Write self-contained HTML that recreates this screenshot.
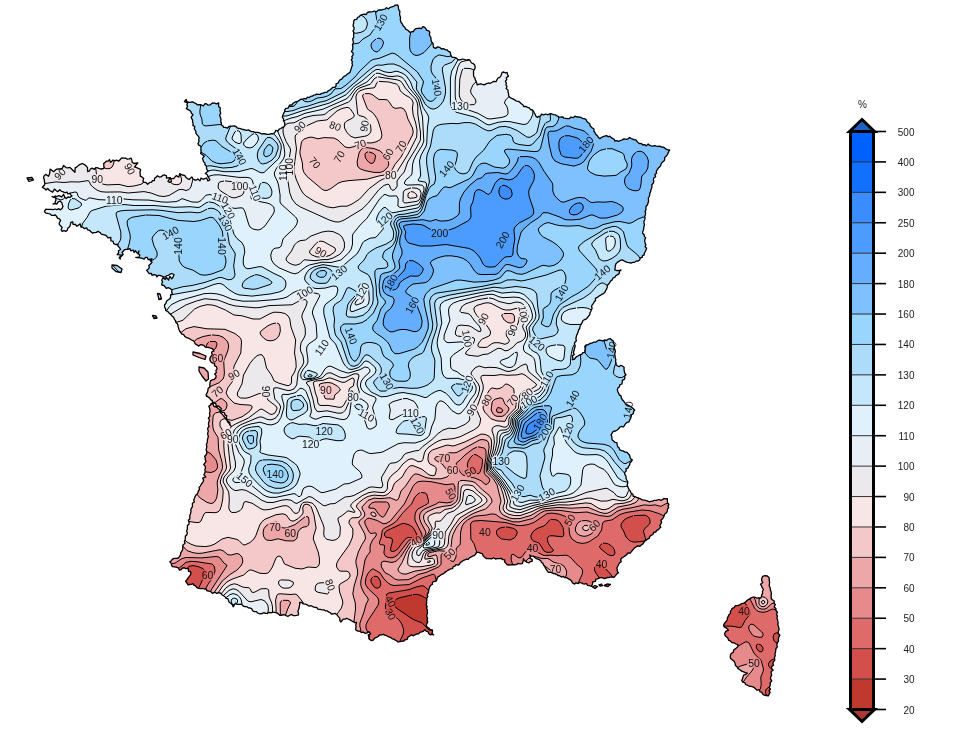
<!DOCTYPE html>
<html><head><meta charset="utf-8"><style>
html,body{margin:0;padding:0;background:#fff;}
svg{display:block;}
.cl{font-family:"Liberation Sans",Arial,sans-serif;font-size:10px;fill:#222;}
.lb,.lbm{font-family:"Liberation Sans",Arial,sans-serif;font-size:10.4px;text-anchor:middle;}
.lb{fill:#111;}
.lbm{fill:#000;stroke:#000;stroke-width:3px;}
</style></head><body>
<svg width="962" height="738" viewBox="0 0 962 738">
<defs><mask id="lm" maskUnits="userSpaceOnUse" x="0" y="0" width="962" height="738"><rect width="962" height="738" fill="#fff"/><g class="lbm"><text x="59.9" y="177.7" transform="rotate(-45 59.9 174.0)">90</text><text x="97.3" y="182.7">90</text><text x="129.8" y="172.5" transform="rotate(60 129.8 168.8)">90</text><text x="114.3" y="203.7">110</text><text x="239.6" y="190.0">100</text><text x="255.0" y="196.7" transform="rotate(70 255.0 193.0)">110</text><text x="220.0" y="201.7" transform="rotate(20 220.0 198.0)">110</text><text x="228.2" y="214.3" transform="rotate(60 228.2 210.6)">120</text><text x="225.4" y="226.6" transform="rotate(60 225.4 222.9)">130</text><text x="170.5" y="236.7" transform="rotate(-30 170.5 233.0)">140</text><text x="178.6" y="249.7" transform="rotate(-90 178.6 246.0)">140</text><text x="221.3" y="249.7" transform="rotate(90 221.3 246.0)">140</text><text x="239.6" y="160.3" transform="rotate(60 239.6 156.6)">140</text><text x="283.5" y="176.5" transform="rotate(-90 283.5 172.8)">110</text><text x="289.2" y="170.4" transform="rotate(-90 289.2 166.7)">100</text><text x="299.8" y="130.6" transform="rotate(-45 299.8 126.9)">90</text><text x="335.2" y="129.7" transform="rotate(20 335.2 126.0)">80</text><text x="314.8" y="166.4" transform="rotate(50 314.8 162.7)">70</text><text x="339.2" y="160.3" transform="rotate(-60 339.2 156.6)">70</text><text x="320.9" y="255.7" transform="rotate(30 320.9 252.0)">90</text><text x="339.2" y="276.2" transform="rotate(-40 339.2 272.5)">130</text><text x="304.7" y="296.5" transform="rotate(-30 304.7 292.8)">100</text><text x="380.7" y="26.1" transform="rotate(-60 380.7 22.4)">130</text><text x="436.8" y="91.1" transform="rotate(80 436.8 87.4)">140</text><text x="460.0" y="110.2">130</text><text x="364.4" y="129.7" transform="rotate(-80 364.4 126.0)">90</text><text x="360.3" y="148.1" transform="rotate(-20 360.3 144.4)">70</text><text x="388.0" y="158.2" transform="rotate(-60 388.0 154.5)">60</text><text x="401.0" y="150.1" transform="rotate(-60 401.0 146.4)">70</text><text x="390.8" y="178.6">80</text><text x="446.5" y="172.5" transform="rotate(-50 446.5 168.8)">140</text><text x="384.7" y="223.3" transform="rotate(-40 384.7 219.6)">120</text><text x="439.6" y="237.2">200</text><text x="502.7" y="243.7" transform="rotate(-60 502.7 240.0)">200</text><text x="586.0" y="148.1" transform="rotate(-50 586.0 144.4)">180</text><text x="390.8" y="286.3" transform="rotate(-60 390.8 282.6)">180</text><text x="362.4" y="294.5" transform="rotate(-60 362.4 290.8)">120</text><text x="602.3" y="276.2" transform="rotate(-40 602.3 272.5)">140</text><text x="561.6" y="296.5" transform="rotate(-60 561.6 292.8)">140</text><text x="412.2" y="308.9" transform="rotate(-60 412.2 305.2)">160</text><text x="351.3" y="339.4" transform="rotate(70 351.3 335.7)">140</text><text x="321.8" y="351.2" transform="rotate(-55 321.8 347.5)">110</text><text x="217.5" y="362.1">60</text><text x="233.8" y="378.3" transform="rotate(-30 233.8 374.6)">90</text><text x="265.6" y="395.3" transform="rotate(90 265.6 391.6)">90</text><text x="217.5" y="395.3" transform="rotate(-40 217.5 391.6)">70</text><text x="386.8" y="385.1" transform="rotate(60 386.8 381.4)">130</text><text x="325.9" y="393.6">90</text><text x="353.0" y="401.3">80</text><text x="366.5" y="419.0" transform="rotate(30 366.5 415.3)">110</text><text x="410.5" y="417.3">110</text><text x="417.3" y="429.1" transform="rotate(60 417.3 425.4)">120</text><text x="226.0" y="437.6" transform="rotate(-30 226.0 433.9)">60</text><text x="232.8" y="442.7">90</text><text x="324.2" y="435.2">120</text><text x="310.6" y="447.7">120</text><text x="275.1" y="478.2">140</text><text x="244.6" y="483.3" transform="rotate(40 244.6 479.6)">150</text><text x="275.1" y="530.7">70</text><text x="290.3" y="537.4">60</text><text x="523.3" y="317.8" transform="rotate(80 523.3 314.1)">100</text><text x="483.4" y="322.7" transform="rotate(-60 483.4 319.0)">90</text><text x="512.6" y="334.1" transform="rotate(-70 512.6 330.4)">90</text><text x="467.1" y="342.2" transform="rotate(80 467.1 338.5)">100</text><text x="537.0" y="347.1" transform="rotate(40 537.0 343.4)">120</text><text x="611.7" y="353.6" transform="rotate(-80 611.7 349.9)">140</text><text x="467.1" y="387.7" transform="rotate(-70 467.1 384.0)">120</text><text x="546.7" y="382.8" transform="rotate(-60 546.7 379.1)">110</text><text x="527.2" y="397.4" transform="rotate(-40 527.2 393.7)">80</text><text x="512.6" y="403.9" transform="rotate(-50 512.6 400.2)">70</text><text x="528.9" y="405.6" transform="rotate(-30 528.9 401.9)">100</text><text x="486.6" y="403.9" transform="rotate(-60 486.6 400.2)">80</text><text x="472.0" y="413.7" transform="rotate(-60 472.0 410.0)">90</text><text x="572.7" y="402.3" transform="rotate(-60 572.7 398.6)">140</text><text x="628.0" y="413.7" transform="rotate(-80 628.0 410.0)">140</text><text x="567.9" y="434.8" transform="rotate(-70 567.9 431.1)">120</text><text x="501.2" y="464.7">130</text><text x="444.4" y="461.8">70</text><text x="452.5" y="473.8">60</text><text x="470.4" y="475.4" transform="rotate(-30 470.4 471.7)">50</text><text x="450.9" y="497.5" transform="rotate(60 450.9 493.8)">50</text><text x="517.5" y="496.6" transform="rotate(-60 517.5 492.9)">130</text><text x="546.7" y="498.2" transform="rotate(-30 546.7 494.5)">130</text><text x="416.1" y="544.7" transform="rotate(-30 416.1 541.0)">40</text><text x="438.1" y="539.2">90</text><text x="449.6" y="557.5" transform="rotate(-45 449.6 553.8)">50</text><text x="390.5" y="605.1" transform="rotate(60 390.5 601.4)">40</text><text x="390.5" y="617.9" transform="rotate(60 390.5 614.2)">30</text><text x="330.1" y="588.6" transform="rotate(70 330.1 584.9)">80</text><text x="207.6" y="579.4">60</text><text x="569.8" y="523.9" transform="rotate(-60 569.8 520.2)">50</text><text x="594.5" y="529.2" transform="rotate(-45 594.5 525.5)">60</text><text x="532.6" y="552.2">40</text><text x="601.6" y="568.1">40</text><text x="555.6" y="573.4">70</text><text x="484.9" y="536.3">40</text><text x="540.0" y="425.7" transform="rotate(-60 540.0 422.0)">180</text><text x="545.0" y="435.7" transform="rotate(-60 545.0 432.0)">200</text><text x="744.0" y="614.7">40</text><text x="754.0" y="666.7">50</text></g></mask><clipPath id="fr"><path d="M45.7,174.4 L48.6,176.2 L49.8,173.0 L50.1,169.1 L53.6,171.7 L55.2,170.3 L56.8,169.1 L58.7,168.9 L60.6,169.0 L62.3,168.3 L63.5,165.5 L66.0,167.6 L67.9,167.8 L69.9,167.4 L71.5,169.0 L74.9,172.3 L75.2,167.9 L76.9,166.9 L78.5,165.4 L80.3,164.3 L82.3,163.5 L85.0,164.9 L86.5,166.3 L87.6,167.8 L87.5,169.8 L87.7,171.7 L89.5,170.8 L90.4,169.0 L92.1,168.2 L94.3,169.3 L95.8,167.6 L97.7,167.8 L99.5,168.6 L101.3,169.0 L104.0,168.3 L103.9,166.0 L103.7,163.6 L105.3,162.2 L106.5,161.1 L108.4,161.0 L109.4,159.5 L110.6,162.4 L113.1,160.0 L114.8,160.8 L116.5,160.1 L118.7,161.2 L120.2,159.5 L121.7,157.9 L123.7,158.2 L125.6,158.1 L127.4,159.2 L129.2,158.9 L131.0,158.1 L131.8,160.0 L132.1,162.1 L133.8,163.5 L137.8,162.8 L134.5,167.0 L136.5,167.6 L138.7,168.5 L140.6,169.6 L140.0,172.5 L140.2,174.3 L140.3,176.1 L142.3,177.3 L143.7,178.6 L142.9,180.8 L143.5,182.4 L145.6,182.3 L147.6,184.2 L149.7,182.4 L151.6,182.2 L152.4,180.6 L154.4,180.5 L154.6,178.2 L156.0,177.4 L157.4,175.8 L159.7,177.2 L161.4,176.7 L162.9,175.2 L164.7,175.0 L166.5,175.9 L166.5,178.1 L170.4,177.6 L168.0,181.4 L169.7,182.4 L171.4,181.6 L170.7,178.4 L173.5,178.7 L174.7,177.4 L176.2,175.6 L178.8,177.1 L179.7,173.7 L182.2,175.0 L184.6,175.4 L186.0,177.4 L187.5,178.6 L189.1,179.5 L191.8,176.9 L193.1,179.0 L194.7,180.0 L196.4,180.1 L197.9,179.0 L199.9,180.9 L201.1,178.0 L203.0,179.3 L204.6,178.7 L206.6,178.0 L207.8,180.8 L209.9,179.8 L209.0,178.1 L207.9,176.6 L207.4,174.8 L205.3,173.5 L208.2,171.1 L206.9,169.6 L206.5,168.0 L206.5,166.2 L205.0,164.8 L204.9,163.0 L203.5,161.6 L203.0,160.0 L202.6,158.3 L204.2,156.1 L202.5,154.8 L200.7,153.5 L201.1,151.6 L200.9,149.9 L201.0,148.1 L200.9,146.3 L198.8,145.1 L197.9,143.6 L199.1,141.5 L198.7,139.8 L199.2,137.7 L198.2,136.2 L197.1,134.8 L195.9,133.3 L195.9,131.4 L195.0,129.9 L194.3,128.4 L194.8,126.5 L192.8,125.4 L193.2,123.6 L192.5,122.1 L192.7,120.4 L191.9,118.9 L191.2,117.4 L193.0,114.7 L191.4,113.2 L190.7,111.3 L188.7,109.9 L186.3,108.6 L187.5,106.5 L186.9,104.8 L187.6,102.8 L184.4,101.7 L186.2,99.4 L186.7,101.3 L188.1,102.2 L190.0,102.4 L192.3,101.8 L194.1,102.7 L195.9,103.5 L197.5,104.9 L199.4,104.6 L201.4,104.9 L203.4,106.0 L205.0,103.7 L206.7,103.9 L208.2,105.2 L210.0,104.9 L212.4,102.9 L214.5,103.1 L216.6,103.9 L218.7,102.9 L218.6,104.7 L218.6,106.6 L220.3,108.1 L220.0,110.0 L220.2,111.6 L220.7,113.3 L219.6,115.0 L220.2,116.7 L220.8,118.3 L221.0,119.9 L220.7,121.6 L221.5,123.2 L221.2,124.9 L222.8,125.8 L223.7,127.4 L225.5,127.4 L227.4,128.2 L228.9,126.5 L230.6,126.1 L232.4,126.1 L234.1,126.0 L235.7,126.3 L237.0,127.8 L238.5,128.4 L240.2,128.5 L241.7,129.1 L243.3,129.5 L244.9,129.9 L246.5,130.4 L248.4,129.9 L250.0,130.9 L251.6,131.6 L253.3,131.6 L254.9,132.4 L256.7,132.4 L258.5,132.5 L260.2,133.1 L261.9,134.0 L263.8,133.6 L265.5,134.0 L267.3,134.4 L269.3,134.3 L271.1,133.7 L273.2,133.8 L274.8,132.4 L275.7,130.4 L278.1,130.8 L279.2,129.2 L280.8,128.5 L282.3,127.4 L283.8,126.8 L284.8,125.4 L284.9,123.6 L284.3,122.0 L283.4,120.6 L283.6,118.7 L282.3,117.4 L282.8,115.5 L283.5,113.6 L284.6,111.9 L284.8,109.9 L285.8,108.4 L288.1,108.2 L288.9,106.5 L289.8,104.9 L292.0,105.1 L293.1,103.2 L294.7,102.2 L296.5,101.6 L298.3,101.1 L299.8,99.9 L301.3,99.1 L303.0,99.2 L304.4,98.5 L306.3,98.9 L307.4,97.2 L309.3,97.7 L310.5,96.3 L312.2,96.2 L313.6,95.2 L315.2,94.9 L316.7,94.1 L318.5,94.4 L320.2,94.4 L321.6,93.4 L323.2,93.2 L324.7,92.4 L326.8,92.4 L328.1,90.9 L329.7,90.0 L331.3,88.9 L332.6,87.4 L334.7,87.4 L336.1,86.1 L336.0,83.8 L338.2,83.0 L338.9,81.3 L340.0,79.8 L341.8,79.2 L342.8,77.7 L344.0,76.3 L345.8,75.7 L347.0,74.3 L348.5,73.4 L350.0,72.4 L350.6,70.5 L351.2,68.6 L351.8,66.7 L352.5,64.9 L352.0,63.2 L352.4,61.6 L351.3,59.9 L352.4,58.2 L351.8,56.6 L353.1,54.9 L353.2,53.2 L351.4,51.6 L352.5,49.9 L352.8,48.1 L352.8,46.3 L352.4,44.5 L353.5,42.8 L353.1,40.9 L352.6,39.1 L353.7,37.4 L353.6,35.8 L353.6,34.2 L353.8,32.5 L353.0,30.9 L354.0,29.3 L354.1,27.7 L353.1,26.1 L353.3,24.4 L353.7,22.8 L353.7,21.2 L354.7,19.7 L356.8,19.4 L357.4,17.5 L359.1,16.8 L360.5,15.3 L362.2,14.6 L364.1,14.1 L366.3,14.5 L367.4,12.5 L369.2,12.0 L371.0,11.9 L372.8,11.7 L374.5,11.0 L376.6,11.9 L378.1,10.1 L379.9,10.0 L381.7,10.0 L383.3,9.3 L385.0,9.1 L386.4,7.7 L388.5,8.9 L389.9,7.5 L391.8,6.8 L393.7,6.3 L395.4,5.1 L397.4,5.0 L398.4,6.4 L398.4,8.2 L398.8,9.9 L399.9,11.2 L399.7,12.9 L399.6,14.5 L400.0,16.1 L400.6,17.7 L400.3,19.3 L400.6,20.9 L401.1,22.5 L402.4,24.1 L403.3,26.0 L404.9,27.4 L405.6,29.1 L407.3,30.0 L408.7,31.0 L409.8,32.4 L411.6,31.8 L413.5,31.5 L414.5,29.5 L416.1,28.7 L417.8,28.4 L419.6,28.1 L421.4,28.6 L422.9,26.7 L424.8,27.4 L425.9,28.8 L426.8,30.4 L428.9,30.8 L429.8,32.4 L429.3,34.4 L430.1,36.2 L431.0,38.0 L431.0,39.9 L431.5,41.8 L433.1,43.4 L433.2,45.4 L433.5,47.4 L435.6,48.4 L437.7,46.9 L439.8,47.4 L441.4,49.0 L443.6,48.6 L445.3,49.8 L447.3,49.9 L448.3,51.4 L450.3,52.2 L450.6,54.2 L451.2,56.0 L452.3,57.4 L454.4,57.4 L456.2,57.9 L457.8,59.5 L459.7,59.9 L461.4,59.5 L463.0,59.0 L464.7,59.5 L466.4,60.4 L468.0,59.6 L469.7,59.9 L470.6,61.5 L471.6,63.0 L473.4,63.7 L474.7,64.9 L475.1,66.6 L475.0,68.3 L474.1,69.9 L473.4,71.5 L473.6,73.2 L473.5,74.9 L473.8,76.7 L475.0,78.1 L475.2,79.9 L476.2,81.4 L476.8,83.1 L477.2,84.8 L479.1,84.1 L480.9,83.9 L482.8,84.5 L484.7,84.8 L486.4,83.6 L488.3,83.0 L490.4,83.3 L492.2,82.3 L493.7,81.3 L496.1,81.6 L497.0,79.7 L498.0,78.0 L499.7,77.3 L500.9,75.9 L501.5,74.1 L502.2,72.4 L503.8,72.0 L505.5,73.0 L507.1,72.4 L507.4,74.2 L508.4,76.1 L506.2,77.7 L506.8,79.5 L505.4,81.2 L506.4,83.1 L505.9,84.8 L507.0,86.4 L506.1,88.6 L508.0,90.0 L508.0,92.0 L508.6,93.9 L508.6,95.9 L510.0,97.5 L511.6,98.4 L513.4,99.1 L515.0,100.1 L516.5,101.2 L518.5,101.3 L520.0,102.5 L521.3,103.8 L522.8,104.7 L523.7,106.5 L526.0,106.3 L527.4,107.4 L529.3,107.8 L530.5,109.5 L532.4,110.0 L533.6,111.4 L534.3,113.0 L535.3,114.5 L535.9,116.3 L537.4,117.4 L538.8,116.4 L540.5,116.1 L541.6,114.2 L543.7,114.9 L545.7,114.0 L548.0,114.9 L549.9,113.7 L551.9,114.0 L553.8,114.6 L555.7,114.9 L557.4,116.2 L559.0,116.9 L560.7,117.1 L562.6,116.8 L564.0,118.2 L565.7,118.4 L567.4,118.7 L569.4,118.5 L571.0,117.1 L573.3,117.7 L574.9,116.2 L576.5,116.8 L578.2,117.0 L579.9,117.2 L581.5,117.7 L583.0,118.7 L584.8,118.7 L586.2,119.8 L586.9,121.6 L588.3,122.7 L589.8,123.7 L590.0,125.5 L591.1,126.8 L592.3,128.0 L594.0,129.0 L593.8,131.0 L594.8,132.4 L595.7,134.2 L597.2,135.6 L598.3,137.2 L599.8,138.6 L601.4,137.5 L603.0,136.7 L604.8,136.1 L606.5,135.6 L608.1,136.8 L609.8,136.1 L611.0,137.4 L612.5,138.4 L614.1,139.3 L614.8,141.1 L616.7,140.7 L618.7,141.3 L620.5,140.5 L622.3,139.9 L624.0,138.9 L626.3,139.4 L628.1,138.8 L629.7,137.4 L631.1,138.5 L632.7,139.1 L634.2,139.9 L636.0,139.9 L637.0,141.3 L638.2,142.7 L639.7,143.6 L641.4,143.5 L642.9,145.0 L644.7,144.6 L646.2,145.9 L648.2,144.0 L649.7,145.4 L651.3,145.9 L653.0,146.2 L654.7,145.6 L656.3,146.1 L658.0,146.4 L659.7,146.1 L661.3,147.0 L663.1,147.1 L664.7,147.9 L666.2,149.2 L667.8,149.9 L669.7,149.9 L668.8,151.5 L668.0,153.2 L667.2,154.9 L666.1,156.3 L664.7,157.5 L664.7,159.7 L663.8,161.2 L662.2,162.3 L661.1,163.8 L660.7,165.6 L659.5,167.0 L658.2,168.3 L657.2,169.8 L656.3,171.4 L656.5,173.3 L654.9,174.6 L655.6,176.8 L653.8,178.0 L653.4,179.8 L653.8,181.7 L653.2,183.3 L651.8,184.7 L652.0,186.5 L651.7,188.2 L650.9,189.8 L650.7,191.5 L649.9,193.1 L649.7,194.8 L649.3,196.5 L648.3,198.0 L648.5,199.8 L648.5,201.5 L647.9,203.2 L647.5,204.8 L646.2,206.2 L645.9,207.9 L646.0,209.7 L645.1,211.3 L645.6,213.0 L645.4,214.7 L644.7,216.3 L645.1,218.1 L644.7,219.7 L644.0,221.3 L643.9,223.0 L644.5,224.7 L643.9,226.4 L643.8,228.0 L643.5,229.7 L642.8,231.5 L642.5,233.2 L644.2,234.7 L644.3,236.4 L645.7,237.9 L644.7,239.7 L644.8,241.4 L645.1,243.1 L645.9,244.8 L645.1,246.6 L646.6,248.2 L646.0,250.0 L645.3,251.5 L644.4,252.9 L644.3,254.8 L642.5,255.7 L642.2,257.4 L640.4,257.9 L639.6,260.0 L638.1,261.0 L636.0,261.1 L634.7,262.4 L632.8,262.4 L631.0,263.1 L629.1,262.6 L627.2,262.4 L625.5,261.6 L623.9,260.8 L622.3,259.9 L620.4,260.3 L618.9,261.4 L617.3,262.4 L615.8,264.0 L615.3,265.9 L615.1,267.9 L614.8,269.9 L616.9,270.5 L618.9,270.6 L621.0,269.9 L619.5,271.3 L619.1,273.6 L617.3,274.9 L615.7,275.8 L614.8,277.4 L612.9,278.0 L612.3,279.9 L610.8,280.9 L609.8,282.4 L608.8,284.0 L607.3,285.3 L607.2,287.4 L606.6,289.1 L605.5,290.7 L604.8,292.4 L603.4,293.6 L601.8,294.3 L600.3,295.4 L598.7,296.3 L597.3,297.4 L595.4,298.3 L595.5,300.5 L594.3,301.8 L593.4,303.4 L592.3,304.8 L591.5,306.4 L592.1,308.3 L591.4,309.9 L590.7,311.5 L589.9,313.1 L589.8,314.8 L588.6,316.1 L587.5,317.5 L586.4,318.9 L584.6,319.6 L583.0,320.5 L582.3,322.3 L581.4,323.7 L580.7,325.3 L579.9,326.7 L579.8,328.5 L578.6,329.8 L578.1,331.7 L577.5,333.6 L576.6,335.4 L576.1,337.3 L575.9,339.0 L576.4,340.7 L574.9,342.2 L574.4,343.9 L575.2,345.7 L574.9,347.3 L574.3,349.0 L574.0,350.8 L573.4,352.5 L574.3,354.5 L572.2,356.0 L573.0,358.0 L572.4,359.7 L574.3,359.3 L575.4,357.8 L576.7,356.6 L578.3,355.7 L579.8,354.8 L581.7,354.4 L582.9,352.7 L584.8,352.3 L584.9,350.4 L585.2,348.5 L584.8,346.5 L586.1,344.8 L588.2,344.8 L589.8,343.5 L591.8,343.2 L593.5,342.2 L595.6,342.2 L597.3,341.0 L599.1,340.2 L601.0,340.4 L603.1,341.0 L604.8,339.8 L606.5,340.6 L608.4,339.1 L610.3,338.7 L611.8,340.2 L613.5,341.0 L613.2,342.8 L614.3,344.5 L614.4,346.3 L614.2,348.1 L614.8,349.8 L615.4,351.4 L614.9,353.1 L614.8,354.8 L615.1,356.4 L615.2,358.1 L615.9,359.7 L615.5,361.4 L616.1,363.0 L616.0,364.7 L617.4,365.7 L618.9,366.7 L620.8,365.3 L622.3,366.0 L624.1,367.3 L624.0,369.4 L624.3,371.3 L624.7,373.2 L626.0,374.7 L624.7,375.9 L624.9,377.9 L624.2,379.4 L622.4,380.4 L622.3,382.2 L621.8,384.0 L619.8,384.9 L619.4,386.8 L617.9,388.0 L617.3,389.7 L617.8,391.5 L618.6,393.2 L619.4,394.9 L621.1,396.1 L621.3,398.1 L622.3,399.7 L623.5,401.0 L624.6,402.3 L625.5,403.9 L627.2,404.7 L628.8,405.6 L630.4,406.5 L631.9,407.6 L633.3,408.8 L634.7,410.0 L633.5,411.5 L633.4,413.5 L631.6,414.7 L631.2,416.6 L630.6,418.4 L629.7,420.0 L629.0,421.8 L627.1,422.4 L625.7,423.5 L624.7,425.0 L623.7,426.8 L621.3,426.5 L619.7,427.2 L618.6,428.8 L617.2,430.0 L615.5,431.0 L613.3,431.4 L612.1,433.1 L611.0,434.9 L611.9,436.5 L611.8,438.2 L612.2,439.9 L613.5,441.1 L614.8,442.3 L616.9,442.7 L617.2,444.9 L617.7,446.8 L619.2,448.1 L619.7,449.9 L621.5,450.6 L623.5,451.1 L625.2,452.2 L627.2,452.4 L628.3,453.8 L629.6,455.2 L630.0,457.1 L630.6,458.8 L632.2,459.9 L631.5,461.6 L629.9,462.9 L629.7,464.9 L628.6,466.3 L627.9,468.1 L626.0,468.9 L626.1,471.1 L624.7,472.4 L624.7,474.4 L626.0,476.1 L626.0,478.2 L626.7,480.0 L627.7,481.5 L627.8,483.2 L627.1,485.0 L627.9,486.5 L628.3,488.1 L629.3,489.8 L630.5,491.3 L631.0,493.1 L632.9,494.3 L633.2,496.3 L635.0,496.4 L636.5,497.5 L638.2,497.8 L639.8,498.5 L641.3,499.5 L642.9,499.9 L644.6,500.2 L646.2,500.6 L647.8,501.1 L649.5,501.8 L651.1,501.3 L652.8,501.2 L654.3,500.3 L655.9,500.3 L657.5,500.0 L659.2,499.5 L660.8,500.3 L662.4,499.7 L663.8,498.4 L665.6,498.8 L667.3,498.7 L667.4,500.7 L667.5,502.7 L668.9,504.4 L668.0,505.9 L668.6,507.8 L667.4,509.2 L667.3,510.9 L666.6,512.8 L664.8,513.9 L664.1,515.8 L663.5,517.4 L662.4,518.9 L660.9,520.2 L661.6,522.3 L660.8,523.9 L659.8,525.4 L660.8,527.2 L659.5,528.3 L658.5,529.7 L656.6,530.3 L655.9,532.0 L653.8,532.3 L652.9,534.5 L651.1,535.3 L649.8,536.5 L649.2,538.3 L647.5,539.1 L646.2,540.2 L644.6,541.1 L643.8,542.6 L642.7,544.0 L641.3,545.0 L639.9,546.3 L638.0,545.9 L636.4,546.7 L634.9,547.6 L633.7,548.9 L632.6,550.2 L631.5,551.5 L630.3,553.2 L627.8,552.9 L626.7,554.8 L625.1,555.9 L623.5,557.0 L621.8,558.0 L620.6,559.5 L621.2,561.8 L619.4,563.0 L618.5,564.6 L617.8,566.2 L616.9,567.8 L617.2,569.5 L617.3,571.3 L618.5,572.7 L616.7,574.1 L615.3,575.9 L613.9,577.3 L612.1,576.9 L610.4,577.1 L608.8,577.6 L607.2,577.5 L605.5,578.3 L603.9,578.5 L602.3,577.6 L600.6,577.7 L599.0,578.2 L597.4,578.8 L595.8,579.2 L595.5,581.4 L592.8,581.9 L592.5,584.1 L591.6,586.3 L589.3,585.7 L587.6,585.4 L586.4,583.5 L584.4,584.1 L582.7,583.6 L581.2,582.8 L579.5,582.4 L578.1,583.6 L576.0,582.8 L574.6,584.1 L572.5,582.9 L571.4,580.8 L569.8,579.6 L568.2,578.6 L566.5,577.6 L564.7,577.7 L563.4,576.3 L561.4,577.1 L560.0,575.9 L558.1,575.5 L556.5,574.4 L554.7,573.6 L553.1,573.5 L551.6,572.7 L550.1,572.2 L548.4,572.4 L547.3,570.9 L546.3,569.5 L545.4,567.9 L544.7,566.2 L543.5,565.1 L543.0,563.4 L541.6,562.5 L540.9,561.0 L539.7,559.9 L538.0,559.1 L536.2,558.6 L534.7,557.4 L533.2,556.1 L531.1,556.2 L529.7,554.9 L530.3,556.5 L530.2,558.4 L532.1,559.4 L532.2,561.2 L530.5,561.6 L529.1,562.8 L527.2,562.4 L525.8,561.4 L524.2,560.5 L523.5,558.7 L523.3,560.4 L522.9,562.1 L522.2,563.7 L520.3,563.9 L518.3,563.4 L516.6,564.4 L514.7,564.9 L512.8,564.5 L511.0,564.9 L509.1,565.0 L507.2,564.9 L506.0,563.4 L504.7,562.0 L504.8,559.9 L502.9,559.6 L501.2,558.4 L499.2,558.7 L497.3,558.7 L495.4,559.0 L493.6,557.8 L491.7,558.9 L489.8,558.7 L488.0,558.6 L486.3,558.5 L484.8,557.4 L483.1,555.8 L482.3,553.7 L480.4,553.2 L478.6,552.4 L476.5,552.4 L475.5,554.4 L474.2,555.7 L472.3,556.2 L470.9,557.2 L469.4,557.8 L468.2,559.3 L466.3,559.1 L464.8,559.9 L463.2,560.5 L461.9,561.6 L460.4,562.3 L459.5,564.1 L458.2,565.2 L455.9,564.7 L454.9,566.2 L453.2,566.6 L452.5,568.7 L450.6,568.8 L449.2,569.7 L447.6,570.4 L446.3,571.4 L444.9,572.4 L443.6,573.6 L441.8,574.3 L440.4,575.3 L438.9,576.4 L437.4,577.4 L436.9,579.4 L436.1,581.1 L434.0,581.5 L432.4,582.4 L432.5,584.3 L430.8,585.3 L429.8,586.7 L429.3,588.3 L428.7,589.9 L428.6,591.6 L428.1,593.2 L427.2,594.7 L427.9,596.6 L426.7,598.1 L426.9,599.8 L426.5,601.5 L426.8,603.1 L426.1,604.8 L427.3,606.5 L426.4,608.1 L427.4,609.8 L427.3,611.5 L427.5,613.1 L426.9,614.8 L426.7,616.6 L427.6,618.4 L427.1,620.2 L427.8,621.9 L426.7,623.8 L426.3,625.6 L427.4,627.3 L429.0,628.2 L430.3,629.8 L432.4,629.8 L432.5,631.5 L432.0,633.4 L433.6,634.8 L432.0,634.3 L430.1,634.8 L428.7,633.5 L428.0,631.7 L426.1,631.1 L424.9,629.8 L423.5,631.1 L421.7,631.8 L419.9,632.3 L418.6,633.9 L416.6,634.0 L414.9,634.8 L413.4,635.8 L411.4,634.8 L409.9,636.0 L408.0,637.0 L407.2,639.3 L405.0,639.8 L403.6,641.2 L401.8,641.2 L400.0,641.5 L398.0,642.1 L396.5,640.7 L395.0,639.9 L393.6,639.1 L391.9,638.6 L390.7,637.4 L388.5,636.8 L386.5,635.7 L384.9,635.2 L383.3,634.4 L381.5,634.9 L379.5,635.0 L378.2,636.5 L376.6,637.4 L374.7,638.1 L373.5,639.9 L371.6,640.7 L369.0,639.0 L368.8,636.9 L368.2,634.9 L370.7,634.0 L369.0,631.6 L367.2,632.9 L364.9,633.3 L363.4,632.2 L361.4,632.5 L360.0,631.2 L357.8,631.1 L355.8,630.0 L355.8,628.3 L356.1,626.7 L355.8,625.0 L356.6,622.4 L354.7,622.6 L353.2,621.6 L351.6,620.8 L350.0,619.9 L348.3,619.0 L346.6,618.3 L345.1,619.1 L343.3,619.1 L342.0,620.5 L340.8,622.0 L339.8,620.3 L339.8,618.1 L338.3,616.6 L336.9,614.7 L335.0,613.3 L333.2,613.8 L331.5,614.0 L330.0,612.5 L328.5,611.9 L327.1,610.8 L325.4,610.8 L323.9,609.9 L322.2,609.8 L320.2,609.4 L318.2,609.3 L316.7,607.5 L314.7,607.3 L312.8,606.6 L311.1,605.7 L308.8,606.1 L307.2,604.8 L305.4,604.1 L303.3,603.9 L301.7,602.5 L299.7,602.3 L299.7,604.2 L299.4,606.1 L299.1,608.0 L298.5,609.8 L297.8,611.5 L298.5,613.1 L298.5,614.8 L296.8,615.3 L295.0,615.6 L293.3,615.7 L291.4,614.4 L289.7,615.3 L288.1,616.3 L286.4,615.8 L284.8,614.9 L283.1,614.7 L281.4,615.4 L279.8,615.3 L278.4,613.9 L276.7,612.9 L274.8,612.3 L272.8,612.1 L271.0,612.9 L269.0,612.3 L267.3,613.5 L265.6,613.4 L264.0,612.6 L262.3,613.5 L259.9,613.8 L257.6,613.0 L256.4,611.6 L254.3,611.6 L252.7,610.7 L251.8,608.8 L250.2,608.0 L248.2,607.8 L246.6,606.6 L244.5,606.7 L242.9,605.6 L241.4,604.1 L239.3,604.4 L237.2,604.4 L235.6,603.2 L234.3,604.9 L233.2,606.8 L232.4,604.7 L230.7,603.2 L229.2,602.3 L228.5,600.5 L227.9,598.7 L225.9,598.3 L225.0,596.7 L223.5,595.8 L222.0,594.8 L221.0,593.4 L219.0,592.7 L216.8,593.4 L214.9,592.2 L212.5,593.4 L210.8,591.7 L208.8,591.0 L207.1,590.9 L206.1,588.8 L204.3,589.0 L202.7,588.5 L200.6,588.6 L198.5,588.3 L196.6,587.3 L195.6,585.9 L193.9,585.2 L193.0,583.7 L191.4,584.4 L189.7,584.5 L188.0,584.9 L186.9,583.0 L185.6,581.2 L186.9,579.6 L188.1,578.0 L189.3,576.3 L190.4,574.9 L191.0,573.3 L190.5,571.5 L188.5,571.3 L188.2,568.4 L186.0,568.6 L184.4,567.8 L182.4,568.0 L181.3,569.7 L179.5,570.2 L178.3,567.8 L176.3,567.2 L174.3,566.8 L172.2,566.6 L171.5,564.9 L171.1,563.1 L169.8,561.7 L171.3,560.8 L172.2,559.3 L174.1,558.4 L176.3,558.4 L178.3,558.0 L179.5,556.6 L180.4,555.0 L180.7,553.1 L181.6,551.5 L182.5,549.9 L182.9,548.2 L182.8,546.4 L183.1,544.7 L185.0,543.5 L184.4,541.5 L185.0,539.9 L185.4,538.1 L185.3,536.3 L186.8,534.7 L187.4,532.9 L186.6,531.0 L187.4,529.2 L187.4,527.4 L187.4,525.6 L189.1,524.1 L189.0,522.2 L188.4,520.2 L189.9,518.7 L189.8,516.8 L189.9,515.0 L190.6,513.4 L191.0,511.7 L190.8,509.9 L191.3,508.3 L192.4,506.8 L192.4,505.0 L192.4,503.2 L194.4,502.0 L193.7,500.0 L194.4,498.4 L195.0,496.8 L195.7,495.3 L197.1,494.1 L198.0,492.6 L198.4,490.9 L199.5,489.5 L199.1,487.4 L200.4,486.1 L201.1,484.6 L202.1,483.2 L203.1,481.8 L203.6,480.1 L202.7,478.2 L205.8,476.9 L203.8,474.8 L204.7,473.2 L205.2,471.5 L204.9,469.7 L205.5,468.1 L205.3,466.4 L203.7,464.6 L204.9,463.0 L206.0,461.4 L205.2,459.7 L205.3,458.0 L204.7,456.3 L206.1,454.7 L206.9,453.1 L206.7,451.4 L206.1,449.7 L206.6,448.0 L206.8,446.4 L206.4,444.6 L207.0,443.0 L207.4,441.4 L207.4,439.7 L207.9,438.1 L208.4,436.4 L207.8,434.7 L207.7,433.1 L208.3,431.4 L207.9,429.7 L207.7,428.1 L209.1,426.5 L208.6,424.8 L208.5,423.1 L209.0,421.5 L209.6,419.8 L208.3,418.1 L209.8,416.5 L209.8,414.8 L209.5,413.1 L210.1,411.5 L209.9,409.8 L209.6,408.1 L208.8,406.3 L210.6,405.0 L211.1,403.5 L213.0,404.0 L213.6,406.2 L215.3,406.8 L217.1,407.4 L218.3,408.8 L219.8,409.8 L219.9,411.9 L221.0,413.3 L222.5,414.5 L223.5,416.0 L224.8,417.3 L226.0,418.6 L226.9,420.2 L227.6,421.8 L229.0,423.1 L229.8,424.7 L231.0,426.0 L229.8,424.3 L229.8,422.3 L228.0,421.3 L226.7,420.0 L226.5,418.0 L226.7,415.7 L224.8,414.8 L224.6,412.8 L222.1,412.2 L220.8,411.0 L221.3,408.4 L219.8,407.3 L218.5,406.0 L216.2,406.2 L215.8,403.6 L214.0,403.2 L212.4,402.3 L212.2,400.4 L210.5,399.6 L209.8,398.1 L208.4,397.1 L206.6,396.5 L206.1,394.8 L207.4,392.3 L207.9,390.4 L208.1,388.4 L209.9,386.9 L209.9,384.8 L210.0,382.8 L210.5,380.9 L212.4,379.8 L214.4,379.3 L215.9,377.8 L216.1,375.6 L214.6,374.1 L216.3,372.7 L215.9,370.5 L217.1,368.8 L216.5,366.8 L214.5,365.6 L214.6,363.2 L212.6,363.1 L211.0,362.0 L210.0,360.3 L209.8,358.3 L211.0,356.4 L212.2,354.6 L211.6,352.0 L214.0,351.0 L212.2,348.5 L210.6,348.1 L209.0,347.5 L207.3,347.3 L205.3,347.2 L204.1,345.6 L202.4,344.9 L200.3,344.6 L198.8,346.1 L197.0,344.9 L195.1,343.7 L194.5,341.9 L193.3,340.7 L191.5,340.0 L190.0,339.0 L188.3,338.2 L186.6,337.6 L184.8,336.5 L183.7,334.6 L181.7,333.9 L179.9,331.5 L179.0,329.5 L178.3,327.5 L178.0,325.4 L177.4,323.7 L175.9,322.5 L175.5,320.7 L174.4,319.3 L173.6,317.3 L172.0,316.0 L170.7,314.4 L169.1,313.1 L167.8,311.5 L165.9,310.7 L165.6,308.8 L164.6,307.1 L164.5,305.0 L165.9,303.4 L166.5,301.2 L168.3,299.8 L170.0,298.8 L170.6,297.0 L170.6,294.8 L172.6,294.0 L171.6,292.1 L172.0,290.0 L169.9,288.3 L168.3,287.7 L166.2,288.4 L165.0,286.7 L163.7,285.3 L161.8,285.0 L161.9,283.4 L162.5,281.8 L161.8,280.2 L162.8,278.0 L165.4,279.3 L166.7,277.7 L168.6,280.1 L169.8,276.3 L171.8,278.8 L173.2,276.9 L174.0,274.5 L171.9,273.5 L170.1,274.2 L168.3,275.3 L166.7,275.6 L165.2,277.2 L163.6,277.0 L161.8,276.1 L160.0,275.4 L158.3,275.3 L156.9,276.9 L155.8,274.8 L154.0,274.6 L152.0,275.3 L151.4,273.3 L149.0,273.5 L148.0,272.0 L146.7,270.2 L148.7,268.8 L149.3,267.2 L148.8,265.5 L150.5,264.0 L152.0,262.3 L150.1,260.6 L152.0,259.0 L150.2,259.1 L148.2,259.7 L147.2,257.4 L145.5,257.4 L144.1,259.2 L142.3,258.2 L140.7,258.2 L139.1,257.4 L137.5,257.4 L135.8,257.4 L138.7,257.8 L139.8,255.0 L138.0,253.2 L139.0,250.9 L138.2,254.1 L135.3,250.8 L134.1,252.5 L133.3,250.0 L130.9,250.9 L129.9,248.6 L127.8,249.4 L126.0,249.3 L124.2,249.8 L123.2,251.3 L122.0,252.5 L123.2,254.5 L121.8,255.9 L120.1,257.2 L120.3,259.0 L119.2,257.5 L121.9,255.1 L117.2,254.6 L118.7,252.5 L118.4,250.8 L120.7,249.5 L119.5,247.6 L118.0,246.3 L117.9,244.4 L115.5,244.5 L113.7,243.6 L113.0,241.1 L110.9,240.8 L110.8,237.3 L108.1,237.9 L106.8,236.3 L105.3,235.1 L103.3,234.6 L101.3,234.1 L100.0,232.5 L98.1,231.4 L96.3,232.4 L94.5,232.6 L92.4,233.0 L90.9,231.8 L89.5,230.3 L87.7,229.9 L86.6,227.8 L84.3,228.6 L82.9,227.2 L81.0,227.2 L80.3,223.9 L76.9,226.3 L75.5,224.5 L73.0,224.3 L72.8,221.8 L70.8,222.4 L70.5,224.1 L70.1,225.8 L69.1,227.2 L67.7,228.3 L67.3,230.2 L66.0,231.3 L64.0,230.6 L62.0,231.3 L61.2,229.6 L62.1,227.4 L60.6,225.8 L59.1,224.0 L59.6,222.2 L60.6,220.4 L59.4,218.9 L57.5,218.1 L56.6,216.4 L55.3,215.0 L53.3,215.3 L51.5,215.4 L50.1,213.9 L48.4,213.7 L46.1,213.2 L44.4,211.6 L45.7,209.2 L47.6,209.3 L49.5,209.3 L51.3,209.3 L53.3,209.6 L55.0,209.0 L57.0,209.7 L58.4,208.7 L60.5,209.8 L61.9,208.6 L63.0,206.5 L62.3,204.8 L62.0,203.0 L60.0,201.0 L58.2,201.8 L56.7,204.1 L54.7,203.3 L53.0,204.0 L55.2,203.6 L55.3,201.6 L56.0,200.0 L55.6,197.8 L53.7,197.2 L52.0,196.5 L53.7,197.4 L55.2,195.9 L56.8,196.8 L58.4,195.7 L60.0,196.0 L61.5,197.1 L63.5,194.3 L64.7,197.1 L66.2,198.5 L68.0,197.0 L70.2,197.3 L72.0,196.0 L70.8,195.0 L70.0,193.4 L67.6,193.8 L67.0,192.0 L65.0,192.8 L63.3,191.9 L61.5,191.4 L59.8,189.7 L57.7,191.8 L56.0,190.5 L54.4,189.1 L52.6,192.3 L51.0,191.2 L49.3,190.2 L47.7,188.5 L46.0,190.0 L44.8,188.6 L42.3,187.5 L44.4,185.0 L45.0,183.3 L44.4,181.7 L44.4,180.0 L43.5,177.8 L44.0,176.0 Z M193.0,352.0 L200.0,353.5 L206.0,356.0 L205.0,359.5 L199.0,357.5 L193.0,355.0 Z M199.0,367.0 L204.0,368.0 L208.0,372.0 L208.5,379.0 L206.0,381.0 L202.0,376.0 L199.0,371.0 Z M112.0,265.0 L117.0,265.5 L122.0,269.0 L121.0,272.5 L116.0,271.5 L112.0,268.0 Z M157.5,293.5 L160.0,294.0 L161.5,299.0 L159.0,299.5 Z M152.5,315.5 L156.0,316.0 L157.0,318.0 L154.0,318.5 Z M27.0,178.0 L32.0,177.5 L33.5,180.0 L29.0,181.5 Z M592.5,587.0 L595.0,585.5 L597.5,586.5 L595.0,588.5 Z M604.0,585.5 L607.0,584.0 L610.5,584.5 L608.0,586.5 Z M599.0,584.8 L601.5,584.0 L602.5,585.5 L600.0,586.2 Z"/></clipPath><clipPath id="co"><path d="M762.6,576.4 L764.9,575.6 L767.3,576.0 L769.1,577.7 L769.2,580.2 L769.6,582.1 L769.4,584.0 L769.2,586.0 L770.2,587.8 L770.3,589.7 L771.0,591.5 L771.4,593.4 L771.1,595.3 L771.2,597.0 L771.2,598.7 L772.7,599.9 L774.2,601.1 L774.0,602.9 L775.3,604.6 L774.2,607.1 L775.9,608.6 L775.9,610.5 L777.5,612.3 L776.5,614.3 L777.4,616.1 L776.8,618.1 L777.5,619.6 L777.8,621.2 L778.2,622.8 L777.7,624.5 L778.4,626.0 L778.7,627.6 L779.1,629.5 L778.4,631.4 L778.1,633.3 L779.9,635.2 L778.7,637.1 L778.4,639.0 L778.4,641.1 L777.4,642.8 L776.8,644.7 L777.3,646.8 L776.0,648.5 L775.7,650.3 L775.5,652.3 L774.9,654.1 L775.3,655.8 L774.5,657.3 L774.7,659.0 L774.6,660.6 L773.2,662.0 L773.0,663.6 L773.4,665.3 L771.6,666.6 L771.6,668.3 L773.1,670.2 L771.2,671.5 L771.1,673.1 L771.7,675.1 L770.7,676.9 L770.5,678.8 L771.8,680.8 L770.2,682.6 L770.2,684.2 L770.1,685.9 L769.1,687.4 L770.5,689.2 L769.0,690.7 L770.1,692.4 L769.2,694.0 L768.3,695.9 L766.3,695.5 L764.3,695.2 L762.6,694.0 L761.7,692.2 L760.0,691.8 L759.3,689.7 L756.9,690.2 L755.7,688.9 L754.4,687.8 L753.0,686.9 L751.2,686.4 L749.2,686.2 L747.4,685.2 L745.5,684.5 L744.9,682.6 L742.8,682.2 L741.7,680.7 L742.5,678.8 L743.0,676.9 L743.6,675.0 L745.7,674.4 L747.4,673.1 L745.4,672.7 L743.6,671.9 L741.7,671.2 L739.9,669.7 L737.9,668.4 L737.0,666.8 L735.5,665.5 L735.1,663.6 L734.1,661.3 L732.2,659.8 L730.4,658.3 L730.3,656.0 L731.1,653.6 L733.2,652.2 L733.9,649.8 L736.0,648.4 L737.6,646.9 L737.9,644.7 L735.9,644.0 L734.1,642.8 L731.9,642.5 L730.3,640.9 L728.5,640.2 L728.0,638.2 L726.6,637.1 L725.0,635.5 L724.7,633.3 L726.0,631.1 L728.4,630.4 L727.3,628.7 L725.6,627.6 L723.9,626.6 L723.7,624.7 L725.0,622.7 L726.6,621.0 L727.2,619.4 L727.5,617.7 L728.4,616.2 L729.0,614.6 L730.5,613.4 L730.3,611.5 L731.3,610.0 L732.2,608.3 L734.1,607.7 L735.4,605.6 L737.8,605.6 L739.8,604.8 L741.6,603.6 L743.7,603.1 L745.5,602.0 L747.2,600.3 L749.3,599.1 L751.1,597.9 L753.1,597.2 L755.1,597.2 L756.9,598.2 L758.8,597.8 L760.7,598.2 L761.4,596.6 L761.7,594.9 L762.6,593.4 L762.4,591.5 L763.4,589.5 L762.2,587.7 L761.6,585.9 L760.5,584.2 L762.8,582.5 L761.8,580.9 L761.6,579.2 Z"/></clipPath></defs>
<g clip-path="url(#fr)">
<rect x="0" y="0" width="962" height="738" fill="#a83a33"/>
<path d="M21.0,0.0 680.0,0.0 680.0,650.0 20.0,650.0 20.0,0.0Z" fill="#c0392f" fill-rule="evenodd"/>
<path d="M21.0,0.0 680.0,0.0 680.0,650.0 20.0,650.0 20.0,0.0ZM411.6,595.0 400.0,597.7 396.6,599.0 394.2,602.0 394.0,604.0 394.6,606.0 396.3,608.0 413.0,619.4 422.2,623.0 428.0,629.2 433.0,630.9 434.6,630.0 435.8,628.0 437.2,619.0 437.3,613.0 435.4,604.0 434.0,602.6 420.0,595.2 416.0,594.3 412.0,594.9Z" fill="#d24f4b" fill-rule="evenodd"/>
<path d="M21.0,0.0 680.0,0.0 680.0,650.0 506.9,650.0 498.4,641.0 493.0,633.6 492.0,633.1 461.0,641.3 459.0,641.5 457.1,641.0 456.0,638.9 450.4,640.0 449.8,639.0 450.0,638.0 454.3,629.0 455.2,624.0 453.0,620.0 451.3,619.0 449.0,618.9 447.7,618.0 446.7,613.0 445.1,609.0 444.7,603.0 444.0,601.1 441.2,597.0 439.0,595.1 429.0,590.4 424.0,586.2 422.0,585.7 416.0,587.0 409.0,589.6 388.9,593.0 387.0,593.9 386.4,595.0 385.4,607.0 386.0,610.7 388.0,612.8 395.7,617.0 399.0,619.8 401.8,624.0 403.5,629.0 403.7,632.0 403.3,634.0 399.4,642.0 398.8,650.0 177.5,650.0 182.0,633.2 187.3,609.0 186.9,603.0 190.0,597.3 197.0,592.0 205.1,574.0 205.1,571.0 203.0,568.6 198.0,566.5 193.0,565.6 189.0,566.3 185.0,571.0 174.8,577.0 172.7,580.0 172.8,583.0 171.0,585.5 169.0,590.5 162.0,595.3 145.0,612.5 140.6,616.0 105.0,650.0 20.0,650.0 20.0,0.0ZM632.3,516.0 627.2,518.0 624.0,520.1 621.1,524.0 621.1,527.0 623.6,531.0 626.0,537.0 630.0,541.0 634.0,542.2 644.0,541.2 645.0,540.7 645.6,539.0 643.4,531.0 645.0,528.3 649.6,524.0 650.1,522.0 649.7,519.0 648.0,516.6 645.0,515.2 633.0,515.8ZM549.2,520.0 547.0,523.2 544.0,525.9 537.0,528.5 533.8,531.0 531.4,534.0 530.9,537.0 531.5,539.0 533.2,541.0 539.1,543.0 543.3,550.0 545.0,551.7 548.0,552.5 552.0,551.8 553.1,551.0 553.4,550.0 550.0,546.0 548.2,543.0 547.2,539.0 547.9,537.0 549.5,536.0 552.0,535.7 562.0,536.8 563.4,536.0 563.9,533.0 562.8,527.0 559.0,521.3 556.0,519.7 552.0,519.2 550.0,519.5ZM401.3,524.0 387.0,530.6 385.3,532.0 384.3,534.0 384.8,536.0 386.0,537.2 391.0,538.0 392.3,539.0 392.3,542.0 390.5,550.0 391.0,551.2 392.0,551.6 395.0,550.8 398.0,548.6 402.8,542.0 406.5,538.0 409.0,537.4 416.0,538.1 417.0,537.9 417.6,537.0 415.7,532.0 413.0,527.5 409.0,524.8 404.0,523.4 402.0,523.6ZM504.3,527.0 500.0,528.0 498.1,529.0 496.5,531.0 496.5,534.0 498.7,537.0 501.8,539.0 510.0,540.0 514.4,538.0 516.5,535.0 517.3,532.0 516.0,530.0 513.0,528.2 509.0,527.1 505.0,526.9ZM601.4,544.0 600.0,545.3 599.6,547.0 602.1,550.0 608.7,555.0 612.0,555.7 614.0,555.0 615.0,553.0 614.8,551.0 613.3,548.0 611.6,546.0 607.0,543.4 604.0,543.1 602.0,543.7ZM596.7,565.0 594.5,567.0 594.5,570.0 596.0,573.3 599.4,578.0 602.0,583.7 604.0,584.6 611.0,582.5 612.3,581.0 612.8,579.0 612.5,577.0 611.4,575.0 602.0,564.8 600.0,564.1 597.0,564.9ZM372.6,577.0 370.7,580.0 370.9,582.0 371.9,584.0 375.0,587.6 377.0,588.2 379.0,587.5 380.5,586.0 380.9,584.0 379.4,579.0 377.0,576.5 375.0,576.2 373.0,576.7Z" fill="#de6a6a" fill-rule="evenodd"/>
<path d="M21.0,0.0 680.0,0.0 680.0,525.7 677.0,525.3 670.9,520.0 664.0,515.9 659.0,513.6 650.0,510.7 642.0,510.0 626.0,512.5 620.0,514.5 612.0,519.9 605.0,521.1 603.3,522.0 602.4,524.0 601.6,530.0 597.8,536.0 589.0,541.8 586.0,542.9 582.0,543.4 577.0,542.4 572.0,539.1 570.3,536.0 569.4,533.0 568.7,522.0 568.0,519.0 566.2,517.0 564.5,516.0 558.5,514.0 552.0,513.1 547.0,513.6 534.0,522.4 528.0,524.6 522.0,525.6 517.0,525.5 506.0,522.6 494.0,521.5 481.0,520.5 473.8,521.0 471.8,522.0 470.6,524.0 470.8,539.0 474.0,543.7 478.7,558.0 483.0,565.5 484.3,571.0 483.5,573.0 478.7,577.0 478.6,578.0 484.0,578.6 496.9,577.0 502.0,575.5 506.0,572.2 512.1,572.0 513.4,571.0 514.0,569.0 511.2,560.0 511.2,556.0 512.0,554.3 514.0,554.7 518.0,557.6 520.0,557.9 522.0,556.8 526.0,551.2 528.0,549.9 532.0,549.5 534.9,550.0 538.8,553.0 544.0,555.5 552.0,555.2 557.0,555.7 566.0,555.2 568.4,556.0 571.0,557.9 576.0,563.6 581.2,568.0 582.6,570.0 582.3,574.0 579.1,581.0 577.0,588.0 576.8,590.0 578.0,595.0 577.1,597.0 575.0,599.0 570.0,601.8 555.0,607.8 490.5,626.0 481.0,628.3 476.0,628.9 475.0,628.0 476.3,623.0 475.0,622.5 464.0,627.4 463.0,627.1 463.0,626.0 467.2,616.0 468.3,611.0 467.7,607.0 465.7,602.0 462.0,597.6 457.0,596.2 452.0,593.4 439.7,585.0 436.2,581.0 435.0,575.5 434.0,574.3 432.0,574.5 422.0,578.0 409.0,584.6 394.0,585.5 391.0,584.8 388.1,583.0 384.0,579.0 380.0,572.9 373.0,568.8 370.0,570.7 367.6,574.0 365.9,578.0 365.3,583.0 366.0,585.3 368.6,589.0 377.2,597.0 378.3,599.0 378.9,602.0 378.0,605.3 367.7,621.0 366.0,624.7 365.9,628.0 369.4,636.0 368.8,640.0 364.6,645.0 364.5,647.0 365.8,650.0 180.6,650.0 181.9,644.0 191.5,612.0 192.0,608.0 192.5,607.0 195.5,605.0 200.0,599.4 207.6,585.0 213.1,577.0 215.0,571.0 214.5,567.0 213.2,565.0 211.8,564.0 197.0,561.7 191.0,561.3 186.0,562.3 175.9,571.0 168.0,574.0 164.0,576.5 161.9,580.0 162.0,584.0 161.0,586.6 155.0,597.7 142.7,610.0 138.0,613.7 110.7,640.0 106.0,643.7 101.9,648.0 101.1,650.0 20.0,650.0 20.0,0.0ZM472.9,455.0 470.1,458.0 467.9,462.0 467.3,465.0 467.7,468.0 469.0,470.2 471.4,472.0 477.0,473.6 479.0,473.4 480.0,472.1 482.0,466.2 482.6,460.0 481.2,458.0 476.0,454.7 474.0,454.4 473.0,454.9ZM419.5,493.0 415.0,496.9 411.5,504.0 403.0,512.6 396.5,521.0 393.0,523.7 384.0,528.5 382.4,530.0 381.1,538.0 379.6,541.0 379.3,543.0 380.0,544.4 384.0,545.0 384.7,546.0 384.0,554.0 385.4,556.0 389.0,557.7 392.0,557.8 394.5,557.0 399.0,553.4 409.0,540.2 411.0,539.7 418.0,540.6 420.0,539.7 422.0,537.0 421.8,534.0 415.3,521.0 414.8,518.0 415.1,514.0 416.3,511.0 417.9,509.0 427.4,504.0 428.3,503.0 428.6,501.0 426.7,494.0 424.0,492.7 420.0,492.7ZM566.0,611.0 568.9,611.0 568.9,613.0 557.0,635.1 552.0,645.8 550.7,650.0 508.4,650.0 507.0,648.0 499.2,640.0 496.1,636.0 495.3,634.0 495.7,633.0 498.0,631.5 555.0,612.6 561.0,612.5 565.9,611.0Z" fill="#e68a8b" fill-rule="evenodd"/>
<path d="M21.0,0.0 680.0,0.0 680.0,511.2 673.0,509.1 671.6,505.0 670.0,503.6 668.0,503.2 665.2,504.0 661.0,506.4 655.0,504.9 650.0,505.4 644.0,504.9 632.0,507.7 622.0,509.4 617.0,511.4 611.0,515.7 608.0,516.5 600.0,515.6 587.0,512.0 576.0,512.7 560.0,510.4 552.0,510.2 544.2,511.0 540.4,513.0 533.0,518.4 519.0,521.9 513.0,521.8 502.0,518.5 500.0,517.6 496.0,514.6 494.0,514.0 491.0,514.0 486.0,515.1 476.0,516.0 472.0,517.4 467.5,520.0 464.1,523.0 462.2,526.0 460.6,532.0 460.2,544.0 459.8,545.0 457.0,547.3 456.1,549.0 456.0,557.0 454.0,561.1 453.0,561.5 451.0,560.9 449.1,559.0 447.0,555.6 444.1,554.0 442.0,553.6 441.1,555.0 441.1,564.0 440.0,565.7 438.0,567.2 426.0,572.5 418.0,574.5 413.0,577.5 408.0,579.7 398.0,580.0 394.8,579.0 389.7,575.0 385.0,572.7 381.4,567.0 381.1,564.0 381.9,562.0 384.0,561.1 392.0,562.5 396.0,561.3 400.5,557.0 410.0,542.5 412.0,541.6 419.0,541.9 421.0,540.5 424.0,537.0 425.7,534.0 425.9,532.0 420.7,522.0 419.5,518.0 419.9,514.0 422.0,510.9 425.0,508.8 436.1,504.0 439.0,502.1 447.0,502.9 451.0,502.2 453.9,500.0 455.0,497.4 454.9,487.0 454.0,484.4 453.0,483.8 446.0,484.7 431.0,481.7 423.0,481.1 418.0,481.7 415.0,483.8 413.0,486.4 404.3,504.0 390.4,521.0 386.0,523.5 383.0,523.7 377.0,520.4 369.0,518.1 367.0,518.7 364.7,521.0 365.0,524.0 369.0,531.9 371.0,533.6 375.0,532.8 376.0,533.1 376.4,534.0 375.9,536.0 372.6,540.0 370.7,544.0 370.0,547.0 370.1,552.0 367.0,555.9 365.0,560.0 362.5,574.0 360.8,581.0 360.8,585.0 361.6,588.0 364.0,593.0 367.8,598.0 368.3,600.0 366.1,604.0 364.0,612.0 359.9,623.0 359.8,626.0 361.0,631.0 358.4,635.0 357.6,640.0 353.0,641.9 351.7,645.0 350.7,646.0 349.0,646.6 329.9,646.0 331.0,647.0 335.0,648.5 336.4,650.0 189.0,650.0 189.6,648.0 194.0,640.3 197.0,630.8 200.3,615.0 200.3,612.0 199.4,610.0 199.7,609.0 201.5,607.0 204.8,599.0 209.2,595.0 211.7,589.0 226.8,566.0 226.8,565.0 223.9,563.0 220.0,557.9 218.0,556.8 216.0,556.5 202.0,557.9 186.0,557.5 182.0,558.6 175.0,563.1 170.0,564.0 169.0,563.0 169.0,555.5 166.0,555.2 165.3,554.0 161.0,541.0 157.0,531.8 154.0,527.3 141.0,513.0 140.0,512.6 140.0,515.2 142.7,526.0 143.2,530.0 146.4,541.0 146.2,544.0 145.0,544.7 114.0,532.3 94.8,523.0 20.0,493.1 20.0,0.0ZM367.1,152.0 365.0,154.0 365.6,158.0 369.0,162.3 372.0,163.5 373.9,162.0 374.9,160.0 375.7,157.0 375.3,155.0 372.7,153.0 368.0,151.8ZM208.7,342.0 207.6,343.0 206.6,345.0 206.0,348.0 206.3,350.0 207.0,351.1 209.0,351.7 213.0,350.6 215.0,349.0 216.4,347.0 217.0,345.0 216.8,343.0 216.0,342.0 214.0,341.2 209.0,341.9ZM497.4,408.0 496.4,410.0 497.0,412.0 500.0,412.8 502.0,412.1 502.7,411.0 502.0,409.0 500.0,407.7 498.0,407.6ZM476.9,447.0 473.0,448.9 465.0,455.0 460.0,460.1 456.3,463.0 456.4,465.0 460.7,473.0 462.9,475.0 467.0,476.5 475.0,478.1 481.0,480.7 485.0,484.2 487.0,484.4 489.2,482.0 489.9,480.0 489.0,478.0 485.0,474.6 484.1,472.0 484.4,467.0 486.0,457.0 486.0,451.0 485.0,448.6 484.0,448.0 480.0,447.0 477.0,447.0ZM35.1,451.0 39.7,453.0 43.0,453.3 56.0,457.0 99.0,467.0 115.0,469.8 118.0,469.9 119.0,469.4 119.0,467.4 114.9,457.0 113.0,454.1 111.0,453.1 95.6,453.0 90.0,452.0 71.0,452.0 65.0,451.0 45.0,451.0 40.0,450.1 36.0,450.3ZM192.6,451.0 190.4,453.0 189.7,456.0 189.8,466.0 191.0,469.4 197.0,472.4 199.0,472.9 204.0,471.7 209.0,472.5 213.0,472.2 216.0,470.2 217.5,467.0 216.8,462.0 214.0,457.0 210.0,453.1 206.0,451.2 199.0,450.2 193.0,450.9ZM374.4,502.0 370.6,504.0 369.0,506.0 368.9,508.0 374.0,508.4 375.0,509.0 380.0,515.8 383.0,517.1 384.5,516.0 389.1,508.0 389.4,506.0 388.9,504.0 388.0,502.8 386.0,501.9 375.0,501.9ZM582.0,520.8 586.0,520.5 590.0,521.5 593.0,523.6 594.7,526.0 594.8,529.0 593.3,532.0 591.0,534.1 587.0,535.9 584.0,536.3 580.0,535.5 577.0,533.5 575.5,531.0 575.4,528.0 577.0,524.2 579.0,522.0 581.3,521.0ZM532.0,556.8 536.0,556.8 542.0,558.6 548.0,558.5 554.0,562.4 561.0,564.3 564.0,566.2 565.8,569.0 566.7,572.0 566.4,575.0 564.2,580.0 563.5,583.0 564.6,591.0 563.4,594.0 560.9,596.0 525.0,605.9 498.0,610.4 495.0,610.3 493.0,608.0 492.0,608.0 485.0,610.3 483.0,610.5 482.0,609.9 479.6,605.0 478.1,595.0 478.1,591.0 478.9,588.0 480.2,586.0 484.7,583.0 491.9,581.0 506.0,578.2 515.9,575.0 517.9,573.0 521.6,566.0 528.0,558.8 531.4,557.0ZM555.0,614.9 557.1,615.0 557.7,616.0 557.4,618.0 548.2,650.0 509.6,650.0 508.4,648.0 500.0,639.4 496.9,635.0 496.9,634.0 499.0,632.6 531.3,622.0 538.0,620.6 554.8,615.0Z" fill="#eda7a8" fill-rule="evenodd"/>
<path d="M21.0,0.0 680.0,0.0 680.0,478.9 677.4,497.0 676.6,498.0 675.0,498.2 665.0,494.5 658.0,495.5 646.0,491.0 644.0,490.7 641.0,492.6 638.6,499.0 637.0,501.3 635.0,502.8 630.0,504.7 618.0,507.0 610.0,512.1 607.0,513.3 604.0,513.3 600.0,512.4 588.0,507.4 571.0,508.2 558.0,507.4 543.0,508.9 540.0,510.0 531.0,515.4 520.0,518.6 512.0,518.6 503.2,515.0 500.5,512.0 499.7,510.0 499.4,507.0 501.0,501.0 497.1,485.0 493.5,479.0 486.3,472.0 486.2,465.0 487.9,457.0 489.1,447.0 488.7,443.0 487.0,440.5 483.0,439.6 480.0,439.8 457.0,452.3 455.0,452.8 449.0,452.8 436.0,456.9 434.7,458.0 435.3,460.0 442.2,464.0 448.4,472.0 449.0,475.0 447.0,477.0 441.0,478.8 433.0,478.8 426.0,477.6 418.0,474.2 415.0,473.9 412.0,476.3 405.6,486.0 401.0,491.0 398.8,498.0 397.5,500.0 396.0,500.3 390.0,497.7 381.0,498.6 374.0,498.2 368.0,500.4 362.0,506.9 362.3,509.0 364.6,513.0 364.8,515.0 363.9,517.0 359.2,521.0 358.8,523.0 364.8,534.0 365.5,538.0 364.9,540.0 362.0,544.5 358.3,552.0 356.0,560.0 355.9,563.0 357.5,570.0 357.7,574.0 354.1,586.0 352.8,594.0 355.3,603.0 355.5,609.0 353.3,627.0 350.8,634.0 345.6,641.0 343.0,642.2 334.0,641.4 309.0,636.5 305.0,636.5 300.0,638.0 300.2,639.0 301.4,640.0 307.0,642.9 315.0,644.2 330.9,650.0 190.0,650.0 195.0,640.5 197.4,634.0 202.2,613.0 204.0,610.0 205.3,605.0 211.5,599.0 215.0,591.3 222.3,581.0 230.0,574.5 237.0,570.1 240.8,566.0 242.5,563.0 242.8,561.0 242.3,558.0 241.1,556.0 239.0,554.1 237.0,553.5 231.0,555.0 228.0,554.8 223.0,550.7 220.0,549.7 202.0,553.2 198.0,553.4 193.0,552.7 187.0,550.6 181.0,544.1 177.0,541.0 175.0,541.1 172.0,542.8 171.0,542.1 169.7,534.0 165.1,519.0 160.6,507.0 155.3,496.0 148.0,484.8 141.0,477.0 131.0,468.7 118.0,450.6 110.6,437.0 107.2,429.0 103.9,424.0 98.0,407.9 94.6,401.0 92.6,401.0 25.0,426.7 20.0,428.2 20.0,0.0ZM363.0,148.0 360.7,150.0 358.7,154.0 357.0,163.0 357.2,165.0 358.2,167.0 360.0,168.6 362.9,170.0 374.0,172.4 379.0,172.5 383.8,171.0 387.0,168.0 388.7,165.0 388.2,161.0 386.0,156.5 380.1,151.0 377.0,149.4 367.0,147.6 363.0,148.0ZM210.7,335.0 203.0,336.5 196.9,339.0 195.0,340.5 191.3,345.0 187.0,348.0 185.2,350.0 184.2,353.0 184.1,358.0 187.6,379.0 187.7,386.0 187.0,387.9 186.0,387.7 180.2,380.0 178.0,378.3 177.0,378.5 176.0,380.9 175.6,387.0 181.5,484.0 182.5,491.0 183.5,493.0 185.0,493.3 189.0,488.7 191.0,487.6 200.2,498.0 207.0,502.4 211.0,503.5 213.0,503.0 214.4,502.0 216.7,498.0 217.9,490.0 217.2,484.0 217.4,481.0 219.5,475.0 221.9,470.0 222.6,467.0 222.0,462.0 218.7,450.0 218.0,437.4 214.0,431.1 213.0,428.0 212.6,423.0 213.1,416.0 214.2,414.0 215.6,413.0 225.0,410.2 226.4,408.0 227.1,405.0 226.1,402.0 222.0,398.7 220.0,398.8 215.0,402.5 212.0,401.8 207.6,397.0 206.3,394.0 206.3,392.0 207.5,389.0 209.2,387.0 219.0,382.8 223.0,379.0 224.0,376.3 224.4,373.0 223.7,361.0 227.8,351.0 228.7,346.0 228.2,343.0 227.1,341.0 222.6,337.0 218.0,335.4 211.0,335.0ZM499.5,398.0 495.0,399.2 493.0,400.7 491.6,404.0 491.2,409.0 491.9,412.0 494.1,415.0 497.0,416.3 501.0,416.6 503.0,416.1 505.7,414.0 508.2,411.0 509.0,409.0 508.2,407.0 504.9,404.0 503.0,399.1 502.0,398.3 500.0,397.9ZM304.8,517.0 295.0,524.7 287.0,527.7 285.0,528.1 282.0,527.6 280.9,527.0 278.3,523.0 277.0,522.2 275.0,522.0 271.0,523.2 267.3,525.0 265.0,527.0 263.8,529.0 263.1,532.0 263.5,536.0 265.0,538.8 267.0,540.1 271.0,540.5 278.0,538.8 287.0,540.9 291.0,541.2 294.0,540.7 296.0,539.4 297.0,538.0 297.7,533.0 299.1,530.0 302.0,527.6 307.0,526.5 308.5,525.0 309.1,522.0 308.7,518.0 308.0,516.8 305.0,516.9ZM281.4,601.0 280.1,604.0 280.5,614.0 282.0,616.1 284.0,616.8 285.0,616.3 290.6,603.0 290.0,601.6 288.0,600.4 285.0,600.1 282.0,600.6ZM21.0,451.2 99.0,469.7 120.0,473.6 122.0,474.7 125.0,480.2 133.8,507.0 136.6,513.0 140.4,525.0 140.8,528.0 140.0,529.6 138.0,530.0 109.0,525.2 91.0,520.1 43.0,500.5 20.0,491.7 20.0,451.0ZM460.0,480.7 463.0,480.4 472.0,481.4 475.0,482.6 482.6,490.0 489.0,495.2 491.6,499.0 492.0,502.0 488.0,506.9 485.4,509.0 475.0,512.7 470.0,515.2 464.0,519.0 459.0,524.0 456.1,528.0 453.0,534.4 452.0,538.0 451.0,547.0 449.1,550.0 446.0,551.3 439.0,550.7 430.0,552.5 428.0,553.7 427.6,556.0 429.0,556.8 435.0,555.0 436.0,555.0 436.9,556.0 437.9,563.0 436.7,565.0 435.0,566.2 424.0,569.7 415.0,571.1 406.0,574.1 403.0,573.9 400.4,573.0 398.4,571.0 398.0,569.0 402.0,562.6 406.6,552.0 410.8,545.0 413.0,543.4 418.0,543.4 420.0,542.8 426.2,536.0 428.9,532.0 429.4,530.0 429.0,528.2 425.0,522.5 423.7,519.0 423.6,516.0 424.4,514.0 427.0,511.9 435.0,508.2 443.0,506.4 451.0,505.4 455.0,502.9 456.6,501.0 457.8,498.0 458.2,484.0 458.6,482.0 459.4,481.0ZM373.0,512.0 375.0,513.0 376.0,514.9 376.0,516.0 375.0,516.5 372.4,516.0 370.8,514.0 371.0,512.8 372.8,512.0ZM584.0,525.7 586.0,525.3 588.2,526.0 589.3,528.0 588.0,530.1 586.0,530.7 583.6,530.0 582.5,528.0 583.5,526.0ZM535.0,562.8 538.0,562.5 541.0,563.4 550.0,569.9 552.0,571.9 553.6,575.0 554.7,579.0 554.5,585.0 554.1,586.0 553.0,586.6 518.0,591.9 513.0,591.0 505.0,592.6 503.0,592.0 502.1,591.0 499.8,587.0 500.5,585.0 506.4,582.0 518.0,578.6 521.6,577.0 522.9,575.0 523.8,570.0 525.0,568.2 534.5,563.0ZM531.0,623.9 533.0,623.7 533.7,624.0 533.9,625.0 529.2,650.0 511.4,650.0 510.5,648.0 501.0,638.1 499.3,635.0 500.5,634.0 530.8,624.0Z" fill="#f4c8c9" fill-rule="evenodd"/>
<path d="M21.0,0.0 680.0,0.0 680.0,429.5 679.0,431.5 677.9,437.0 674.6,480.0 672.6,492.0 672.0,492.6 670.0,492.7 663.0,490.2 658.0,491.6 656.0,491.6 647.0,488.0 644.0,487.6 640.1,489.0 637.6,491.0 634.2,498.0 631.0,501.1 624.0,503.2 615.0,504.0 609.0,508.3 606.0,509.6 603.0,509.7 600.0,508.9 590.0,503.2 585.0,503.0 568.7,505.0 558.0,504.8 544.0,506.7 539.0,508.0 532.0,511.5 521.0,515.4 513.0,515.3 507.0,513.6 504.0,511.0 503.0,508.0 504.7,501.0 501.2,488.0 496.4,480.0 487.8,471.0 487.3,468.0 487.6,464.0 491.2,449.0 491.7,443.0 491.1,439.0 489.0,436.2 485.0,434.3 481.0,434.1 465.0,441.9 455.0,445.5 453.0,446.0 448.0,445.1 446.0,445.3 434.0,449.2 431.0,450.9 429.2,453.0 428.3,455.0 427.9,458.0 428.3,461.0 430.0,464.0 435.0,466.5 436.2,468.0 436.1,471.0 435.0,475.0 433.0,475.8 430.0,475.2 427.8,474.0 422.0,469.3 413.0,465.6 410.0,465.9 406.7,469.0 402.0,477.1 395.0,482.7 393.6,485.0 392.0,490.0 387.9,494.0 386.0,495.1 383.0,495.8 374.0,495.1 368.0,496.4 363.3,499.0 358.4,503.0 356.8,505.0 356.5,507.0 360.6,512.0 361.3,515.0 359.0,517.2 357.0,517.7 352.0,517.8 349.4,520.0 349.0,523.3 352.8,529.0 352.9,534.0 352.2,538.0 349.1,545.0 338.4,560.0 336.5,564.0 336.6,567.0 339.0,570.6 341.0,571.2 347.0,571.2 349.0,572.4 350.1,575.0 349.7,577.0 348.0,579.3 340.1,584.0 339.0,585.9 339.6,592.0 342.4,600.0 342.9,603.0 341.4,608.0 336.4,615.0 335.2,623.0 334.9,630.0 333.0,632.9 330.0,634.4 326.0,634.1 321.0,632.0 316.9,629.0 314.4,624.0 310.4,618.0 307.2,609.0 302.0,601.0 297.0,594.8 295.0,594.0 291.0,594.5 280.0,593.8 278.0,594.1 277.0,595.1 275.6,600.0 276.1,609.0 276.0,617.0 282.0,628.0 282.5,631.0 280.1,633.0 280.1,634.0 283.2,637.0 283.0,638.0 281.2,640.0 281.0,650.0 190.7,650.0 196.0,640.0 198.4,634.0 201.6,625.0 204.2,615.0 204.7,614.0 207.2,612.0 207.1,607.0 212.0,601.8 216.0,595.0 218.7,592.0 222.8,586.0 227.0,581.9 232.0,579.2 243.7,575.0 248.0,571.0 250.0,569.9 252.0,570.2 260.0,573.3 265.0,573.6 267.9,573.0 269.2,572.0 272.4,567.0 276.0,558.1 277.0,556.9 279.0,556.0 281.0,556.9 281.8,558.0 284.5,564.0 295.0,568.2 302.0,569.0 308.0,567.0 316.0,567.6 318.5,566.0 319.5,563.0 319.4,558.0 318.2,552.0 313.3,539.0 313.6,536.0 316.1,528.0 314.0,515.0 311.3,507.0 310.0,505.5 308.0,504.5 306.0,504.2 303.8,505.0 302.7,508.0 303.2,512.0 302.6,514.0 298.0,518.7 294.0,520.9 292.0,521.0 290.0,520.2 286.3,515.0 283.0,513.8 276.0,514.7 265.0,519.2 262.0,521.6 259.7,525.0 256.0,535.2 254.0,538.9 250.0,542.5 245.0,544.9 243.0,544.7 239.0,540.6 237.0,539.4 228.0,537.3 222.0,539.0 214.8,544.0 210.0,545.9 205.0,546.6 196.0,546.0 191.0,544.2 187.0,542.0 183.9,539.0 180.5,534.0 176.9,531.0 177.0,528.0 178.0,523.9 179.3,521.0 181.0,519.3 185.9,521.0 196.0,522.5 199.0,522.5 201.0,521.0 204.0,514.0 205.0,512.9 207.0,512.4 215.0,512.7 218.0,512.0 219.9,510.0 221.0,507.2 222.6,500.0 223.2,492.0 222.9,489.0 220.4,483.0 220.4,481.0 221.9,476.0 225.9,470.0 226.6,467.0 224.3,453.0 223.8,446.0 223.9,434.0 223.0,431.2 220.0,426.0 220.0,422.0 221.4,420.0 224.0,418.7 232.0,420.4 242.0,416.8 248.9,412.0 251.4,409.0 252.1,407.0 251.8,406.0 250.0,405.1 240.0,404.5 234.0,403.0 228.1,397.0 226.1,393.0 227.7,388.0 232.8,381.0 233.4,378.0 233.5,370.0 234.1,366.0 236.0,361.6 240.0,355.0 241.0,352.0 241.4,341.0 240.4,338.0 238.5,336.0 234.0,333.1 225.0,329.3 207.0,328.8 194.0,326.6 186.0,328.7 177.0,335.5 172.4,338.0 170.7,341.0 170.0,347.4 169.0,347.2 164.0,340.1 162.8,340.0 161.5,362.0 154.7,447.0 154.0,452.0 153.0,452.8 149.0,449.8 132.0,431.7 130.0,431.4 126.5,434.0 124.0,434.6 122.0,434.0 119.0,431.6 114.0,424.9 102.0,403.0 98.0,397.7 95.0,397.6 92.0,398.3 20.0,425.4 20.0,0.0ZM363.6,94.0 362.7,95.0 362.8,97.0 367.0,108.0 368.6,110.0 371.8,112.0 373.8,114.0 376.1,117.0 378.0,121.0 381.8,134.0 381.7,137.0 380.7,139.0 378.0,141.2 372.0,142.8 369.0,143.1 362.0,142.5 354.0,146.6 349.0,147.8 345.0,146.9 338.0,140.1 334.0,138.0 324.0,137.6 318.0,138.8 311.0,137.1 306.0,138.1 304.0,139.1 301.9,141.0 300.0,151.0 300.3,156.0 302.4,163.0 302.9,170.0 304.8,174.0 307.0,176.5 321.8,189.0 325.0,190.5 329.0,189.7 338.0,183.3 342.0,181.7 348.0,180.7 367.0,179.2 386.0,174.6 389.0,173.0 391.1,171.0 395.0,164.4 401.1,157.0 412.5,135.0 413.2,132.0 412.8,129.0 411.7,126.0 407.9,119.0 405.3,111.0 403.0,108.4 400.0,107.7 396.0,108.3 394.0,107.9 392.0,106.4 389.0,101.6 387.3,100.0 385.0,99.5 379.0,99.6 372.0,94.4 368.0,93.6 364.0,93.9ZM106.9,149.0 105.0,151.0 103.2,155.0 102.1,161.0 102.2,164.0 103.7,167.0 105.0,168.2 108.0,168.8 111.0,167.9 112.8,166.0 113.8,163.0 113.5,157.0 111.0,150.0 109.0,148.6 107.0,148.9ZM502.4,314.0 501.8,315.0 502.2,317.0 505.2,321.0 509.0,322.9 511.0,323.2 513.0,322.8 514.0,321.8 514.5,319.0 514.3,316.0 513.2,314.0 511.0,313.5 503.0,313.8ZM275.8,323.0 272.0,323.9 268.0,325.7 262.1,330.0 260.3,332.0 260.1,333.0 260.9,335.0 264.8,339.0 268.0,340.6 272.0,340.7 274.4,340.0 277.0,338.3 278.8,336.0 279.9,333.0 280.3,329.0 279.6,325.0 278.0,323.2 276.0,323.0ZM323.0,383.0 320.0,383.8 319.3,385.0 320.1,391.0 323.9,395.0 325.0,398.3 327.0,399.1 333.0,399.4 334.2,399.0 334.8,395.0 339.6,391.0 340.3,389.0 337.2,386.0 332.0,383.1 328.0,382.5 323.0,383.0ZM504.5,385.0 502.0,387.3 499.0,388.6 497.0,388.9 492.0,387.9 490.0,389.3 488.0,392.3 484.9,399.0 483.1,407.0 483.3,409.0 484.7,412.0 491.0,418.8 497.0,420.9 505.0,421.4 507.7,416.0 515.6,408.0 516.3,402.0 516.0,399.3 514.4,395.0 513.7,389.0 512.0,387.1 508.0,384.4 506.0,384.0 505.0,384.5ZM464.0,485.0 469.1,485.0 473.3,486.0 477.7,491.0 485.2,497.0 486.7,499.0 487.1,501.0 485.7,503.0 482.0,505.8 469.0,512.4 459.8,518.0 453.2,527.0 450.3,532.0 448.9,536.0 448.2,544.0 447.4,546.0 445.7,548.0 443.9,549.0 439.0,549.4 429.0,551.3 426.1,553.0 424.8,557.0 425.0,559.2 432.0,558.2 433.0,558.4 434.3,560.0 434.6,563.0 433.7,564.0 431.4,565.0 421.0,566.7 413.0,566.8 409.4,566.0 408.0,564.4 407.6,562.0 408.1,557.0 409.4,552.0 413.0,545.9 415.0,544.9 420.0,544.2 427.5,536.0 431.3,531.0 432.2,528.0 428.0,520.0 428.1,517.0 430.0,515.3 433.0,513.9 436.0,512.9 440.0,513.0 445.0,509.5 452.0,508.1 456.0,505.5 458.3,503.0 460.0,500.0 461.1,488.0 462.0,486.0 463.8,485.0ZM21.0,486.0 131.0,510.0 133.9,512.0 135.0,514.3 138.0,523.5 138.0,526.3 133.0,526.0 109.0,522.0 90.4,518.0 25.0,491.4 20.0,489.9 20.0,485.8ZM313.0,646.8 319.2,648.0 321.1,649.0 321.5,650.0 312.8,650.0 312.8,647.0Z" fill="#f8e5e5" fill-rule="evenodd"/>
<path d="M21.0,0.0 680.0,0.0 680.0,390.9 679.0,392.4 677.0,397.9 675.5,406.0 671.1,468.0 668.7,484.0 667.7,487.0 666.0,487.6 660.0,486.2 657.0,487.7 655.0,487.9 647.0,485.4 643.0,485.7 637.4,488.0 634.3,490.0 632.7,492.0 629.4,498.0 627.0,499.7 624.0,500.6 621.0,500.8 613.0,499.3 607.0,501.0 601.0,501.1 591.0,498.2 588.0,498.1 574.0,501.1 565.0,502.2 558.0,502.3 542.0,505.3 535.5,507.0 520.0,512.7 515.0,512.4 508.0,510.3 506.7,509.0 506.2,507.0 507.7,501.0 504.4,490.0 498.9,481.0 494.0,475.1 490.0,471.3 488.8,469.0 488.8,464.0 493.2,450.0 494.4,442.0 493.8,436.0 492.1,431.0 492.1,429.0 493.4,427.0 496.0,425.8 499.0,425.7 504.0,427.2 506.0,427.0 507.5,426.0 508.7,424.0 508.9,419.0 509.6,417.0 514.0,412.4 518.3,409.0 519.6,396.0 520.9,393.0 523.0,391.4 529.0,389.8 532.9,388.0 535.9,386.0 536.4,385.0 536.3,384.0 525.0,375.1 522.0,373.7 517.0,374.9 507.0,375.3 501.0,374.6 493.0,375.5 483.0,375.4 481.4,376.0 480.8,378.0 483.1,385.0 483.3,389.0 476.7,408.0 477.1,411.0 480.7,419.0 479.8,424.0 478.0,427.0 473.7,430.0 460.0,436.8 453.0,438.7 442.0,439.7 438.0,441.2 434.0,443.5 429.0,446.9 425.8,450.0 424.4,453.0 423.0,459.3 422.0,461.0 420.0,461.7 418.0,461.6 413.0,459.0 411.0,458.8 408.0,459.8 402.9,464.0 398.0,470.3 392.1,475.0 389.5,478.0 387.7,482.0 387.3,489.0 385.0,492.0 382.0,492.6 374.0,491.8 369.0,492.6 363.0,495.2 354.6,501.0 351.3,504.0 350.6,506.0 355.1,512.0 354.0,512.4 348.0,510.8 342.0,515.6 338.1,518.0 338.0,520.0 340.3,527.0 340.0,534.8 339.0,537.0 337.0,539.0 335.0,540.0 332.0,540.4 327.0,539.4 324.4,537.0 323.7,534.0 324.1,528.0 323.3,525.0 316.3,508.0 314.3,505.0 312.0,503.0 307.0,502.0 303.0,502.5 301.0,505.0 299.0,511.5 298.0,512.8 296.0,513.5 294.0,512.8 290.0,507.6 287.0,505.8 283.0,505.8 269.0,509.6 264.0,509.9 261.0,508.9 252.0,503.2 246.0,501.5 244.0,502.3 242.3,508.0 240.0,510.6 236.0,512.4 232.0,512.5 230.0,511.2 228.8,508.0 229.3,499.0 228.7,492.0 223.2,482.0 223.2,480.0 224.1,477.0 229.3,471.0 230.5,468.0 228.0,444.0 228.8,432.0 230.1,428.0 232.2,426.0 235.6,424.0 248.4,418.0 260.0,409.3 262.0,409.1 270.0,414.1 272.0,414.5 275.0,412.9 277.0,409.0 276.6,407.0 275.8,406.0 267.9,400.0 266.0,394.9 264.0,393.1 259.0,393.6 250.0,397.2 246.0,398.2 240.5,398.0 237.6,396.0 237.3,393.0 242.0,383.9 243.5,375.0 250.0,363.3 254.0,358.4 257.0,355.8 260.0,354.6 262.0,354.9 264.2,358.0 266.5,368.0 271.4,375.0 274.2,381.0 278.4,383.0 287.0,385.5 289.0,385.5 291.0,384.0 291.5,382.0 291.5,377.0 294.6,372.0 296.2,367.0 295.9,361.0 294.5,353.0 295.7,340.0 291.0,327.0 289.8,319.0 288.0,315.9 285.0,313.5 280.0,312.4 274.0,312.2 270.0,313.6 260.0,319.0 253.0,319.0 242.0,315.8 234.0,315.0 225.4,310.0 216.0,306.0 212.0,305.0 207.0,304.7 200.0,306.4 194.6,309.0 183.0,320.2 179.0,321.6 170.0,323.3 163.0,327.6 161.0,327.6 155.0,325.6 145.0,324.8 136.0,325.3 127.6,327.0 123.4,329.0 122.3,331.0 118.4,376.0 118.0,376.9 117.0,377.2 113.0,375.1 112.1,376.0 111.0,390.3 110.0,393.8 109.0,394.8 108.0,394.8 106.0,393.5 103.0,389.9 90.0,367.1 87.0,363.6 78.0,368.0 25.0,400.4 20.0,402.6 20.0,0.0ZM59.0,25.0 61.5,42.0 69.2,84.0 78.0,136.2 80.0,136.4 85.3,134.0 98.0,126.5 103.7,124.0 130.0,109.0 132.7,107.0 132.8,106.0 131.3,104.0 92.1,65.0 63.0,28.3 60.0,25.3 59.0,25.0ZM377.6,82.0 376.6,83.0 375.1,87.0 374.0,87.8 365.0,88.9 359.4,91.0 357.0,93.7 355.9,97.0 357.7,114.0 359.0,115.5 364.0,116.8 366.0,118.2 368.9,122.0 370.7,126.0 371.0,131.0 370.0,133.2 368.0,135.1 366.0,136.0 355.0,137.9 351.0,136.4 347.0,132.7 344.6,128.0 344.3,125.0 344.7,123.0 346.7,121.0 352.7,118.0 354.3,116.0 353.8,114.0 350.4,109.0 349.0,107.8 347.0,107.4 342.0,108.5 337.0,110.9 327.0,119.9 317.3,121.0 308.0,125.1 305.4,127.0 301.9,131.0 296.0,134.6 295.2,136.0 295.2,139.0 296.5,149.0 294.1,167.0 294.2,173.0 295.7,178.0 300.0,187.8 303.7,194.0 307.0,196.7 316.0,202.3 324.0,205.8 330.0,207.5 334.0,207.8 341.0,206.2 346.0,206.4 350.0,205.0 355.0,202.2 361.0,197.9 369.0,188.8 379.4,181.0 383.1,179.0 391.0,177.0 395.0,174.0 398.0,170.2 408.1,154.0 415.9,139.0 416.9,136.0 417.1,131.0 416.0,124.1 413.6,117.0 412.8,112.0 412.4,108.0 413.2,103.0 412.2,100.0 410.0,97.7 405.0,94.9 401.3,92.0 400.0,90.1 398.6,86.0 396.4,84.0 388.9,82.0 381.0,81.3 378.0,81.7ZM122.9,133.0 109.0,137.2 89.9,145.0 83.8,149.0 82.2,151.0 82.1,152.0 84.0,154.4 89.1,157.0 92.5,161.0 96.0,170.0 96.8,179.0 98.0,181.1 100.3,183.0 106.0,184.8 120.0,184.5 129.0,186.6 140.0,184.7 143.1,183.0 146.5,177.0 151.6,172.0 154.0,165.7 155.6,163.0 155.4,162.0 152.8,159.0 150.0,157.2 139.0,152.8 135.0,150.4 133.1,148.0 130.4,143.0 128.5,134.0 127.0,132.7 123.0,133.0ZM167.9,165.0 169.2,179.0 170.4,182.0 172.7,184.0 176.0,184.7 179.0,184.3 180.9,183.0 181.5,179.0 179.7,173.0 181.0,169.0 180.6,167.0 179.0,165.9 174.0,165.7 169.0,164.5 168.0,164.8ZM409.7,192.0 408.5,193.0 407.8,195.0 407.9,197.0 408.7,198.0 411.0,198.2 416.0,197.5 416.9,197.0 417.2,196.0 415.1,193.0 413.0,191.8 410.0,191.8ZM317.8,242.0 315.5,244.0 309.7,251.0 309.3,252.0 310.5,254.0 315.0,256.4 319.0,257.1 327.0,256.3 332.0,254.2 335.2,251.0 335.5,249.0 335.0,248.0 323.0,241.4 320.0,241.2 318.0,241.9ZM485.0,303.0 477.0,305.4 474.7,307.0 473.8,309.0 474.7,312.0 477.0,315.7 487.2,326.0 490.3,331.0 490.5,333.0 490.0,335.0 489.0,336.0 484.0,337.9 482.0,339.2 479.3,342.0 477.9,345.0 478.0,346.2 479.0,347.2 486.0,347.5 494.0,342.8 499.0,342.7 505.0,344.3 508.0,343.0 509.0,341.8 509.3,340.0 506.5,336.0 506.1,334.0 506.6,331.0 508.0,329.6 514.0,328.0 517.0,325.7 518.3,323.0 519.5,318.0 519.9,313.0 519.4,310.0 518.0,308.6 516.0,308.4 510.0,310.0 505.7,310.0 502.0,309.0 491.0,303.3 488.0,302.8 485.0,303.0ZM328.3,378.0 323.0,380.3 315.8,381.0 313.7,382.0 313.3,383.0 315.4,393.0 317.3,398.0 318.0,403.3 319.0,404.8 321.0,405.5 329.0,405.4 341.0,407.3 343.1,406.0 347.0,399.2 349.3,389.0 351.0,387.1 353.0,386.4 353.8,385.0 354.3,382.0 354.0,379.0 353.0,378.1 352.0,378.1 346.0,381.7 343.0,382.5 339.0,381.5 331.0,378.1 329.0,377.9ZM465.0,489.9 468.0,489.3 473.0,491.0 481.0,498.0 481.9,500.0 481.7,501.0 479.8,503.0 476.7,505.0 469.0,508.5 457.0,514.9 455.0,516.5 451.0,524.0 445.3,532.0 444.5,544.0 442.7,547.0 436.0,548.9 428.0,550.3 425.0,551.6 423.3,554.0 421.0,560.8 420.0,562.1 419.0,562.5 416.0,562.0 413.0,559.6 411.9,556.0 412.5,552.0 415.0,547.7 416.0,546.9 420.0,545.8 433.0,531.0 435.3,527.0 435.2,522.0 436.0,521.2 439.0,521.3 441.0,520.7 447.0,513.5 454.0,510.9 459.0,506.8 462.5,501.0 463.7,492.0 464.8,490.0ZM429.0,560.8 430.5,561.0 430.0,562.1 428.0,562.4 427.3,562.0 428.4,561.0ZM281.0,579.9 289.0,580.2 293.1,582.0 293.5,583.0 292.9,585.0 291.0,587.0 289.0,588.0 284.0,588.2 282.0,587.5 280.0,586.0 278.8,584.0 278.5,582.0 279.0,581.0 280.8,580.0ZM319.0,583.0 324.0,582.7 327.0,584.2 328.3,587.0 328.9,591.0 328.6,593.0 327.4,594.0 318.0,592.3 315.6,591.0 315.1,589.0 315.6,586.0 316.9,584.0 318.9,583.0ZM233.0,584.0 237.0,584.4 243.0,587.2 249.0,587.8 250.3,589.0 251.6,592.0 253.0,592.5 255.0,592.0 261.0,588.8 266.0,588.6 267.6,589.0 268.6,590.0 269.2,597.0 271.7,603.0 272.5,607.0 272.5,612.0 271.5,619.0 272.7,627.0 270.5,634.0 268.7,637.0 267.6,640.0 266.5,644.0 265.9,650.0 191.4,650.0 206.0,620.8 207.8,616.0 210.4,614.0 210.9,613.0 209.1,609.0 209.7,607.0 213.0,603.3 217.0,597.1 221.1,594.0 225.8,588.0 229.0,585.7 232.9,584.0Z" fill="#ece9ec" fill-rule="evenodd"/>
<path d="M45.0,0.0 680.0,0.0 680.0,352.5 679.0,354.0 677.0,359.6 674.0,376.6 672.0,398.7 668.2,461.0 667.2,467.0 665.0,473.0 663.7,481.0 663.0,482.4 662.0,482.9 657.0,482.6 654.0,484.4 648.0,483.2 645.0,483.1 632.4,488.0 629.0,490.0 627.0,495.0 626.0,496.3 624.0,497.4 621.0,497.3 616.7,496.0 614.0,492.7 608.0,488.8 606.0,488.2 587.0,492.2 573.0,497.7 556.0,500.2 533.0,505.5 522.0,509.3 519.0,509.7 513.0,508.4 510.1,507.0 509.7,505.0 510.5,501.0 507.0,491.0 499.9,480.0 490.9,470.0 489.9,466.0 490.4,463.0 495.4,450.0 497.0,442.0 497.0,436.0 498.0,431.9 500.0,430.3 506.0,429.9 509.0,427.9 510.7,424.0 511.2,418.0 514.6,414.0 519.9,410.0 520.5,409.0 521.4,401.0 523.1,397.0 526.0,394.8 531.2,393.0 538.0,389.6 540.0,388.0 541.0,386.0 541.0,383.0 540.0,381.0 529.1,372.0 528.0,370.0 526.9,365.0 526.0,364.2 525.0,364.1 521.0,365.8 515.0,369.9 509.0,371.5 506.0,371.1 499.0,368.3 496.0,367.6 489.0,367.3 485.0,367.8 479.0,366.0 475.0,367.9 471.5,372.0 471.0,374.0 478.4,384.0 479.5,387.0 479.5,390.0 477.8,396.0 474.1,402.0 469.8,411.0 469.2,414.0 469.8,419.0 469.0,421.2 465.0,424.4 457.0,428.0 454.0,428.7 449.0,428.1 443.0,430.0 438.0,433.6 432.0,439.5 423.0,446.3 419.0,450.4 415.0,450.9 406.0,453.3 404.0,454.8 401.3,459.0 398.0,461.6 395.0,462.8 391.0,463.1 389.4,464.0 381.7,477.0 381.5,480.0 382.9,485.0 382.0,487.3 380.0,487.8 372.0,486.9 369.0,487.4 354.0,495.4 351.0,496.3 345.0,497.0 335.0,503.5 330.0,503.9 325.0,505.8 323.0,505.3 312.0,497.3 309.0,496.5 297.0,503.4 295.0,503.0 291.0,500.2 287.0,499.6 282.0,500.1 273.0,502.5 267.0,502.4 262.0,500.4 253.0,494.2 246.0,490.4 242.0,489.6 236.0,490.6 234.0,490.1 231.0,488.0 227.0,483.0 226.3,480.0 228.0,476.5 233.9,471.0 235.5,467.0 235.4,462.0 233.1,452.0 231.8,443.0 232.4,435.0 234.4,430.0 237.0,427.2 241.0,424.6 259.0,417.1 262.0,417.0 267.0,419.3 270.0,419.9 273.0,419.3 276.0,417.7 279.0,413.4 280.7,407.0 279.4,404.0 274.8,399.0 273.5,391.0 273.9,388.0 277.0,387.7 287.0,390.4 290.0,390.5 294.0,388.9 296.7,385.0 298.1,373.0 299.4,370.0 302.8,365.0 303.8,362.0 303.0,356.0 300.7,351.0 300.3,348.0 301.0,342.9 304.5,337.0 305.4,334.0 305.2,328.0 301.8,317.0 302.3,314.0 306.1,306.0 307.0,303.0 306.9,301.0 305.0,299.5 300.8,300.0 292.0,304.8 269.0,305.6 260.0,307.5 255.0,307.8 235.0,305.9 229.0,304.3 218.0,300.0 205.0,298.7 196.4,301.0 186.0,304.9 169.0,315.1 163.0,315.0 158.0,317.7 155.0,318.0 152.0,317.4 148.0,315.4 129.0,301.2 124.0,298.0 122.0,297.3 120.9,298.0 120.1,305.0 118.9,307.0 116.0,307.4 99.0,307.2 95.7,308.0 93.4,310.0 92.2,313.0 91.8,317.0 93.5,340.0 93.4,344.0 92.8,346.0 92.0,346.3 91.0,345.7 88.0,342.7 75.0,325.6 74.0,324.5 73.6,325.0 74.0,330.4 75.0,334.6 83.2,360.0 83.4,362.0 83.0,363.0 80.0,365.3 34.0,393.3 23.0,399.8 20.0,401.0 20.0,181.6 29.0,179.3 31.0,179.3 40.0,183.3 43.0,183.8 56.0,181.9 64.0,182.5 71.0,181.8 79.0,182.0 88.0,180.6 89.0,181.3 90.9,185.0 93.0,187.2 97.0,190.1 101.0,191.7 106.0,192.1 120.0,191.9 128.0,193.0 144.0,191.6 151.0,193.0 159.0,196.0 164.0,196.5 169.0,195.5 179.0,189.6 182.0,189.4 186.0,190.5 189.0,189.5 190.9,187.0 193.3,178.0 192.7,176.0 187.5,170.0 185.1,164.0 184.0,162.6 177.0,159.9 175.0,158.0 173.0,155.0 164.0,153.4 161.0,149.8 156.0,148.9 151.4,147.0 146.0,144.0 142.0,140.7 140.5,139.0 140.3,134.0 138.6,131.0 138.4,124.0 136.0,122.3 133.0,122.5 126.0,124.6 84.0,141.0 75.0,144.0 72.7,144.0 74.2,142.0 79.0,139.9 98.7,128.0 132.0,109.1 134.0,107.1 134.0,106.0 132.0,103.4 92.6,64.0 64.0,27.8 60.0,23.0 55.7,19.0 44.2,0.0ZM462.8,69.0 461.8,71.0 459.8,79.0 459.2,94.0 459.9,98.0 462.0,101.2 466.0,103.8 472.0,105.0 475.1,104.0 475.9,102.0 475.7,100.0 471.5,94.0 470.7,92.0 470.7,90.0 473.0,84.7 479.4,79.0 480.0,77.0 479.7,75.0 475.3,71.0 471.7,69.0 465.0,68.2 463.0,68.8ZM376.9,77.0 374.0,78.9 370.4,84.0 360.0,87.8 357.0,89.8 353.9,94.0 350.9,100.0 348.6,102.0 334.0,108.0 328.8,111.0 325.0,114.2 323.0,114.8 313.0,115.5 304.0,117.7 294.0,122.8 289.0,123.1 287.0,123.8 284.0,126.0 283.1,128.0 283.0,132.0 284.0,136.1 286.0,141.4 290.0,148.0 290.6,150.0 289.3,158.0 286.8,166.0 286.5,172.0 289.8,193.0 291.0,197.0 292.6,200.0 295.9,204.0 299.0,206.2 327.0,219.1 335.0,221.8 338.0,222.1 341.0,221.6 362.0,209.2 368.0,203.3 378.6,190.0 384.0,185.4 387.0,184.1 389.0,184.6 391.0,189.2 392.0,190.2 394.0,190.0 396.0,188.4 397.2,186.0 397.0,181.0 399.8,177.0 404.2,172.0 407.7,162.0 416.9,147.0 420.4,140.0 420.6,133.0 417.8,114.0 417.8,106.0 417.0,102.0 415.5,99.0 405.3,88.0 402.0,82.6 400.0,80.8 397.0,79.8 377.0,77.0ZM224.0,181.0 220.0,181.9 218.6,183.0 218.1,187.0 218.7,189.0 221.0,191.2 229.0,196.3 232.0,197.6 235.0,197.9 241.0,195.8 243.2,194.0 244.8,189.0 244.7,186.0 244.0,184.3 243.0,183.3 241.0,182.7 229.0,181.1 224.0,181.0ZM410.5,188.0 405.0,189.8 403.3,192.0 403.0,201.3 404.0,202.7 407.0,202.9 418.0,200.9 419.7,199.0 420.8,196.0 421.1,192.0 419.0,189.2 415.8,188.0 411.0,187.9ZM321.9,232.0 311.0,236.0 305.6,240.0 300.0,240.7 297.0,242.4 294.4,245.0 291.5,251.0 286.3,258.0 286.2,260.0 289.0,263.0 293.0,264.8 296.0,265.2 300.0,263.9 304.0,259.8 316.0,260.7 330.0,259.1 338.8,255.0 342.1,252.0 344.0,249.0 344.5,247.0 344.0,241.0 342.7,238.0 341.0,235.7 335.0,232.3 329.0,231.1 322.0,232.0ZM487.6,298.0 477.0,300.0 465.3,304.0 462.4,306.0 460.1,310.0 460.0,311.3 461.0,312.4 468.0,313.5 470.4,315.0 474.6,321.0 479.3,326.0 480.8,329.0 481.0,331.0 480.0,331.5 478.0,331.2 471.7,327.0 469.0,325.8 461.0,325.1 458.0,325.8 457.0,326.7 455.4,332.0 455.4,334.0 455.9,335.0 457.4,336.0 461.0,336.5 469.0,336.3 474.0,338.1 474.7,340.0 473.5,343.0 471.0,347.1 466.1,352.0 465.5,354.0 469.0,355.3 478.0,356.3 483.0,354.5 488.0,354.0 498.0,348.2 501.0,348.6 505.0,350.8 508.0,350.5 513.0,347.1 517.0,342.8 521.0,341.4 523.0,340.1 524.8,338.0 525.5,336.0 525.5,333.0 523.0,328.0 522.6,326.0 523.5,324.0 527.9,319.0 528.3,317.0 525.7,308.0 524.0,304.9 521.0,302.9 518.0,302.1 515.0,302.2 510.0,303.7 508.0,303.6 499.0,301.5 492.0,298.3 488.0,298.0ZM327.9,373.0 326.0,374.1 322.0,378.0 309.9,381.0 306.8,382.0 306.3,383.0 309.0,386.0 309.8,388.0 312.9,399.0 315.0,408.6 316.0,410.4 318.0,411.7 326.0,410.7 338.0,413.2 341.0,413.1 343.0,412.5 345.5,410.0 348.9,402.0 350.0,393.0 351.0,390.9 352.0,390.8 353.0,391.7 355.0,397.4 356.0,398.1 358.7,394.0 359.1,391.0 357.4,387.0 357.2,385.0 359.0,375.0 358.0,373.9 355.0,373.6 347.0,377.0 342.0,377.8 338.0,376.5 331.0,372.9 328.0,373.0ZM468.0,495.4 471.0,495.5 473.3,497.0 475.1,499.0 475.0,501.0 472.1,503.0 466.0,504.8 465.6,503.0 467.4,496.0ZM438.0,528.9 439.1,529.0 439.7,531.0 439.7,543.0 439.0,546.0 437.6,547.0 427.0,549.2 423.0,550.6 421.5,552.0 420.0,554.9 419.0,555.7 417.2,555.0 416.5,553.0 417.4,550.0 421.0,547.0 424.4,542.0 434.0,532.0 437.8,529.0ZM232.0,588.9 235.0,589.0 238.0,590.6 241.8,594.0 247.0,600.3 249.0,601.6 251.0,601.8 260.0,599.7 262.0,599.7 265.0,601.2 267.8,605.0 268.4,609.0 267.9,613.0 264.0,622.8 260.6,628.0 259.9,630.0 259.4,650.0 192.2,650.0 205.4,625.0 209.0,617.0 211.0,616.1 214.5,616.0 214.3,614.0 211.8,610.0 211.9,608.0 218.1,599.0 223.0,595.9 228.1,591.0 231.9,589.0Z" fill="#e8eef5" fill-rule="evenodd"/>
<path d="M46.0,0.0 513.9,0.0 505.0,23.0 501.7,35.0 501.3,39.0 503.4,41.0 540.6,61.0 545.0,62.3 547.6,62.0 551.0,60.6 562.0,52.0 568.0,45.0 581.0,31.9 597.0,7.7 601.5,0.0 680.0,0.0 680.0,314.2 678.0,318.7 676.0,327.6 672.5,355.0 670.2,382.0 665.4,456.0 664.3,461.0 660.8,470.0 659.4,478.0 658.0,479.0 655.0,479.1 652.0,481.2 645.0,481.0 640.0,483.4 633.0,485.4 623.0,486.8 620.0,486.5 616.0,485.3 614.0,483.9 608.0,473.9 604.0,469.4 599.0,467.2 594.0,464.2 590.0,464.1 586.0,465.3 583.8,467.0 582.7,470.0 581.0,485.0 576.8,490.0 573.1,493.0 568.2,495.0 557.0,497.2 544.9,501.0 530.0,503.6 520.0,506.4 516.0,505.7 514.0,504.5 513.2,500.0 509.8,492.0 501.8,480.0 492.2,469.0 491.2,466.0 491.8,463.0 497.3,451.0 499.4,443.0 499.8,437.0 501.0,434.2 502.8,433.0 508.0,431.7 510.0,429.8 512.3,425.0 512.4,420.0 513.0,418.0 516.0,414.6 521.6,410.0 523.9,402.0 525.0,400.0 528.0,397.8 539.0,393.0 542.0,389.6 543.6,386.0 543.7,383.0 542.8,380.0 536.2,372.0 535.0,361.7 534.0,358.5 532.0,356.3 525.0,352.2 523.6,350.0 523.5,346.0 527.0,339.0 527.7,336.0 527.6,333.0 526.1,327.0 532.0,319.0 532.5,315.0 530.9,309.0 528.4,304.0 524.0,299.7 519.0,297.5 514.0,297.1 503.0,297.7 499.0,296.8 493.0,294.3 488.0,294.4 480.0,295.8 458.7,301.0 453.5,303.0 450.8,305.0 449.4,307.0 448.5,310.0 448.9,315.0 450.0,320.0 444.2,335.0 444.0,339.4 446.0,341.9 448.0,342.7 461.0,341.9 464.0,342.6 465.4,344.0 464.9,346.0 463.1,348.0 454.0,354.2 451.2,357.0 450.4,359.0 450.7,367.0 451.6,369.0 452.8,370.0 457.0,371.7 461.2,375.0 471.0,379.7 474.2,383.0 476.1,387.0 476.1,390.0 475.0,393.7 470.9,399.0 466.0,407.3 461.0,413.0 459.0,413.9 457.0,413.7 452.0,410.7 447.0,404.8 444.0,402.1 441.0,400.8 439.0,401.4 437.0,404.0 435.9,407.0 434.9,419.0 431.9,426.0 429.5,435.0 427.0,438.0 422.0,440.8 415.0,443.0 404.0,442.7 398.0,443.8 383.0,451.8 381.0,452.4 371.0,453.6 368.2,453.0 362.0,450.1 359.0,450.3 357.0,451.0 355.0,452.7 353.8,455.0 352.4,461.0 352.3,464.0 353.5,466.0 360.3,472.0 362.0,476.0 361.6,478.0 349.0,483.6 344.0,484.0 336.0,489.0 324.0,492.4 322.0,492.6 320.0,492.0 313.0,487.1 311.0,486.3 308.0,486.2 303.9,488.0 302.7,490.0 301.4,495.0 300.0,496.5 298.0,496.4 296.0,494.3 294.0,493.6 276.0,497.3 270.0,497.4 266.0,496.3 263.0,494.7 252.0,485.7 248.0,483.0 244.0,482.1 236.0,482.6 234.0,481.9 232.6,480.0 234.0,477.6 240.4,474.0 243.7,465.0 244.3,462.0 243.8,459.0 239.0,452.6 235.4,444.0 235.4,438.0 237.3,432.0 239.8,429.0 242.6,427.0 246.0,425.4 251.0,423.9 260.0,422.2 268.0,424.6 271.0,424.9 275.0,423.9 278.0,422.2 281.0,417.5 283.8,408.0 283.9,405.0 281.8,397.0 282.0,395.0 283.0,394.3 288.0,394.5 294.0,393.1 296.2,392.0 300.0,388.4 302.0,388.3 304.7,390.0 306.0,391.5 309.7,401.0 311.3,410.0 311.1,413.0 309.8,416.0 310.4,417.0 314.0,418.8 316.0,419.2 323.0,416.6 329.0,416.5 340.0,419.2 344.0,419.6 347.0,418.4 349.6,414.0 351.3,401.0 350.9,395.0 352.0,393.5 353.1,395.0 353.4,400.0 354.0,401.3 356.0,401.6 359.0,399.1 361.0,398.9 365.8,402.0 367.6,404.0 368.2,406.0 367.8,408.0 364.2,414.0 363.5,417.0 367.4,428.0 369.0,429.0 371.0,429.0 375.0,427.0 376.4,425.0 376.2,421.0 372.6,408.0 373.4,405.0 376.0,400.0 375.8,398.0 374.9,397.0 368.0,394.4 364.0,392.1 361.9,390.0 360.6,387.0 360.5,384.0 361.4,381.0 364.0,377.3 368.9,373.0 370.1,371.0 369.5,369.0 368.0,367.7 365.0,366.9 360.0,369.7 348.0,373.1 341.1,371.0 331.0,366.3 329.0,366.2 327.0,367.1 325.0,368.9 321.0,375.4 319.0,377.0 312.0,379.3 309.0,379.8 303.0,379.6 301.2,378.0 300.7,375.0 301.1,373.0 303.3,369.0 306.8,365.0 307.9,362.0 307.9,359.0 306.6,350.0 306.8,347.0 308.7,344.0 316.0,339.0 317.0,337.0 316.1,324.0 312.6,314.0 312.4,312.0 313.5,308.0 319.8,296.0 319.7,295.0 318.6,294.0 312.0,292.4 306.0,289.6 302.0,289.4 296.0,291.3 293.0,292.8 287.0,297.0 283.0,298.3 275.0,299.6 256.0,301.1 243.0,301.2 232.0,299.3 223.0,295.5 217.0,293.9 211.0,293.3 204.0,293.7 180.0,300.4 172.0,304.3 169.1,307.0 167.0,310.2 162.0,311.1 156.0,313.3 154.0,313.4 147.0,310.4 143.0,307.9 97.0,271.1 88.8,265.0 84.0,262.2 82.7,262.0 81.9,263.0 81.0,271.0 80.0,272.9 74.0,272.6 72.0,273.9 71.3,277.0 71.1,285.0 70.0,285.9 67.0,283.4 63.0,278.7 51.0,260.5 49.0,258.7 48.9,261.0 49.8,265.0 54.9,282.0 57.1,288.0 59.5,292.0 68.6,319.0 71.5,328.0 72.5,334.0 81.0,358.4 81.6,362.0 79.5,364.0 23.5,398.0 20.0,399.6 20.0,193.6 27.1,195.0 30.2,197.0 36.0,195.9 41.0,197.5 47.0,197.1 55.0,198.0 61.0,200.0 63.6,199.0 67.0,194.9 69.0,193.4 75.0,192.0 77.0,192.5 78.0,196.0 79.9,198.0 85.0,200.2 86.3,200.0 89.0,197.9 90.0,197.9 99.0,199.7 108.0,200.0 124.0,199.0 133.0,199.8 149.0,200.1 161.0,201.9 167.0,202.2 176.0,201.6 179.0,200.5 182.0,198.6 191.9,202.0 198.0,202.2 201.0,200.6 206.0,195.2 210.0,194.5 215.0,196.5 232.0,207.9 235.0,208.4 241.0,207.8 243.0,208.2 244.7,211.0 248.6,224.0 250.0,227.0 252.9,229.0 257.0,229.9 259.0,229.8 261.0,229.1 265.0,225.9 273.2,214.0 274.5,210.0 273.8,207.0 270.0,204.0 267.0,203.0 255.0,200.7 251.4,199.0 250.9,197.0 252.9,189.0 253.3,184.0 252.2,180.0 250.2,178.0 247.0,177.4 239.0,177.4 219.0,174.8 213.5,175.0 208.0,176.5 206.0,176.5 199.0,174.8 193.0,171.8 189.6,168.0 187.0,160.7 181.9,158.0 179.0,155.0 177.9,153.0 177.1,149.0 176.3,148.0 170.0,147.0 168.0,143.0 167.0,142.2 162.0,141.9 159.1,141.0 150.0,134.7 149.4,133.0 149.8,129.0 147.2,126.0 146.5,124.0 147.7,116.0 146.0,114.0 143.0,112.9 140.0,113.1 117.0,121.9 115.0,122.3 114.2,122.0 117.7,119.0 133.0,109.9 134.9,108.0 135.0,106.0 132.6,103.0 93.6,64.0 64.3,27.0 57.2,19.0 45.5,0.0ZM495.9,47.0 493.4,48.0 492.9,49.0 495.5,53.0 495.3,54.0 494.0,54.7 490.0,55.1 482.0,53.1 479.0,53.3 476.0,54.7 469.0,60.0 462.0,61.6 459.9,63.0 457.9,67.0 455.6,77.0 455.1,84.0 455.2,97.0 457.0,103.0 461.0,106.9 465.2,109.0 479.0,113.7 487.0,118.5 490.0,119.0 503.0,117.1 507.0,115.2 508.1,113.0 507.1,107.0 504.4,103.0 505.6,100.0 511.0,94.6 518.1,92.0 526.0,88.1 528.0,86.4 528.4,83.0 526.1,72.0 526.5,67.0 528.1,65.0 528.2,64.0 523.0,60.0 509.0,52.0 500.7,48.0 496.0,47.0ZM374.7,74.0 366.9,82.0 356.0,87.7 349.0,96.5 346.0,99.1 323.0,109.2 305.0,113.3 297.0,116.7 291.0,118.1 285.7,120.0 278.9,123.0 277.6,124.0 276.5,126.0 277.1,130.0 283.7,145.0 284.8,153.0 284.5,156.0 283.4,159.0 276.0,169.0 274.3,173.0 274.7,176.0 277.3,181.0 278.5,185.0 280.1,195.0 280.0,202.0 281.1,204.0 295.6,217.0 297.0,219.0 297.5,221.0 296.8,224.0 294.3,228.0 283.7,238.0 282.7,240.0 281.6,245.0 280.4,247.0 279.0,247.8 275.0,248.2 272.4,250.0 270.7,255.0 271.5,260.0 274.1,264.0 279.0,267.8 291.0,272.9 295.0,273.8 298.0,272.9 306.0,266.7 309.3,265.0 322.0,262.2 331.0,262.5 339.0,260.8 342.0,259.4 348.5,253.0 351.3,249.0 352.5,244.0 352.4,236.0 353.0,233.9 360.2,225.0 367.0,218.2 378.9,200.0 383.0,195.5 385.0,194.3 389.0,196.1 396.0,195.9 397.0,196.3 398.2,199.0 397.9,206.0 400.0,207.4 403.0,207.5 417.0,204.7 419.0,203.6 421.0,200.0 424.0,190.0 423.9,187.0 422.0,185.2 418.0,184.7 407.0,185.1 405.0,184.3 404.3,183.0 405.8,180.0 410.5,176.0 412.0,174.0 412.5,165.0 413.7,160.0 416.2,155.0 422.4,145.0 423.8,141.0 422.5,117.0 418.6,100.0 416.8,97.0 409.3,88.0 404.7,80.0 402.0,77.4 398.0,75.9 392.0,76.5 388.0,76.3 378.0,73.1 375.0,73.8ZM360.4,297.0 356.1,301.0 354.9,304.0 355.8,305.0 357.0,304.9 362.0,302.8 363.6,301.0 363.9,298.0 363.0,296.0 361.0,296.6ZM402.0,399.0 393.0,401.6 389.3,404.0 389.1,405.0 390.3,410.0 389.2,418.0 390.0,419.2 391.0,419.6 393.0,419.5 402.0,414.6 411.0,412.6 416.0,412.4 418.3,411.0 418.3,409.0 416.7,405.0 415.6,403.0 413.5,401.0 407.0,398.5 402.0,399.0ZM515.0,352.6 517.0,352.1 517.4,355.0 515.6,363.0 514.6,365.0 513.0,366.6 510.0,367.6 506.4,367.0 501.3,364.0 500.0,362.0 501.0,360.4 508.0,357.9 514.3,353.0ZM433.0,535.8 434.3,536.0 434.7,538.0 434.7,544.0 433.6,546.0 431.0,547.0 425.0,548.0 424.0,548.0 423.1,547.0 423.6,545.0 425.0,542.8 432.6,536.0ZM232.0,593.8 235.0,593.9 239.0,596.3 241.2,600.0 242.0,604.0 239.7,614.0 240.9,624.0 239.0,628.1 235.0,640.3 232.7,650.0 193.3,650.0 200.0,637.7 211.0,621.1 212.0,620.4 219.0,618.9 219.5,618.0 219.2,616.0 216.0,610.0 217.0,608.6 220.0,606.3 221.6,602.0 223.1,600.0 228.0,596.0 231.3,594.0Z" fill="#def1fd" fill-rule="evenodd"/>
<path d="M47.0,0.0 484.0,0.0 481.7,7.0 475.0,21.4 474.5,23.0 475.0,24.5 486.0,30.2 492.1,35.0 498.0,38.1 502.3,42.0 540.0,62.2 550.0,66.0 552.1,65.0 556.6,59.0 582.4,32.0 598.2,8.0 602.9,0.0 680.0,0.0 680.0,278.8 678.0,285.8 675.9,297.0 670.5,335.0 662.5,449.0 661.6,454.0 657.2,467.0 656.0,473.4 655.0,474.8 653.0,475.6 650.0,478.0 645.0,478.5 641.0,481.0 638.0,482.1 631.0,483.1 622.6,481.0 618.0,478.0 608.0,462.2 605.0,458.6 602.0,456.3 599.0,455.0 596.0,454.6 586.0,454.9 581.0,454.4 577.0,453.2 574.0,451.3 566.7,443.0 564.7,439.0 561.0,428.8 560.0,427.1 559.0,427.3 553.7,437.0 554.4,444.0 552.6,449.0 552.5,455.0 550.4,465.0 550.3,470.0 551.7,475.0 553.0,476.5 556.0,474.0 558.0,473.2 566.0,474.1 569.0,475.1 570.0,476.3 570.7,479.0 570.6,483.0 569.7,486.0 567.8,489.0 565.3,491.0 562.0,492.3 555.0,493.8 543.7,499.0 537.0,500.2 530.0,500.1 524.0,502.1 521.0,502.5 519.0,502.1 517.6,501.0 513.7,494.0 505.7,482.0 493.6,468.0 492.8,465.0 493.3,463.0 499.4,452.0 501.8,444.0 502.3,439.0 503.0,437.2 505.0,435.4 509.0,433.9 511.0,431.7 513.7,426.0 514.0,420.0 514.9,418.0 523.1,410.0 527.0,402.2 530.0,400.3 537.0,397.9 540.0,396.2 544.2,391.0 545.9,387.0 546.4,384.0 546.1,381.0 541.2,371.0 540.2,360.0 539.2,356.0 537.0,353.0 534.0,351.7 531.0,349.6 529.6,348.0 528.9,346.0 530.3,338.0 529.0,328.0 530.0,326.0 534.7,320.0 535.9,316.0 535.4,312.0 533.2,305.0 531.6,302.0 528.0,298.1 524.0,294.5 519.0,292.6 512.0,292.1 503.0,293.2 500.0,292.7 495.0,290.8 492.0,290.7 482.0,292.3 451.0,298.7 444.4,301.0 440.7,304.0 439.9,308.0 441.8,323.0 437.8,338.0 437.1,343.0 437.7,347.0 441.2,358.0 441.7,370.0 442.6,374.0 444.5,377.0 447.0,378.4 458.0,378.3 467.0,380.8 471.0,383.9 472.5,387.0 471.8,390.0 466.7,396.0 462.5,403.0 460.0,404.8 458.0,405.0 456.0,404.3 454.0,402.7 449.0,396.3 446.0,393.3 441.0,390.6 439.0,390.5 436.0,391.4 431.2,394.0 427.0,397.2 425.0,397.6 417.1,395.0 403.0,392.5 397.0,393.3 387.0,396.4 381.0,396.8 371.1,392.0 366.9,387.0 365.8,385.0 365.5,383.0 366.9,380.0 372.4,376.0 375.2,373.0 376.1,370.0 374.8,367.0 369.1,362.0 366.0,360.9 364.0,361.9 360.6,366.0 358.0,367.7 352.0,369.5 348.7,369.0 345.5,366.0 343.4,363.0 335.6,344.0 330.9,339.0 329.7,337.0 323.9,314.0 323.7,309.0 324.5,306.0 325.8,304.0 335.0,297.1 336.6,295.0 337.9,290.0 337.1,287.0 336.0,286.3 333.0,286.0 325.0,288.1 317.0,288.6 314.0,288.2 311.8,287.0 307.1,283.0 305.4,281.0 304.6,279.0 305.0,276.0 307.1,272.0 310.0,269.0 314.0,266.9 323.0,264.6 338.0,267.1 341.0,266.7 343.0,265.7 356.8,254.0 359.4,250.0 362.5,243.0 364.0,241.3 370.0,238.2 375.0,237.6 377.0,236.2 383.1,229.0 383.3,228.0 382.6,226.0 377.0,222.0 376.3,220.0 377.0,217.0 378.8,213.0 383.0,208.0 385.0,207.4 386.0,207.8 390.0,211.8 393.0,212.8 417.0,208.1 419.0,207.0 420.9,204.0 425.8,189.0 426.6,185.0 426.2,183.0 425.0,182.1 418.8,181.0 418.1,180.0 420.1,177.0 420.7,175.0 419.5,161.0 421.1,155.0 425.6,147.0 426.7,144.0 427.5,127.0 428.8,118.0 427.9,115.0 423.0,107.3 419.8,98.0 413.0,89.0 410.5,82.0 406.4,76.0 403.0,73.5 398.0,71.5 396.0,71.2 391.0,72.5 388.0,72.4 384.0,71.7 379.0,69.5 376.0,69.6 372.4,72.0 361.9,81.0 354.5,86.0 346.0,94.8 329.0,103.2 303.0,110.6 287.0,115.9 272.0,116.8 268.5,118.0 266.7,121.0 267.4,126.0 269.2,129.0 276.0,136.3 279.0,140.6 281.1,145.0 281.3,148.0 279.8,156.0 278.3,159.0 264.0,172.5 262.0,172.8 260.0,172.4 253.0,168.8 251.0,168.5 239.0,171.6 224.0,171.7 214.0,170.0 211.0,170.3 205.0,172.0 199.0,171.4 196.0,170.5 192.9,168.0 191.1,165.0 189.0,158.2 184.7,155.0 182.0,151.3 181.3,149.0 181.0,143.0 180.0,141.3 175.7,140.0 174.0,136.2 173.0,135.1 166.0,134.0 162.0,131.4 160.0,129.4 159.3,124.0 156.7,121.0 154.9,116.0 156.5,108.0 156.1,106.0 154.0,104.9 151.0,104.5 146.0,105.5 139.0,107.8 137.0,107.6 133.6,103.0 94.0,63.4 65.3,27.0 58.0,18.5 46.6,0.0ZM477.9,35.0 480.5,38.0 481.2,40.0 476.9,42.0 473.8,48.0 467.1,56.0 465.0,57.1 460.0,58.6 457.9,60.0 451.4,72.0 450.4,78.0 450.8,90.0 450.2,101.0 450.6,105.0 451.7,108.0 454.4,111.0 457.0,112.7 474.0,116.9 478.0,118.8 486.0,124.0 489.0,125.0 498.0,122.3 506.0,121.4 510.0,121.7 522.0,124.3 525.0,124.4 528.0,122.9 530.7,119.0 532.9,114.0 532.6,105.0 535.1,93.0 535.5,89.0 536.0,87.6 538.1,86.0 537.0,76.9 539.0,74.2 541.0,73.6 551.0,75.5 552.0,75.0 541.1,68.0 512.0,51.6 486.3,38.0 479.9,35.0 478.0,34.8ZM253.8,112.0 248.5,115.0 246.6,118.0 245.6,122.0 246.0,123.8 250.0,122.6 253.0,120.6 258.2,114.0 258.0,111.9 256.0,111.6 254.0,111.9ZM235.8,131.0 234.8,132.0 232.3,137.0 232.0,139.0 233.6,141.0 236.0,142.7 238.0,143.6 240.0,143.4 241.5,141.0 240.9,134.0 239.0,131.1 236.0,130.9ZM253.0,134.0 245.9,140.0 244.2,142.0 243.5,144.0 244.5,146.0 247.0,147.5 250.0,147.9 252.0,147.4 256.0,143.9 257.9,141.0 258.4,139.0 258.2,137.0 257.0,134.8 256.0,134.0 254.0,133.6ZM609.0,236.0 606.8,237.0 605.9,238.0 605.6,240.0 606.4,249.0 607.0,250.6 609.0,251.2 612.0,249.6 614.0,247.2 615.0,245.0 615.3,242.0 615.0,239.0 614.0,237.4 612.0,236.2 609.0,236.0ZM360.8,284.0 359.0,285.3 358.5,287.0 360.4,291.0 360.1,293.0 351.8,303.0 350.6,306.0 350.2,310.0 351.0,311.6 352.0,311.7 364.0,307.3 367.0,305.7 369.0,302.0 369.3,298.0 368.7,289.0 368.0,286.8 366.0,284.4 364.0,283.7 361.0,283.9ZM575.9,308.0 569.0,309.3 564.0,311.9 562.4,314.0 561.4,317.0 561.3,319.0 562.0,320.8 565.0,323.0 570.0,324.5 587.0,324.4 592.0,323.3 595.0,321.0 598.0,316.0 598.3,314.0 597.8,313.0 596.0,311.7 587.0,308.0 582.0,307.5 576.0,308.0ZM555.3,345.0 550.0,346.0 547.5,347.0 546.0,349.0 546.2,352.0 547.8,355.0 550.0,356.8 557.0,360.2 561.0,361.1 563.0,360.1 564.0,358.0 565.0,350.0 564.8,347.0 564.0,345.9 562.0,345.0 556.0,344.9ZM262.0,182.6 264.0,182.4 267.0,183.3 269.0,184.9 270.9,188.0 271.9,191.0 271.8,194.0 271.0,196.0 269.0,197.7 266.0,198.4 262.0,198.1 259.0,197.1 258.0,196.0 257.7,194.0 258.6,189.0 260.0,184.5 261.1,183.0ZM72.0,198.5 75.0,198.9 81.1,203.0 81.6,205.0 79.0,207.8 72.0,209.8 70.0,209.8 68.7,209.0 68.1,207.0 68.5,204.0 69.7,201.0 71.2,199.0ZM209.0,201.9 214.0,202.8 219.0,205.8 224.1,210.0 228.4,216.0 230.0,220.0 234.0,234.3 237.0,238.5 242.0,242.7 244.0,246.6 244.8,252.0 243.4,258.0 243.2,262.0 243.6,265.0 245.0,267.5 247.0,268.6 249.0,268.7 259.0,266.7 262.0,266.8 273.0,273.0 281.6,277.0 284.9,280.0 285.8,282.0 285.9,285.0 285.0,288.0 283.4,290.0 279.1,292.0 270.0,294.0 252.0,296.1 239.0,294.9 235.0,293.4 229.0,289.7 223.0,284.6 221.0,283.7 218.0,283.5 214.0,284.4 204.0,288.2 196.0,290.4 172.0,294.7 167.0,297.3 160.0,298.9 152.0,306.1 150.0,306.8 148.0,306.7 145.0,305.5 143.0,304.0 96.0,264.0 83.1,252.0 82.8,251.0 84.3,248.0 85.4,244.0 89.5,242.0 89.8,241.0 87.9,238.0 81.2,232.0 80.7,230.0 82.8,223.0 87.0,217.6 90.0,212.0 92.0,210.5 106.0,206.2 124.0,204.5 134.0,205.5 154.0,205.5 174.0,207.3 190.0,206.7 198.0,207.5 200.0,207.0 206.0,202.9 208.4,202.0ZM56.0,292.5 57.0,292.4 58.0,293.5 61.2,302.0 70.0,328.0 69.7,331.0 68.0,332.3 61.0,334.8 58.0,336.8 27.0,362.4 22.0,366.3 20.0,367.0 20.0,358.6 26.3,348.0 50.9,301.0 55.6,293.0ZM307.0,370.5 309.0,370.4 316.5,373.0 317.4,374.0 316.5,376.0 313.0,378.0 311.0,378.5 308.0,378.6 305.1,378.0 304.1,377.0 304.0,375.0 306.3,371.0ZM297.0,395.8 301.0,395.2 303.0,396.9 306.9,403.0 307.6,406.0 307.7,409.0 306.9,411.0 304.0,413.6 293.0,419.6 291.0,419.9 289.0,419.4 286.8,417.0 286.3,413.0 287.2,402.0 287.7,400.0 289.7,398.0 296.1,396.0ZM356.0,404.6 359.0,404.1 362.0,405.8 362.4,408.0 361.0,409.6 359.0,409.9 356.0,408.2 354.8,406.0 355.2,405.0ZM422.0,416.8 425.0,416.6 426.0,417.6 426.4,419.0 424.3,433.0 422.0,435.1 419.0,435.4 408.0,434.2 398.0,433.7 396.5,433.0 396.1,432.0 396.8,429.0 398.6,426.0 403.0,421.5 405.0,420.8 415.0,419.2 421.2,417.0ZM291.0,422.9 293.0,422.7 299.0,424.4 306.0,424.0 315.0,425.8 318.0,425.4 323.0,423.5 338.0,424.9 342.0,427.3 344.3,431.0 345.2,434.0 345.3,437.0 344.6,439.0 343.5,440.0 341.0,440.6 337.0,440.7 326.0,438.7 323.0,439.3 318.0,441.4 316.0,441.5 309.3,437.0 300.0,436.2 298.0,436.4 294.0,438.6 292.0,438.8 287.0,436.0 285.3,434.0 284.1,431.0 284.2,429.0 285.0,426.9 288.0,424.3 290.8,423.0ZM252.0,427.0 258.0,426.4 260.0,427.2 261.6,429.0 261.8,433.0 260.0,441.0 260.8,448.0 259.8,452.0 261.3,453.0 268.0,455.0 284.0,457.1 287.0,457.9 295.5,464.0 297.2,466.0 298.6,469.0 300.0,473.0 300.0,475.0 297.6,482.0 296.0,485.0 293.0,487.8 289.2,490.0 279.0,493.1 273.0,493.0 268.0,491.5 265.0,489.8 260.4,486.0 251.6,477.0 249.1,473.0 248.6,469.0 250.8,462.0 251.0,455.7 250.0,454.5 245.0,452.0 243.0,450.0 239.3,443.0 238.6,439.0 240.0,434.0 242.1,431.0 246.0,428.4 251.8,427.0ZM428.0,542.5 429.0,542.4 429.4,543.0 429.4,544.0 428.5,545.0 426.0,545.2 426.2,544.0 427.2,543.0ZM234.0,598.0 236.9,599.0 237.7,601.0 237.0,603.3 234.0,605.0 232.0,604.1 231.1,601.0 231.9,599.0 233.9,598.0Z" fill="#c5e7fb" fill-rule="evenodd"/>
<path d="M48.0,0.0 481.3,0.0 479.0,6.2 471.8,22.0 471.5,24.0 472.0,26.1 473.0,27.5 483.4,32.0 490.0,36.5 497.0,39.7 498.4,41.0 498.0,42.0 473.0,28.2 468.0,26.5 458.8,22.0 457.0,21.5 456.3,22.0 467.5,31.0 470.2,34.0 469.8,35.0 467.5,36.0 466.5,37.0 466.8,39.0 468.6,43.0 468.6,45.0 466.5,50.0 464.0,53.3 457.0,56.4 452.0,62.2 444.8,65.0 442.7,67.0 442.3,70.0 445.5,88.0 445.5,93.0 444.4,98.0 443.0,101.6 440.0,105.5 437.0,107.9 434.0,109.1 431.0,108.7 428.0,106.9 425.0,103.9 421.5,97.0 416.8,90.0 416.3,88.0 416.9,82.0 410.0,73.6 406.0,70.1 400.0,66.3 394.0,64.0 388.0,64.1 382.0,65.2 377.0,65.1 374.0,66.5 368.0,71.1 344.0,91.9 326.0,100.8 319.0,102.4 308.0,106.1 301.0,107.5 293.0,110.6 287.0,111.6 284.0,111.2 280.9,110.0 276.4,107.0 272.0,102.4 269.0,101.7 260.0,104.8 245.0,112.8 230.2,127.0 226.1,137.0 225.7,139.0 226.6,141.0 229.0,143.6 238.0,150.2 240.9,153.0 243.2,157.0 243.3,160.0 241.0,163.2 237.0,166.0 232.0,167.4 223.0,168.0 211.0,165.8 207.7,166.0 200.0,167.9 198.0,167.6 196.0,166.4 193.8,163.0 191.5,156.0 188.2,152.0 186.1,148.0 185.4,144.0 185.3,137.0 184.6,134.0 179.0,127.0 173.0,124.3 171.2,122.0 165.4,106.0 165.2,104.0 166.1,98.0 165.3,96.0 163.0,95.2 159.0,96.1 153.0,98.2 139.0,105.0 137.0,105.0 94.9,63.0 59.0,18.1 47.8,0.0ZM284.7,10.0 285.9,12.0 291.0,15.6 294.3,19.0 301.0,23.7 303.0,23.7 312.0,21.2 327.5,13.0 328.9,12.0 328.6,11.0 318.0,10.5 313.0,9.7 285.0,9.9ZM350.4,14.0 346.6,17.0 342.6,22.0 334.0,37.0 332.7,41.0 334.0,40.7 340.0,36.6 349.0,32.6 351.0,32.4 357.0,33.3 363.0,31.4 365.8,29.0 367.1,26.0 367.2,22.0 365.9,19.0 363.0,16.2 359.0,14.2 354.0,13.1 351.0,13.7ZM604.0,0.0 680.0,0.0 680.0,254.7 677.5,263.0 668.0,309.3 659.0,438.0 656.7,452.0 651.6,470.0 648.3,474.0 641.0,478.0 636.0,479.4 632.0,479.5 630.0,478.8 627.8,477.0 615.0,462.6 609.4,455.0 605.0,451.1 599.0,449.2 583.0,447.8 578.0,445.8 574.0,442.8 570.5,438.0 568.7,433.0 569.0,429.0 572.6,420.0 572.2,417.0 571.0,415.4 569.0,415.1 563.0,417.0 555.0,418.4 554.1,420.0 554.1,425.0 553.4,429.0 549.5,435.0 547.0,442.8 544.0,449.0 543.8,451.0 544.9,456.0 544.6,459.0 540.0,475.0 540.0,478.0 542.0,486.0 545.1,491.0 545.4,493.0 544.1,495.0 542.7,496.0 538.0,497.1 535.0,496.8 530.0,495.2 524.0,496.7 520.9,496.0 518.0,493.0 511.8,483.0 503.7,474.0 501.0,470.1 498.0,469.3 496.0,467.8 494.8,466.0 494.8,464.0 502.2,453.0 505.3,440.0 507.0,438.1 510.0,436.4 512.5,433.0 515.3,426.0 515.7,420.0 516.7,418.0 524.2,411.0 527.0,406.3 529.0,404.1 532.0,402.5 540.0,400.1 546.2,394.0 547.9,390.0 549.8,383.0 549.6,380.0 548.3,375.0 549.0,372.4 552.0,370.6 555.0,369.6 562.0,369.3 566.0,368.5 569.4,366.0 570.3,364.0 570.9,356.0 572.5,348.0 574.0,345.0 577.0,341.8 580.1,335.0 582.2,333.0 587.0,330.4 598.0,328.4 606.0,322.8 612.6,322.0 615.1,321.0 619.3,310.0 621.1,300.0 620.8,293.0 619.9,290.0 618.4,288.0 615.0,286.3 609.0,286.3 603.1,283.0 601.0,283.1 597.0,285.7 591.0,292.8 583.6,298.0 563.0,307.4 559.6,311.0 556.7,318.0 556.2,324.0 558.3,330.0 557.3,333.0 555.3,335.0 553.1,336.0 540.0,339.1 538.0,338.7 536.2,337.0 532.6,330.0 533.1,327.0 538.8,319.0 539.2,316.0 537.7,306.0 536.7,294.0 534.6,291.0 531.0,289.0 526.0,287.7 516.0,286.5 503.0,288.2 494.0,287.2 450.0,295.0 439.0,297.8 436.0,299.9 434.7,303.0 434.7,306.0 437.2,325.0 436.1,330.0 432.4,341.0 431.4,347.0 431.9,352.0 434.3,358.0 434.9,361.0 434.3,377.0 433.4,380.0 430.3,383.0 427.0,385.3 419.0,388.0 413.0,388.4 399.0,387.5 394.0,388.3 384.0,391.2 380.3,391.0 378.4,390.0 373.5,383.0 374.3,381.0 377.5,378.0 380.4,374.0 381.6,370.0 380.9,367.0 379.0,364.0 372.0,357.6 368.0,355.1 366.0,354.8 365.0,355.3 359.0,363.8 357.0,365.4 355.0,366.2 351.5,366.0 348.5,363.0 346.7,359.0 341.6,343.0 335.2,334.0 333.9,326.0 334.6,319.0 333.2,312.0 333.2,308.0 333.7,306.0 335.0,304.3 340.3,301.0 342.0,299.2 346.5,289.0 348.0,287.7 350.0,287.9 355.0,290.5 356.5,292.0 356.7,293.0 355.9,295.0 349.4,302.0 348.2,304.0 346.4,312.0 346.4,315.0 347.0,316.3 349.0,317.2 353.0,317.4 361.0,316.1 364.0,314.7 367.0,312.4 371.0,307.0 372.8,303.0 373.2,300.0 373.0,288.0 372.0,283.4 369.0,275.7 367.0,273.8 359.6,270.0 358.2,268.0 358.4,266.0 364.0,260.2 367.0,254.7 369.4,252.0 375.9,248.0 386.0,244.1 392.0,240.3 393.2,238.0 393.7,233.0 393.1,230.0 390.7,225.0 390.6,223.0 391.9,220.0 395.0,216.2 398.0,214.7 404.0,214.2 417.0,211.5 419.0,210.3 421.0,207.4 429.2,183.0 429.4,181.0 426.7,164.0 426.6,158.0 427.3,154.0 430.5,146.0 433.4,130.0 435.0,127.1 438.0,125.2 442.0,124.2 452.0,123.4 458.0,123.7 464.0,122.6 470.0,122.6 475.3,124.0 484.0,129.2 488.0,130.8 491.0,130.6 499.0,126.9 505.0,126.4 510.0,127.5 517.0,130.4 527.0,137.1 530.0,137.3 535.0,134.4 537.0,132.0 540.1,119.0 539.2,110.0 546.8,97.0 546.9,95.0 545.4,86.0 548.7,81.0 551.0,80.3 554.0,80.6 573.4,87.0 576.2,87.0 567.1,81.0 527.5,58.0 529.0,57.9 533.7,60.0 541.0,64.3 557.0,69.8 558.0,69.0 560.5,59.0 562.4,55.0 569.0,47.0 583.5,32.0 599.2,8.0 603.8,0.0ZM607.0,232.0 595.9,239.0 592.6,242.0 591.7,244.0 592.4,246.0 595.5,250.0 599.3,259.0 603.0,261.0 608.0,260.3 614.3,257.0 618.6,253.0 620.2,250.0 620.7,245.0 619.9,237.0 618.3,234.0 613.0,231.3 608.0,231.7ZM513.6,451.0 509.4,453.0 506.9,456.0 505.2,464.0 505.4,466.0 516.0,474.6 522.0,477.9 525.0,478.4 526.0,477.7 526.6,476.0 527.1,470.0 527.1,461.0 526.2,455.0 524.8,453.0 523.1,452.0 518.0,450.9 514.0,450.9ZM508.0,46.7 510.7,48.0 510.0,48.4 507.3,47.0ZM517.0,51.9 518.0,52.3 516.7,52.0ZM519.0,52.6 522.5,54.0 525.0,56.2 523.4,56.0 518.1,53.0ZM267.0,137.6 270.0,137.4 273.0,139.0 276.8,143.0 278.2,146.0 278.0,149.0 275.6,156.0 272.0,160.1 267.0,163.0 262.7,164.0 261.0,163.5 259.4,162.0 257.5,158.0 257.3,154.0 258.4,150.0 266.5,138.0ZM208.0,208.7 211.0,208.2 214.0,208.6 218.0,210.8 220.0,213.0 227.0,229.0 229.3,244.0 235.0,253.0 235.2,255.0 233.7,266.0 235.0,275.0 233.7,278.0 231.0,279.5 228.0,279.8 222.0,277.6 219.0,277.5 205.0,282.4 192.0,285.5 183.0,286.7 169.0,290.4 165.0,290.6 157.0,289.7 153.1,290.0 151.5,291.0 150.0,293.2 146.8,300.0 146.0,300.9 145.0,300.8 142.0,298.0 109.8,262.0 107.7,259.0 107.6,257.0 108.5,256.0 112.2,254.0 114.0,252.1 117.0,245.4 120.0,240.9 120.9,238.0 120.8,232.0 116.2,215.0 116.2,213.0 117.0,212.0 120.0,211.0 125.0,210.4 152.0,209.8 161.0,210.3 178.0,212.7 190.0,212.1 198.0,212.8 201.0,212.2 207.2,209.0ZM319.0,268.0 323.0,267.2 327.0,267.9 331.0,270.0 332.4,272.0 332.4,274.0 331.5,276.0 328.0,281.8 326.0,283.2 320.0,283.4 316.0,282.8 312.0,280.2 310.2,278.0 310.5,275.0 312.2,272.0 315.0,269.6 318.9,268.0ZM255.0,274.9 257.0,274.7 260.0,275.4 268.2,279.0 271.9,282.0 271.9,283.0 270.0,284.5 257.0,288.8 253.0,289.3 245.0,288.3 243.0,287.6 242.1,286.0 242.8,283.0 245.1,280.0 249.9,277.0 254.6,275.0ZM309.0,374.7 311.0,374.8 312.0,375.4 312.4,376.0 311.1,377.0 308.8,377.0 307.9,376.0 308.5,375.0ZM456.0,383.8 463.0,384.3 465.6,385.0 466.7,386.0 466.9,387.0 465.7,389.0 461.0,394.6 459.0,396.0 458.0,395.9 456.0,394.4 451.5,388.0 452.0,385.9 455.3,384.0ZM294.0,399.9 297.0,399.4 299.0,399.7 301.0,400.9 303.0,403.0 303.7,405.0 303.3,407.0 300.0,410.0 294.0,410.7 292.0,409.7 291.0,407.0 291.1,403.0 292.0,401.2 293.7,400.0ZM250.0,430.9 254.0,430.5 256.0,430.8 257.1,432.0 257.5,434.0 256.7,440.0 256.9,444.0 256.3,446.0 254.0,447.9 250.0,449.0 248.0,448.8 246.3,447.0 243.0,440.4 242.4,438.0 243.2,435.0 244.7,433.0 247.0,431.5 249.2,431.0ZM263.0,459.9 270.0,459.8 282.0,461.3 287.0,463.9 291.0,468.2 292.8,472.0 293.4,475.0 293.0,479.0 292.0,481.7 290.3,484.0 287.6,486.0 284.0,487.6 281.0,488.3 275.0,488.2 268.0,485.7 263.6,482.0 257.3,474.0 255.5,470.0 255.9,466.0 258.2,462.0 260.0,460.7 262.6,460.0Z" fill="#acdcfa" fill-rule="evenodd"/>
<path d="M200.0,0.0 264.8,0.0 266.0,2.3 276.0,9.9 279.0,12.8 293.2,23.0 295.1,25.0 295.3,26.0 292.4,28.0 281.0,33.3 251.0,49.4 232.1,61.0 229.6,63.0 228.5,65.0 231.0,66.1 238.0,66.7 255.0,63.8 263.0,63.8 293.0,73.9 300.0,75.2 303.0,76.8 306.0,76.1 310.0,73.7 325.2,60.0 341.0,48.3 350.0,44.6 359.0,43.0 363.0,39.0 370.0,35.0 373.0,30.5 375.5,28.0 376.5,25.0 376.5,18.0 375.0,9.0 375.0,0.0 478.1,0.0 469.3,20.0 468.7,23.0 468.0,23.4 459.0,18.4 450.0,15.3 437.0,9.0 435.0,8.5 434.6,9.0 450.1,21.0 454.4,25.0 454.9,26.0 454.9,29.0 454.0,33.0 454.2,35.0 459.1,41.0 460.5,45.0 460.0,47.2 455.0,51.2 451.0,56.0 448.0,56.7 439.0,54.9 435.0,57.1 432.8,60.0 431.0,66.0 431.2,71.0 432.5,74.0 435.2,77.0 436.7,80.0 438.8,87.0 439.4,91.0 438.6,95.0 432.7,101.0 430.0,101.4 427.0,99.9 421.9,93.0 421.2,90.0 423.3,83.0 423.3,81.0 417.4,72.0 398.0,55.8 395.0,53.8 392.0,53.1 379.0,58.4 374.0,59.2 371.0,60.5 359.9,71.0 355.0,77.0 346.0,85.1 341.0,88.5 335.0,88.9 330.9,94.0 327.3,96.0 324.0,97.1 317.0,98.1 311.6,101.0 308.0,101.9 305.0,101.5 302.0,99.3 300.0,98.7 299.0,99.4 295.0,105.4 293.0,106.4 290.0,106.6 287.9,106.0 285.8,104.0 282.8,97.0 281.0,94.5 277.0,93.1 270.0,93.4 267.0,94.5 254.0,102.3 241.0,111.4 231.0,120.0 227.0,122.5 222.0,124.3 206.0,125.9 204.0,125.5 202.4,124.0 201.9,119.0 200.0,114.0 199.9,111.0 201.3,101.0 200.9,95.0 200.1,92.0 197.0,88.3 188.0,83.2 187.0,82.0 192.0,75.7 195.0,73.7 196.0,72.0 194.5,61.0 194.4,45.0 196.2,32.0 196.4,26.0 197.2,22.0 197.4,16.0 199.3,0.0ZM605.0,0.0 680.0,0.0 680.0,229.7 678.2,234.0 667.7,268.0 665.6,278.0 655.7,422.0 652.0,444.3 649.0,454.2 646.0,459.7 644.0,460.3 639.0,459.2 635.0,459.2 625.0,463.7 622.0,462.4 619.4,460.0 614.0,450.6 611.0,447.2 609.0,445.9 604.0,444.3 587.0,443.0 582.0,441.3 579.0,439.0 578.0,437.0 578.2,434.0 580.0,430.3 584.5,425.0 584.8,422.0 583.5,418.0 581.1,414.0 577.8,410.0 575.0,408.1 572.0,408.4 552.7,416.0 551.7,418.0 551.6,424.0 550.6,428.0 543.4,439.0 540.0,442.4 538.0,443.3 533.0,444.2 527.0,447.4 524.0,448.3 515.0,447.5 510.0,448.0 508.1,447.0 507.8,446.0 508.5,442.0 512.6,437.0 514.1,434.0 517.0,426.0 517.2,421.0 518.0,418.9 523.0,414.8 529.0,407.7 531.0,406.1 534.0,404.7 541.3,403.0 546.0,400.0 550.5,393.0 556.0,377.7 558.0,376.4 562.0,375.5 572.0,374.8 575.9,373.0 578.0,370.9 580.2,366.0 580.8,361.0 580.4,352.0 582.6,342.0 583.7,339.0 586.0,335.7 589.0,333.5 592.0,332.6 600.0,332.6 605.0,331.5 608.0,330.1 612.0,330.5 617.0,329.6 622.2,330.0 632.0,315.3 634.0,313.9 637.0,315.1 638.0,314.6 640.5,311.0 644.5,300.0 648.6,284.0 650.8,273.0 651.0,266.0 650.1,264.0 649.0,263.3 643.0,262.9 637.8,255.0 628.0,247.0 626.6,244.0 623.5,232.0 621.9,230.0 618.0,227.3 616.0,226.6 613.0,226.5 604.2,229.0 600.0,232.1 584.0,241.6 579.1,246.0 578.4,248.0 579.7,251.0 596.2,269.0 597.3,272.0 596.7,276.0 594.9,279.0 588.7,286.0 578.0,293.3 572.0,296.5 559.3,305.0 553.6,314.0 550.8,324.0 549.4,326.0 548.0,326.9 545.0,326.2 541.4,324.0 541.6,322.0 543.3,318.0 543.0,309.6 544.0,308.1 548.0,305.7 550.1,303.0 550.9,300.0 551.0,294.0 552.0,292.1 555.0,289.8 562.0,286.4 563.8,285.0 565.1,283.0 565.9,279.0 565.8,276.0 564.1,272.0 562.0,270.0 559.0,270.2 546.0,275.1 524.0,280.6 521.0,280.9 514.0,279.8 507.0,280.0 500.6,283.0 495.0,283.6 482.0,286.4 437.0,293.0 434.0,294.3 431.0,297.2 429.6,301.0 430.6,311.0 432.8,324.0 432.2,330.0 423.5,352.0 422.0,353.3 416.0,355.7 412.2,358.0 409.0,362.0 408.3,366.0 410.1,372.0 410.3,376.0 409.3,379.0 407.0,380.9 404.0,381.3 397.0,381.1 394.1,380.0 391.0,377.8 389.8,375.0 389.8,372.0 390.5,370.0 393.3,366.0 393.1,364.0 390.8,361.0 384.5,357.0 382.7,354.0 380.6,347.0 378.8,345.0 376.0,343.5 372.0,342.6 368.0,342.4 365.0,343.0 362.0,344.5 360.8,347.0 360.0,353.4 359.0,356.3 356.0,360.8 355.0,361.3 353.7,361.0 350.0,355.5 345.8,341.0 341.1,332.0 340.5,329.0 341.2,326.0 344.0,324.1 356.0,323.9 360.0,323.2 363.0,322.1 368.0,318.6 373.4,313.0 377.6,304.0 378.0,302.0 376.5,295.0 376.2,287.0 374.8,275.0 375.0,270.8 377.0,268.9 386.0,268.0 387.9,266.0 387.1,262.0 382.7,258.0 382.8,255.0 384.6,251.0 391.0,247.0 393.0,244.8 395.2,241.0 396.1,237.0 396.4,232.0 393.8,224.0 394.1,222.0 395.8,219.0 397.0,217.8 399.0,216.9 407.0,216.4 417.0,214.6 419.6,213.0 421.6,210.0 423.6,205.0 426.0,195.8 429.0,188.7 431.0,185.9 434.0,184.3 435.2,181.0 435.6,177.0 434.0,167.0 433.5,159.0 434.5,154.0 437.0,150.7 441.0,149.3 452.0,150.1 456.0,151.3 457.2,153.0 457.4,155.0 456.3,161.0 454.5,166.0 454.6,168.0 456.6,171.0 459.0,172.8 462.0,173.8 465.0,173.6 467.0,172.8 469.0,170.9 472.8,162.0 476.0,157.2 483.8,150.0 489.9,141.0 497.0,135.4 506.0,134.3 510.0,135.0 512.3,137.0 513.5,142.0 515.0,143.1 519.0,144.5 528.0,145.6 531.0,145.1 532.7,144.0 540.0,135.9 542.7,128.0 545.0,123.6 546.0,122.6 549.8,121.0 550.5,120.0 550.2,114.0 554.0,98.0 554.0,93.8 554.9,92.0 559.0,87.6 562.0,87.0 566.8,88.0 596.7,99.0 600.0,100.1 602.2,100.0 593.2,94.0 559.8,75.0 557.8,73.0 559.8,70.0 562.1,60.0 563.8,55.0 570.0,47.4 584.0,32.7 599.5,9.0 604.7,0.0ZM621.1,356.0 619.0,357.6 616.7,361.0 614.1,368.0 613.5,372.0 614.0,374.5 615.5,376.0 619.0,377.5 622.0,377.5 624.6,376.0 630.8,371.0 632.9,368.0 633.5,365.0 631.8,360.0 629.0,356.6 626.0,355.2 622.0,355.6ZM208.0,140.9 213.0,140.1 216.0,140.8 222.0,146.5 234.2,154.0 235.5,156.0 235.4,159.0 234.0,161.0 231.0,162.6 221.0,163.8 216.2,163.0 211.8,161.0 206.0,155.2 200.8,152.0 199.6,150.0 200.5,148.0 204.0,143.0 207.5,141.0ZM268.0,144.9 269.0,144.6 271.0,145.3 273.0,148.0 272.0,152.5 270.0,155.3 266.0,156.8 264.5,156.0 263.7,154.0 264.2,150.0 267.9,145.0ZM146.0,215.0 159.0,215.5 178.0,220.4 194.0,221.5 200.0,220.6 210.0,217.3 213.0,217.6 215.0,219.5 219.0,224.7 222.3,231.0 222.9,236.0 221.1,247.0 225.6,258.0 226.0,262.0 224.9,267.0 223.0,269.7 212.0,273.9 207.0,275.0 203.0,275.1 200.0,274.5 193.0,270.2 185.0,267.5 182.0,265.3 179.3,261.0 178.8,254.0 177.7,249.0 173.3,238.0 170.5,235.0 166.0,231.7 163.0,230.3 160.0,230.1 158.0,231.1 154.8,234.0 152.6,237.0 152.0,239.0 154.0,246.0 157.0,252.0 157.2,255.0 156.5,257.0 154.0,259.5 142.4,264.0 138.1,267.0 136.8,269.0 136.4,271.0 137.9,279.0 137.0,280.2 134.0,277.7 129.1,272.0 126.0,268.0 124.6,265.0 126.1,262.0 125.3,258.0 125.5,256.0 129.4,243.0 130.3,238.0 130.0,234.0 127.4,225.0 127.1,222.0 128.0,219.6 132.0,217.3 145.7,215.0ZM320.0,270.9 324.0,270.4 326.5,272.0 326.0,274.9 324.0,277.1 320.0,277.3 317.0,275.6 316.5,274.0 317.0,273.0 319.6,271.0ZM248.0,435.8 252.0,435.5 253.0,436.0 253.5,437.0 253.4,442.0 252.0,443.7 250.0,443.7 248.6,442.0 247.0,438.0 247.8,436.0ZM267.0,464.7 272.0,464.2 278.5,465.0 282.0,466.2 285.0,468.4 287.4,472.0 288.4,476.0 287.1,480.0 284.0,482.5 281.0,483.0 274.0,481.7 271.0,480.5 268.0,478.1 264.8,474.0 263.2,470.0 263.8,467.0 266.2,465.0Z" fill="#9ad5fd" fill-rule="evenodd"/>
<path d="M428.0,0.0 464.1,0.0 453.0,12.3 451.0,12.9 446.7,11.0 427.4,0.0ZM606.0,0.0 680.0,0.0 680.0,194.3 677.0,196.2 675.0,193.1 674.0,193.2 670.0,200.4 664.0,214.6 662.0,216.6 659.0,217.6 653.0,218.1 646.0,217.0 643.0,217.1 638.0,219.0 632.0,222.6 629.0,223.4 620.0,221.5 615.0,221.7 603.0,224.6 597.0,227.7 592.0,228.8 588.0,228.4 579.0,225.6 568.0,226.1 561.0,225.7 556.5,225.0 549.0,222.7 547.0,222.8 543.9,224.0 539.7,227.0 538.4,229.0 538.6,231.0 540.2,234.0 543.3,237.0 552.0,241.5 557.1,245.0 561.1,249.0 563.5,253.0 563.5,255.0 562.3,258.0 558.1,263.0 555.0,264.9 551.0,266.1 542.0,265.5 526.2,273.0 522.0,274.3 517.0,273.8 510.0,270.9 507.0,270.7 505.0,272.0 499.6,278.0 496.0,279.5 489.5,281.0 483.0,282.0 475.0,282.1 461.0,280.1 456.0,280.2 431.0,288.8 425.7,294.0 423.8,299.0 424.5,305.0 427.8,319.0 428.4,325.0 427.7,330.0 424.0,339.0 420.0,344.8 415.0,348.7 411.0,350.4 397.0,354.0 395.0,353.6 393.0,352.3 391.5,350.0 389.0,344.0 387.5,342.0 383.0,337.9 374.5,332.0 373.0,330.0 372.6,328.0 373.4,325.0 377.0,320.6 380.8,309.0 385.4,303.0 385.3,301.0 381.0,296.2 379.8,293.0 379.1,285.0 380.4,276.0 381.0,274.8 383.0,273.4 389.0,272.0 392.0,270.8 394.2,269.0 395.0,267.1 394.9,265.0 392.6,258.0 392.5,254.0 396.8,242.0 398.8,233.0 398.8,231.0 396.4,224.0 396.8,222.0 398.0,220.2 401.0,218.9 412.0,218.1 418.0,217.2 420.0,216.3 424.3,211.0 427.0,201.8 429.0,198.9 433.0,196.7 437.0,195.7 442.0,188.9 444.0,187.2 446.0,186.8 449.0,187.7 451.0,187.3 469.0,179.0 472.3,176.0 477.0,167.2 480.0,164.2 483.0,163.2 486.0,163.2 494.3,167.0 503.0,168.2 506.0,167.0 508.9,164.0 509.7,161.0 509.2,159.0 504.7,152.0 504.4,151.0 505.0,149.8 507.0,149.2 510.0,149.2 534.0,151.6 537.0,151.4 539.0,150.6 540.6,148.0 545.3,129.0 547.0,127.0 553.0,126.5 556.4,124.0 558.7,119.0 559.1,111.0 560.6,106.0 562.0,104.2 565.2,102.0 567.6,99.0 571.8,96.0 575.0,95.6 581.1,97.0 628.5,115.0 634.7,117.0 636.4,117.0 634.3,115.0 626.3,110.0 581.4,85.0 575.1,80.0 574.8,79.0 578.0,66.6 581.8,39.0 588.0,28.3 601.5,8.0 605.9,0.0ZM605.2,149.0 602.0,149.6 599.0,151.0 592.0,156.8 589.2,161.0 587.6,167.0 587.5,169.0 588.9,171.0 591.0,172.7 596.0,175.0 604.0,176.1 615.0,175.5 617.0,174.8 620.0,172.3 625.8,169.0 627.3,166.0 627.0,163.1 624.9,159.0 624.0,154.9 622.5,153.0 612.0,148.7 606.0,148.9ZM422.0,6.8 424.0,7.1 427.8,9.0 437.9,16.0 440.2,20.0 441.4,27.0 440.2,30.0 435.4,36.0 432.0,43.1 430.0,45.9 424.0,52.5 419.0,55.1 416.0,55.4 414.0,54.8 412.0,53.3 410.4,51.0 409.7,48.0 409.6,38.0 410.8,32.0 417.6,16.0 418.5,10.0 419.7,8.0 421.2,7.0ZM377.0,38.5 379.0,38.2 381.2,39.0 383.0,40.8 383.5,43.0 382.1,47.0 378.0,51.6 376.0,51.9 374.0,50.9 372.1,49.0 371.0,46.0 371.5,43.0 376.0,39.0ZM592.0,336.7 594.0,336.0 596.0,336.2 602.3,339.0 604.1,341.0 606.5,349.0 612.4,353.0 612.8,355.0 612.0,359.0 609.0,366.3 607.0,369.0 606.0,369.4 605.0,368.8 598.0,360.3 596.0,359.2 590.0,358.1 587.0,355.5 585.2,353.0 585.0,351.0 586.0,345.8 591.5,337.0ZM544.0,405.8 549.0,405.7 551.1,407.0 551.6,408.0 549.8,414.0 549.5,423.0 548.3,427.0 542.0,435.7 539.0,438.8 531.6,441.0 526.0,444.2 523.0,445.2 516.8,444.0 515.0,443.0 514.0,441.1 518.5,427.0 518.9,422.0 519.7,420.0 524.0,416.8 530.0,410.5 533.0,408.2 536.0,407.0 543.0,406.0Z" fill="#7fc0ff" fill-rule="evenodd"/>
<path d="M566.0,125.9 569.0,126.1 574.0,128.2 582.0,130.2 585.0,131.6 591.4,138.0 593.5,142.0 593.3,145.0 591.2,151.0 584.0,161.3 581.0,163.7 574.0,166.1 561.0,163.7 555.0,161.0 552.1,157.0 549.2,145.0 547.9,135.0 548.5,132.0 550.0,131.2 554.0,131.2 557.0,130.6 565.6,126.0ZM637.0,151.6 641.0,151.2 644.0,152.9 647.2,157.0 648.4,161.0 647.8,168.0 646.0,171.7 642.7,175.0 641.6,177.0 640.9,185.0 639.8,189.0 639.0,190.0 637.0,190.7 634.0,190.7 629.0,189.1 625.7,186.0 624.5,182.0 624.8,179.0 625.5,177.0 629.0,173.0 631.1,168.0 631.8,165.0 631.5,160.0 632.1,157.0 634.0,154.0 636.4,152.0ZM520.0,156.7 527.0,156.5 532.0,157.3 535.5,159.0 538.7,162.0 544.0,171.2 552.3,183.0 552.8,185.0 552.8,191.0 554.3,195.0 556.7,198.0 561.0,201.8 564.0,202.1 576.0,197.9 580.0,197.4 585.0,198.1 590.0,201.9 592.0,202.6 598.0,201.9 604.0,202.2 612.0,201.5 616.7,203.0 621.8,206.0 623.3,208.0 622.7,211.0 620.9,213.0 617.4,215.0 607.0,218.0 600.0,218.1 593.0,215.1 591.0,214.9 580.0,219.2 571.0,220.0 565.0,219.6 560.0,217.1 548.0,212.8 543.0,212.7 539.6,217.0 530.5,223.0 523.0,229.6 520.8,233.0 517.4,246.0 517.0,252.0 518.0,255.0 520.0,257.7 522.0,258.6 525.7,259.0 526.9,260.0 526.8,262.0 525.1,265.0 522.7,267.0 519.0,267.7 509.0,264.6 506.0,264.6 504.0,266.3 499.0,272.5 496.0,274.3 482.0,274.6 478.0,274.0 474.5,271.0 470.1,264.0 467.2,261.0 463.0,258.4 458.0,256.8 451.0,255.8 445.0,255.9 438.0,257.7 433.0,260.0 431.0,261.5 430.3,263.0 433.3,269.0 433.4,272.0 431.9,276.0 429.3,280.0 427.0,281.9 425.0,282.7 413.0,284.0 408.7,287.0 405.7,291.0 406.2,293.0 412.2,297.0 414.9,300.0 421.0,316.0 422.1,321.0 421.6,326.0 420.0,329.2 417.0,331.4 414.0,331.7 407.0,329.7 403.0,329.4 399.0,329.8 393.0,331.8 390.0,331.8 386.0,328.9 384.0,326.2 383.2,324.0 383.4,320.0 385.1,314.0 386.3,312.0 390.0,309.1 391.7,307.0 393.7,303.0 394.2,300.0 393.0,297.4 387.0,294.8 384.0,292.4 382.5,288.0 383.0,283.4 384.0,280.0 385.3,278.0 394.0,273.5 399.4,269.0 399.8,267.0 398.8,261.0 402.1,254.0 401.9,250.0 400.0,245.2 399.7,242.0 400.0,238.0 401.9,232.0 401.4,230.0 399.3,226.0 399.1,224.0 399.6,223.0 401.0,222.0 404.0,221.4 423.0,219.7 430.0,221.3 436.0,219.5 439.0,220.8 442.0,221.1 448.0,220.6 452.6,219.0 457.2,216.0 458.9,214.0 459.4,212.0 459.4,203.0 460.7,198.0 464.0,192.0 470.0,185.0 477.0,179.3 482.0,177.6 485.0,174.0 487.0,173.2 498.0,172.5 505.0,174.0 508.0,173.4 511.0,170.7 515.3,165.0 517.5,161.0 518.1,158.0 519.1,157.0ZM536.0,409.9 541.0,409.4 543.0,409.7 545.0,410.8 546.7,414.0 547.5,420.0 547.0,424.0 545.6,427.0 540.0,434.3 536.0,437.4 530.1,439.0 525.0,441.7 523.0,442.1 519.5,441.0 518.5,440.0 517.9,438.0 518.4,434.0 522.0,421.0 535.8,410.0Z" fill="#65aeff" fill-rule="evenodd"/>
<path d="M565.0,135.8 569.0,135.7 577.0,137.8 580.2,140.0 583.2,144.0 584.6,147.0 584.4,150.0 581.0,155.8 578.0,158.0 576.0,158.3 565.0,157.1 562.4,156.0 561.0,154.6 559.0,148.3 558.9,142.0 560.6,138.0 564.2,136.0ZM525.0,165.6 528.0,165.6 531.0,167.7 533.2,171.0 534.5,175.0 534.0,180.1 529.4,189.0 528.6,192.0 529.3,197.0 533.4,209.0 533.8,212.0 533.4,214.0 530.7,217.0 519.0,223.0 514.9,227.0 513.9,230.0 514.8,239.0 513.2,249.0 512.8,255.0 511.0,256.6 506.0,256.8 504.0,257.8 496.0,266.1 494.0,266.9 490.0,267.1 487.0,266.8 485.0,265.9 483.0,264.0 480.1,258.0 477.0,254.0 473.0,250.4 469.0,248.4 446.0,244.5 431.0,246.0 420.0,246.0 409.0,243.1 407.0,241.5 405.3,238.0 405.0,236.0 405.8,232.0 403.5,227.0 403.6,226.0 406.0,225.0 413.0,224.0 421.0,224.6 424.0,225.5 430.0,229.2 439.0,231.0 448.0,230.3 455.0,227.9 467.0,221.4 469.0,220.0 470.5,218.0 471.0,216.0 470.6,207.0 473.0,201.3 474.6,193.0 476.0,190.6 478.0,189.6 480.0,189.8 483.0,191.1 487.0,193.9 489.0,194.4 491.0,192.3 495.0,183.4 498.0,179.8 501.0,178.3 509.0,180.0 513.0,178.8 517.0,175.6 522.0,168.3 524.4,166.0ZM578.0,203.0 580.0,202.9 582.0,203.9 583.1,206.0 583.2,208.0 582.5,210.0 581.0,211.9 577.0,214.5 574.0,214.9 571.0,214.4 569.5,213.0 569.4,211.0 570.0,209.0 572.3,206.0 575.0,204.0 577.8,203.0ZM409.0,260.6 413.0,260.7 418.9,264.0 422.9,268.0 423.2,269.0 422.8,271.0 420.9,274.0 419.0,275.7 417.0,276.2 410.3,276.0 404.0,279.4 400.0,282.5 398.1,287.0 396.0,289.3 393.0,290.0 389.0,289.2 387.7,287.0 388.0,285.0 390.4,281.0 393.0,279.3 397.0,278.1 403.6,271.0 405.3,268.0 405.6,264.0 408.0,261.0ZM538.0,412.7 541.0,412.7 543.1,414.0 544.9,418.0 545.0,422.0 543.3,426.0 540.0,430.6 536.0,434.3 533.0,435.9 525.0,438.4 523.0,438.4 521.4,437.0 521.3,434.0 523.8,425.0 525.0,422.5 537.0,413.0Z" fill="#4c9bff" fill-rule="evenodd"/>
<path d="M502.0,185.5 504.0,185.3 506.1,186.0 509.6,188.0 511.3,190.0 512.2,194.0 511.6,196.0 510.0,198.0 508.0,198.9 505.0,199.0 502.0,197.9 500.1,196.0 499.0,193.0 499.0,190.0 499.6,188.0 501.2,186.0ZM538.0,418.8 540.0,419.0 541.0,420.1 541.4,422.0 540.8,424.0 537.4,429.0 532.0,433.2 528.0,434.0 526.0,433.2 525.9,431.0 527.0,427.0 528.1,425.0 530.4,423.0 537.3,419.0Z" fill="#3a8cff" fill-rule="evenodd"/>
<g mask="url(#lm)">
<path d="M412.0,594.9 400.0,597.7 396.6,599.0 394.2,602.0 394.0,604.0 394.6,606.0 396.3,608.0 413.0,619.4 422.2,623.0 428.0,629.2 433.0,630.9 434.6,630.0 435.8,628.0 437.2,619.0 437.3,613.0 435.4,604.0 434.0,602.6 421.0,595.5 417.0,594.4 413.0,594.6" fill="none" stroke="#000" stroke-width="1.0"/>
<path d="M177.5,650.0 182.0,633.2 187.3,609.0 186.9,603.0 190.0,597.3 197.0,592.0 205.1,574.0 205.1,571.0 203.0,568.6 198.0,566.5 193.0,565.6 189.0,566.3 185.0,571.0 174.8,577.0 172.7,580.0 172.8,583.0 171.0,585.5 169.0,590.5 162.0,595.3 145.0,612.5 140.6,616.0 105.0,650.0M506.9,650.0 498.4,641.0 493.0,633.6 492.0,633.1 461.0,641.3 459.0,641.5 457.1,641.0 456.0,638.9 450.4,640.0 449.8,639.0 450.0,638.0 454.3,629.0 455.2,624.0 453.0,620.0 451.3,619.0 449.0,618.9 447.7,618.0 446.7,613.0 445.1,609.0 444.7,603.0 444.0,601.1 441.2,597.0 439.0,595.1 429.0,590.4 424.0,586.2 422.0,585.7 416.0,587.0 409.0,589.6 388.9,593.0 387.0,593.9 386.4,595.0 385.4,607.0 386.0,610.7 388.0,612.8 395.7,617.0 399.0,619.8 401.8,624.0 403.5,629.0 403.7,632.0 403.3,634.0 399.4,642.0 398.8,650.0M633.0,515.8 627.2,518.0 624.1,520.0 621.1,524.0 621.1,527.0 623.6,531.0 626.0,537.0 630.0,541.0 634.0,542.2 644.0,541.2 645.0,540.7 645.6,539.0 643.4,531.0 645.0,528.3 649.6,524.0 650.1,522.0 649.7,519.0 648.0,516.6 645.0,515.2 634.0,515.6M550.0,519.5 546.3,524.0 544.0,525.9 538.0,528.1 534.8,530.0 532.1,533.0 530.9,536.0 531.1,538.0 532.2,540.0 534.0,541.4 539.1,543.0 544.1,551.0 547.0,552.4 551.0,552.2 553.1,551.0 553.4,550.0 550.0,546.0 548.2,543.0 547.2,539.0 547.9,537.0 549.5,536.0 552.0,535.7 562.0,536.8 563.4,536.0 563.9,534.0 563.0,527.4 559.7,522.0 557.0,520.0 551.0,519.2M402.0,523.6 387.0,530.6 385.3,532.0 384.3,534.0 384.8,536.0 386.0,537.2 391.0,538.0 392.3,539.0 392.3,542.0 390.5,549.0 390.8,551.0 393.0,551.6 396.0,550.3 398.0,548.6 402.8,542.0 406.5,538.0 409.0,537.4 416.0,538.1 417.0,537.9 417.6,537.0 415.7,532.0 413.0,527.5 409.0,524.8 404.0,523.4 402.0,523.6M505.0,526.9 501.0,527.7 498.1,529.0 496.5,531.0 496.5,534.0 498.7,537.0 501.8,539.0 510.0,540.0 514.4,538.0 516.5,535.0 517.3,532.0 516.0,530.0 513.0,528.2 506.0,526.9M602.0,543.7 599.6,546.0 599.6,547.0 601.0,549.0 608.0,554.7 611.0,555.6 613.0,555.5 614.0,555.0 615.0,553.0 614.4,550.0 613.0,547.5 611.0,545.5 608.0,543.8 605.0,543.1 603.0,543.3M597.0,564.9 594.5,567.0 594.5,570.0 596.0,573.3 599.4,578.0 602.0,583.7 604.0,584.6 611.0,582.5 612.7,580.0 612.5,577.0 610.5,574.0 602.0,564.8 600.0,564.1 597.0,564.9M373.0,576.7 371.0,579.0 371.0,582.2 374.2,587.0 376.0,588.1 378.0,588.0 380.0,586.7 380.8,585.0 380.3,581.0 378.0,577.1 376.0,576.3 374.0,576.4" fill="none" stroke="#000" stroke-width="1.0"/>
<path d="M680.0,525.7 677.0,525.3 670.9,520.0 664.0,515.9 659.0,513.6 650.0,510.7 642.0,510.0 626.0,512.5 620.0,514.5 612.0,519.9 605.0,521.1 603.3,522.0 602.4,524.0 601.6,530.0 597.8,536.0 589.0,541.8 586.0,542.9 582.0,543.4 577.0,542.4 572.0,539.1 570.3,536.0 569.4,533.0 568.7,522.0 568.0,519.0 566.2,517.0 564.5,516.0 558.5,514.0 552.0,513.1 547.0,513.6 534.0,522.4 528.0,524.6 522.0,525.6 517.0,525.5 506.0,522.6 494.0,521.5 481.0,520.5 473.8,521.0 471.8,522.0 470.6,524.0 470.8,539.0 474.0,543.7 478.7,558.0 483.0,565.5 484.3,571.0 483.5,573.0 478.7,577.0 478.6,578.0 484.0,578.6 496.9,577.0 502.0,575.5 506.0,572.2 512.1,572.0 513.4,571.0 514.0,569.0 511.2,560.0 511.2,556.0 512.0,554.3 514.0,554.7 518.0,557.6 520.0,557.9 522.0,556.8 526.0,551.2 528.0,549.9 532.0,549.5 534.9,550.0 538.8,553.0 544.0,555.5 552.0,555.2 557.0,555.7 566.0,555.2 568.4,556.0 571.0,557.9 576.0,563.6 581.2,568.0 582.6,570.0 582.3,574.0 579.1,581.0 577.0,588.0 576.8,590.0 578.0,595.0 577.1,597.0 575.0,599.0 570.0,601.8 555.0,607.8 490.5,626.0 481.0,628.3 476.0,628.9 475.0,628.0 476.3,623.0 475.0,622.5 464.0,627.4 463.0,627.1 463.0,626.0 467.2,616.0 468.3,611.0 467.7,607.0 465.7,602.0 462.0,597.6 457.0,596.2 452.0,593.4 439.7,585.0 436.2,581.0 435.0,575.5 434.0,574.3 432.0,574.5 422.0,578.0 409.0,584.6 394.0,585.5 391.0,584.8 388.1,583.0 384.0,579.0 380.0,572.9 373.0,568.8 370.0,570.7 367.6,574.0 365.9,578.0 365.3,583.0 366.0,585.3 368.6,589.0 377.2,597.0 378.3,599.0 378.9,602.0 378.0,605.3 367.7,621.0 366.0,624.7 365.9,628.0 369.4,636.0 368.8,640.0 364.6,645.0 364.5,647.0 365.8,650.0M180.6,650.0 181.9,644.0 191.5,612.0 192.0,608.0 192.5,607.0 195.5,605.0 200.0,599.4 207.6,585.0 213.1,577.0 215.0,571.0 214.5,567.0 213.2,565.0 211.8,564.0 197.0,561.7 191.0,561.3 186.0,562.3 175.9,571.0 168.0,574.0 164.0,576.5 161.9,580.0 162.0,584.0 161.0,586.6 155.0,597.7 142.7,610.0 138.0,613.7 110.7,640.0 106.0,643.7 101.9,648.0 101.1,650.0M508.4,650.0 507.0,648.0 499.2,640.0 496.1,636.0 495.3,634.0 496.0,632.6 498.0,631.5 555.0,612.6 561.0,612.5 568.0,610.7 568.9,611.0 569.2,612.0 568.5,614.0 557.0,635.1 552.0,645.8 550.7,650.0M473.0,454.9 470.1,458.0 467.9,462.0 467.3,465.0 467.7,468.0 469.0,470.2 471.4,472.0 477.0,473.6 479.0,473.4 480.0,472.1 482.0,466.2 482.6,460.0 482.0,458.7 479.8,457.0 476.0,454.7 474.0,454.4M420.0,492.7 418.0,493.9 415.0,496.9 411.5,504.0 403.0,512.6 396.5,521.0 393.0,523.7 384.0,528.5 382.4,530.0 381.1,538.0 379.4,542.0 379.6,544.0 381.0,544.8 384.0,545.0 384.7,546.0 383.9,553.0 385.0,555.6 388.0,557.4 392.0,557.8 395.0,556.8 398.0,554.5 409.0,540.2 411.0,539.7 418.0,540.6 420.0,539.7 422.0,537.0 421.8,534.0 415.3,521.0 414.8,518.0 415.1,514.0 416.3,511.0 417.9,509.0 427.4,504.0 428.3,503.0 428.6,501.0 426.7,494.0 425.0,492.9 421.0,492.5" fill="none" stroke="#000" stroke-width="1.0"/>
<path d="M680.0,511.2 673.0,509.1 671.6,505.0 670.0,503.6 668.0,503.2 665.2,504.0 661.0,506.4 655.0,504.9 650.0,505.4 644.0,504.9 632.0,507.7 622.0,509.4 617.0,511.4 611.0,515.7 608.0,516.5 600.0,515.6 587.0,512.0 576.0,512.7 560.0,510.4 552.0,510.2 544.2,511.0 540.4,513.0 533.0,518.4 519.0,521.9 513.0,521.8 502.0,518.5 500.0,517.6 496.0,514.6 494.0,514.0 491.0,514.0 486.0,515.1 476.0,516.0 472.0,517.4 467.5,520.0 464.1,523.0 462.2,526.0 460.6,532.0 460.2,544.0 459.8,545.0 457.0,547.3 456.1,549.0 456.0,557.0 454.0,561.1 453.0,561.5 451.0,560.9 449.1,559.0 447.0,555.6 444.1,554.0 442.0,553.6 441.1,555.0 441.1,564.0 440.0,565.7 438.0,567.2 426.0,572.5 418.0,574.5 413.0,577.5 408.0,579.7 398.0,580.0 394.8,579.0 389.7,575.0 385.0,572.7 381.4,567.0 381.1,564.0 381.9,562.0 384.0,561.1 392.0,562.5 396.0,561.3 400.5,557.0 410.0,542.5 412.0,541.6 419.0,541.9 421.0,540.5 424.0,537.0 425.7,534.0 425.9,532.0 420.7,522.0 419.5,518.0 419.9,514.0 422.0,510.9 425.0,508.8 436.1,504.0 439.0,502.1 447.0,502.9 451.0,502.2 453.9,500.0 455.0,497.4 454.9,487.0 454.0,484.4 453.0,483.8 446.0,484.7 431.0,481.7 423.0,481.1 418.0,481.7 415.0,483.8 413.0,486.4 404.3,504.0 390.4,521.0 386.0,523.5 383.0,523.7 377.0,520.4 369.0,518.1 367.0,518.7 364.7,521.0 365.0,524.0 369.0,531.9 371.0,533.6 375.0,532.8 376.0,533.1 376.4,534.0 375.9,536.0 372.6,540.0 370.7,544.0 370.0,547.0 370.1,552.0 367.0,555.9 365.0,560.0 362.5,574.0 360.8,581.0 360.8,585.0 361.6,588.0 364.0,593.0 367.8,598.0 368.3,600.0 366.1,604.0 364.0,612.0 359.9,623.0 359.8,626.0 361.0,631.0 358.4,635.0 357.6,640.0 353.0,641.9 351.7,645.0 350.7,646.0 349.0,646.6 329.9,646.0 331.0,647.0 335.0,648.5 336.4,650.0M189.0,650.0 189.6,648.0 194.0,640.3 197.0,630.8 200.3,615.0 200.3,612.0 199.4,610.0 199.7,609.0 201.5,607.0 204.8,599.0 209.2,595.0 211.7,589.0 226.8,566.0 226.8,565.0 223.9,563.0 220.0,557.9 218.0,556.8 216.0,556.5 202.0,557.9 186.0,557.5 182.0,558.6 175.0,563.1 170.0,564.0 169.0,563.0 169.0,555.5 166.0,555.2 165.3,554.0 161.0,541.0 157.0,531.8 154.0,527.3 141.0,513.0 140.0,512.6 140.0,515.2 142.7,526.0 143.2,530.0 146.4,541.0 146.2,544.0 145.0,544.7 114.0,532.3 94.8,523.0 20.0,493.1M509.6,650.0 508.4,648.0 500.5,640.0 497.5,636.0 496.9,634.0 498.0,633.0 532.0,621.8 538.0,620.6 556.0,614.8 557.1,615.0 557.7,616.0 557.2,619.0 548.2,650.0M368.0,151.8 366.0,152.6 365.0,154.0 365.2,157.0 366.1,159.0 368.6,162.0 370.0,163.0 372.0,163.5 373.0,163.0 374.5,161.0 375.7,156.0 374.0,153.7 369.0,151.9M209.0,341.9 207.6,343.0 206.6,345.0 206.0,348.0 206.3,350.0 208.0,351.6 212.0,351.0 214.0,349.9 215.8,348.0 217.1,344.0 216.1,342.0 215.0,341.5 210.0,341.5M498.0,407.6 497.0,408.4 496.4,410.0 497.0,412.0 500.0,412.8 502.0,412.1 502.7,411.0 502.6,410.0 501.0,408.2 498.0,407.6M477.0,447.0 473.0,448.9 465.0,455.0 460.0,460.1 456.3,463.0 456.4,465.0 460.7,473.0 462.9,475.0 467.0,476.5 475.0,478.1 481.0,480.7 485.0,484.2 487.0,484.4 489.2,482.0 489.9,480.0 489.0,478.0 485.0,474.6 484.1,472.0 484.4,467.0 486.0,457.0 486.0,451.0 485.0,448.6 484.0,448.0 478.0,446.8M36.0,450.3 35.1,451.0 36.7,452.0 56.0,457.0 99.0,467.0 115.0,469.8 118.0,469.9 119.0,469.4 119.2,468.0 117.0,461.8 114.0,455.2 111.0,453.1 95.6,453.0 90.0,452.0 70.6,452.0 65.0,451.0 44.0,451.0 40.0,450.1 37.0,450.1M193.0,450.9 191.0,452.0 189.8,455.0 189.5,460.0 190.0,467.4 191.0,469.4 197.0,472.4 200.0,472.8 204.0,471.7 211.0,472.5 215.0,471.1 216.9,469.0 217.5,467.0 217.3,464.0 216.0,459.9 211.0,453.9 207.0,451.5 199.0,450.2 193.0,450.9M375.0,501.9 372.0,502.9 370.6,504.0 369.0,506.0 368.9,508.0 374.0,508.4 375.0,509.0 379.0,514.7 382.0,517.0 383.0,517.1 384.5,516.0 389.4,507.0 388.9,504.0 388.2,503.0 386.5,502.0 375.0,501.9M582.0,520.8 586.0,520.5 590.0,521.5 593.0,523.6 594.7,526.0 594.8,529.0 593.3,532.0 591.0,534.1 587.0,535.9 584.0,536.3 580.0,535.5 577.0,533.5 575.5,531.0 575.4,528.0 577.0,524.2 579.0,522.0 581.3,521.0M532.0,556.8 536.0,556.8 542.0,558.6 548.0,558.5 554.0,562.4 561.0,564.3 564.0,566.2 565.8,569.0 566.7,572.0 566.4,575.0 564.2,580.0 563.5,583.0 564.6,591.0 563.4,594.0 560.9,596.0 525.0,605.9 498.0,610.4 495.0,610.3 493.0,608.0 492.0,608.0 485.0,610.3 483.0,610.5 482.0,609.9 479.6,605.0 478.1,595.0 478.1,591.0 478.9,588.0 480.2,586.0 484.7,583.0 491.9,581.0 506.0,578.2 515.9,575.0 517.9,573.0 521.6,566.0 528.0,558.8 531.4,557.0" fill="none" stroke="#000" stroke-width="1.0"/>
<path d="M20.0,451.0 99.0,469.7 121.1,474.0 123.1,476.0 125.3,481.0 133.8,507.0 136.6,513.0 140.8,527.0 140.0,529.6 138.0,530.0 109.0,525.2 98.0,522.4 85.0,517.8 43.0,500.5 20.0,491.7M680.0,478.9 677.7,496.0 677.0,497.7 676.0,498.2 674.0,497.9 666.0,494.7 658.0,495.5 646.0,491.0 644.0,490.7 641.0,492.6 638.6,499.0 637.0,501.3 635.0,502.8 630.0,504.7 618.0,507.0 610.0,512.1 607.0,513.3 604.0,513.3 600.0,512.4 588.0,507.4 571.0,508.2 558.0,507.4 543.0,508.9 540.0,510.0 531.0,515.4 520.0,518.6 513.0,518.7 509.9,518.0 504.0,515.5 502.0,514.0 500.5,512.0 499.7,510.0 499.4,507.0 501.0,501.0 497.1,485.0 493.5,479.0 486.3,472.0 486.2,465.0 487.9,457.0 489.1,447.0 488.7,443.0 487.0,440.5 483.0,439.6 480.0,439.8 457.0,452.3 455.0,452.8 449.0,452.8 435.9,457.0 434.7,458.0 435.3,460.0 442.2,464.0 448.4,472.0 449.0,475.0 447.0,477.0 441.0,478.8 433.0,478.8 426.0,477.6 418.0,474.2 415.0,473.9 412.0,476.3 405.6,486.0 401.0,491.0 398.8,498.0 397.5,500.0 396.0,500.3 390.0,497.7 381.0,498.6 374.0,498.2 368.0,500.4 362.0,506.9 362.3,509.0 364.6,513.0 364.8,515.0 363.9,517.0 359.2,521.0 358.8,523.0 364.8,534.0 365.5,538.0 364.9,540.0 362.0,544.5 358.3,552.0 356.0,560.0 355.9,563.0 357.5,570.0 357.7,574.0 354.1,586.0 352.8,594.0 355.3,603.0 355.5,609.0 353.3,627.0 350.8,634.0 345.6,641.0 343.0,642.2 334.0,641.4 309.0,636.5 305.0,636.5 300.0,638.0 300.2,639.0 301.4,640.0 307.0,642.9 315.0,644.2 330.9,650.0M190.0,650.0 195.0,640.5 197.4,634.0 202.2,613.0 204.0,610.0 205.3,605.0 211.5,599.0 215.0,591.3 222.3,581.0 230.0,574.5 237.0,570.1 240.8,566.0 242.5,563.0 242.8,561.0 242.3,558.0 241.1,556.0 239.0,554.1 237.0,553.5 231.0,555.0 228.0,554.8 223.0,550.7 220.0,549.7 202.0,553.2 198.0,553.4 193.0,552.7 187.0,550.6 181.0,544.1 177.0,541.0 175.0,541.1 172.0,542.8 171.0,542.1 169.7,534.0 165.1,519.0 160.6,507.0 155.3,496.0 148.0,484.8 141.0,477.0 131.0,468.7 118.0,450.6 110.6,437.0 107.2,429.0 103.9,424.0 98.0,407.9 94.6,401.0 92.6,401.0 25.0,426.7 20.0,428.2M511.4,650.0 510.5,648.0 501.0,638.1 499.3,635.0 500.5,634.0 530.8,624.0 533.0,623.7 533.7,624.0 533.8,626.0 529.2,650.0M363.0,148.0 360.7,150.0 359.0,153.0 357.1,162.0 357.6,166.0 359.0,167.9 361.0,169.2 365.0,170.6 374.0,172.4 380.0,172.4 383.0,171.5 385.0,170.0 388.0,166.7 388.8,164.0 388.0,160.3 386.4,157.0 380.0,150.9 374.0,148.6 366.0,147.5 363.0,148.0M211.0,335.0 203.0,336.5 196.9,339.0 195.0,340.5 191.3,345.0 187.0,348.0 185.2,350.0 184.2,353.0 184.1,358.0 187.6,379.0 187.7,386.0 187.0,387.9 186.0,387.7 180.2,380.0 178.0,378.3 177.0,378.5 176.0,380.9 175.6,387.0 181.5,484.0 182.5,491.0 183.5,493.0 185.0,493.3 189.0,488.7 191.0,487.6 200.2,498.0 207.0,502.4 211.0,503.5 213.0,503.0 214.4,502.0 216.7,498.0 217.9,490.0 217.2,484.0 217.4,481.0 219.5,475.0 221.9,470.0 222.6,467.0 222.0,462.0 218.7,450.0 218.0,437.4 214.0,431.1 213.0,428.0 212.6,423.0 213.1,416.0 214.2,414.0 215.6,413.0 225.0,410.2 226.4,408.0 227.1,405.0 226.1,402.0 222.0,398.7 220.0,398.8 215.0,402.5 212.0,401.8 207.6,397.0 206.3,394.0 206.3,392.0 207.5,389.0 209.2,387.0 219.0,382.8 223.0,379.0 224.0,376.3 224.4,373.0 223.7,361.0 227.8,351.0 228.7,346.0 227.7,342.0 226.0,339.8 223.0,337.2 219.0,335.6 212.0,334.9M500.0,397.9 495.0,399.2 493.0,400.7 492.2,402.0 491.2,409.0 491.5,411.0 493.1,414.0 495.0,415.6 497.0,416.3 502.0,416.4 504.0,415.5 506.7,413.0 508.2,411.0 509.0,409.0 508.2,407.0 504.9,404.0 503.0,399.1 502.0,398.3 500.0,397.9M460.0,480.7 463.0,480.4 472.0,481.4 475.0,482.6 482.6,490.0 489.0,495.2 491.6,499.0 492.0,502.0 488.0,506.9 485.4,509.0 475.0,512.7 470.0,515.2 464.0,519.0 459.0,524.0 456.1,528.0 453.0,534.4 452.0,538.0 451.0,547.0 449.1,550.0 446.0,551.3 439.0,550.7 430.0,552.5 428.0,553.7 427.6,556.0 429.0,556.8 435.0,555.0 436.0,555.0 436.9,556.0 437.9,563.0 436.7,565.0 435.0,566.2 424.0,569.7 415.0,571.1 406.0,574.1 403.0,573.9 400.4,573.0 398.4,571.0 398.0,569.0 402.0,562.6 406.6,552.0 410.8,545.0 413.0,543.4 418.0,543.4 420.0,542.8 426.2,536.0 428.9,532.0 429.4,530.0 429.0,528.2 425.0,522.5 423.7,519.0 423.6,516.0 424.4,514.0 427.0,511.9 435.0,508.2 443.0,506.4 451.0,505.4 455.0,502.9 456.6,501.0 457.8,498.0 458.2,484.0 458.6,482.0 459.4,481.0M373.0,512.0 375.0,513.0 376.0,514.9 376.0,516.0 375.0,516.5 372.4,516.0 370.8,514.0 371.0,512.8 372.8,512.0M305.0,516.9 295.0,524.7 287.0,527.7 285.0,528.1 282.0,527.6 280.9,527.0 278.3,523.0 277.0,522.2 275.0,522.0 268.0,524.5 266.0,526.0 264.0,528.6 263.1,532.0 263.5,536.0 265.0,538.8 267.0,540.1 271.0,540.5 278.0,538.8 286.0,540.8 293.0,541.0 295.2,540.0 297.0,538.0 298.0,532.0 300.0,529.1 303.0,527.2 307.0,526.5 308.5,525.0 309.1,522.0 308.7,518.0 308.0,516.8 306.0,516.6M584.0,525.7 586.0,525.3 588.2,526.0 589.3,528.0 588.0,530.1 586.0,530.7 583.6,530.0 582.5,528.0 583.5,526.0M535.0,562.8 538.0,562.5 541.0,563.4 550.0,569.9 552.0,571.9 553.6,575.0 554.7,579.0 554.5,585.0 554.1,586.0 553.0,586.6 518.0,591.9 513.0,591.0 505.0,592.6 503.0,592.0 502.1,591.0 499.8,587.0 500.5,585.0 506.4,582.0 518.0,578.6 521.6,577.0 522.9,575.0 523.8,570.0 525.0,568.2 534.5,563.0M282.0,600.6 281.0,601.3 280.2,603.0 280.3,613.0 281.0,615.1 282.0,616.1 284.0,616.8 285.2,616.0 287.7,609.0 290.6,603.0 290.0,601.6 288.0,600.4 283.0,600.3" fill="none" stroke="#000" stroke-width="1.0"/>
<path d="M680.0,429.5 679.0,431.5 678.0,436.3 674.5,481.0 673.0,490.8 672.0,492.6 670.0,492.7 663.0,490.2 658.0,491.6 656.0,491.6 647.0,488.0 643.0,487.8 640.1,489.0 637.6,491.0 634.2,498.0 631.0,501.1 624.0,503.2 615.0,504.0 609.0,508.3 605.0,509.7 602.0,509.5 599.0,508.5 591.0,503.5 586.0,502.9 568.7,505.0 558.0,504.8 544.0,506.7 539.0,508.0 532.0,511.5 520.0,515.6 514.0,515.5 508.0,514.0 504.8,512.0 503.1,509.0 503.1,507.0 504.6,503.0 504.7,501.0 502.8,493.0 500.7,487.0 496.4,480.0 493.0,476.1 488.4,472.0 487.5,470.0 487.6,464.0 491.2,449.0 491.7,443.0 491.1,439.0 489.0,436.2 485.0,434.3 481.0,434.1 465.0,441.9 455.0,445.5 453.0,446.0 448.0,445.1 446.0,445.3 432.4,450.0 430.0,451.9 428.6,454.0 427.9,459.0 428.7,462.0 430.0,464.0 435.0,466.5 436.2,468.0 436.1,471.0 435.0,475.0 433.0,475.8 430.0,475.2 427.8,474.0 422.0,469.3 413.0,465.6 410.0,465.9 406.7,469.0 402.0,477.1 395.0,482.7 393.6,485.0 392.0,490.0 387.9,494.0 386.0,495.1 383.0,495.8 374.0,495.1 368.0,496.4 363.3,499.0 358.4,503.0 356.8,505.0 356.5,507.0 360.6,512.0 361.3,515.0 359.0,517.2 357.0,517.7 352.0,517.8 349.4,520.0 349.0,523.3 352.8,529.0 352.9,534.0 352.2,538.0 349.1,545.0 338.4,560.0 336.5,564.0 336.6,567.0 339.0,570.6 341.0,571.2 347.0,571.2 349.0,572.4 350.1,575.0 349.7,577.0 348.0,579.3 340.1,584.0 339.0,585.9 339.6,592.0 342.4,600.0 342.9,603.0 341.4,608.0 336.4,615.0 335.2,623.0 334.9,630.0 333.0,632.9 330.0,634.4 326.0,634.1 321.0,632.0 316.9,629.0 314.4,624.0 310.4,618.0 307.2,609.0 302.0,601.0 297.0,594.8 295.0,594.0 291.0,594.5 280.0,593.8 278.0,594.1 277.0,595.1 275.6,600.0 276.1,609.0 276.0,617.0 282.0,628.0 282.5,631.0 280.1,633.0 280.1,634.0 283.2,637.0 283.0,638.0 281.2,640.0 281.0,650.0M20.0,485.8 131.0,510.0 134.0,512.1 138.3,525.0 138.0,526.3 133.0,526.0 93.0,518.8 75.1,512.0 23.0,490.6 20.0,489.9M190.7,650.0 196.0,640.0 198.4,634.0 201.6,625.0 204.2,615.0 204.7,614.0 207.2,612.0 207.1,607.0 212.0,601.8 216.0,595.0 218.7,592.0 222.8,586.0 227.0,581.9 232.0,579.2 243.7,575.0 248.0,571.0 250.0,569.9 252.0,570.2 260.0,573.3 265.0,573.6 267.9,573.0 269.2,572.0 272.4,567.0 276.0,558.1 277.0,556.9 279.0,556.0 281.0,556.9 281.8,558.0 284.5,564.0 295.0,568.2 302.0,569.0 308.0,567.0 316.0,567.6 318.5,566.0 319.5,563.0 319.4,558.0 318.2,552.0 313.3,539.0 313.6,536.0 316.1,528.0 314.0,515.0 311.3,507.0 310.0,505.5 308.0,504.5 306.0,504.2 303.8,505.0 302.7,508.0 303.2,512.0 302.6,514.0 298.0,518.7 294.0,520.9 292.0,521.0 290.0,520.2 286.3,515.0 283.0,513.8 276.0,514.7 265.0,519.2 262.0,521.6 259.7,525.0 256.0,535.2 254.0,538.9 250.0,542.5 245.0,544.9 243.0,544.7 239.0,540.6 237.0,539.4 228.0,537.3 222.0,539.0 214.8,544.0 210.0,545.9 205.0,546.6 196.0,546.0 191.0,544.2 187.0,542.0 183.9,539.0 180.5,534.0 176.9,531.0 177.0,528.0 178.0,523.9 179.3,521.0 181.0,519.3 185.9,521.0 196.0,522.5 199.0,522.5 201.0,521.0 204.0,514.0 205.0,512.9 207.0,512.4 215.0,512.7 218.0,512.0 219.9,510.0 221.0,507.2 222.6,500.0 223.2,492.0 222.9,489.0 220.4,483.0 220.4,481.0 221.9,476.0 225.9,470.0 226.6,467.0 224.3,453.0 223.8,446.0 223.9,434.0 223.0,431.2 220.0,426.0 220.0,422.0 221.4,420.0 224.0,418.7 232.0,420.4 242.0,416.8 248.9,412.0 251.4,409.0 252.1,407.0 251.8,406.0 250.0,405.1 240.0,404.5 234.0,403.0 228.1,397.0 226.1,393.0 227.7,388.0 232.8,381.0 233.4,378.0 233.5,370.0 234.1,366.0 240.8,353.0 241.5,342.0 241.0,339.2 240.0,337.5 235.0,333.6 225.0,329.3 207.0,328.8 194.0,326.6 186.0,328.7 177.0,335.5 172.4,338.0 170.7,341.0 170.0,347.4 169.0,347.2 164.0,340.1 162.8,340.0 161.5,362.0 154.7,447.0 154.0,452.0 153.0,452.8 149.0,449.8 132.0,431.7 130.0,431.4 126.5,434.0 124.0,434.6 122.0,434.0 119.0,431.6 114.0,424.9 102.0,403.0 98.0,397.7 95.0,397.6 92.0,398.3 20.0,425.4M312.8,650.0 312.8,647.0 314.0,646.7 319.2,648.0 321.1,649.0 321.5,650.0M364.0,93.9 362.7,95.0 362.8,97.0 367.0,108.0 368.6,110.0 372.0,112.1 374.6,115.0 377.0,118.6 378.8,123.0 381.2,131.0 381.9,135.0 381.3,138.0 379.8,140.0 376.0,141.9 371.0,143.0 362.0,142.5 354.0,146.6 349.0,147.8 345.0,146.9 338.0,140.1 334.0,138.0 324.0,137.6 318.0,138.8 312.0,137.2 309.0,137.3 304.0,139.1 301.5,142.0 300.0,151.0 300.0,154.0 302.4,163.0 302.7,169.0 304.0,172.6 307.0,176.5 321.8,189.0 324.0,190.3 327.0,190.4 331.0,188.5 338.0,183.3 342.0,181.7 348.0,180.7 367.0,179.2 378.8,176.0 385.0,174.9 388.0,173.7 392.0,170.0 395.0,164.4 401.0,157.1 412.5,135.0 413.2,132.0 412.5,128.0 407.9,119.0 406.0,112.6 404.0,109.1 401.0,107.7 396.0,108.3 394.0,107.9 392.0,106.4 389.0,101.6 387.3,100.0 385.0,99.5 379.0,99.6 372.0,94.4 369.0,93.6 365.0,93.6M107.0,148.9 105.0,151.0 103.6,154.0 102.1,162.0 102.2,164.0 103.7,167.0 105.0,168.2 107.0,168.8 110.0,168.4 112.1,167.0 113.6,164.0 114.0,161.0 113.2,156.0 111.6,151.0 110.0,149.0 107.0,148.9M503.0,313.8 501.8,315.0 501.9,316.0 504.2,320.0 508.0,322.6 512.0,323.2 513.9,322.0 514.5,320.0 514.3,316.0 513.2,314.0 511.0,313.5 504.0,313.5M276.0,323.0 272.0,323.9 268.0,325.7 262.1,330.0 260.3,332.0 260.1,333.0 260.9,335.0 263.5,338.0 267.0,340.3 270.0,340.8 273.0,340.5 276.0,339.1 278.0,337.2 279.3,335.0 280.3,331.0 280.0,326.2 279.0,323.9 277.0,323.0M323.0,383.0 319.7,384.0 319.3,386.0 319.8,390.0 320.7,392.0 323.9,395.0 324.8,398.0 326.0,398.9 334.0,399.2 334.8,395.0 339.6,391.0 340.3,389.0 337.2,386.0 332.0,383.1 328.0,382.5 323.0,383.0M505.0,384.5 502.4,387.0 500.0,388.3 497.0,388.9 492.0,387.9 490.0,389.3 488.0,392.3 484.9,399.0 483.1,407.0 483.3,409.0 484.7,412.0 491.0,418.8 497.0,420.9 505.0,421.4 507.7,416.0 515.6,408.0 516.3,402.0 516.0,399.3 514.4,395.0 513.7,389.0 512.0,387.1 508.0,384.4 506.0,384.0 505.0,384.5M464.0,485.0 469.1,485.0 473.3,486.0 477.7,491.0 485.2,497.0 486.7,499.0 487.1,501.0 485.7,503.0 482.0,505.8 469.0,512.4 459.8,518.0 453.2,527.0 450.3,532.0 448.9,536.0 448.2,544.0 447.4,546.0 445.7,548.0 443.9,549.0 439.0,549.4 429.0,551.3 426.1,553.0 424.8,557.0 425.0,559.2 432.0,558.2 433.0,558.4 434.3,560.0 434.6,563.0 433.7,564.0 431.4,565.0 421.0,566.7 413.0,566.8 409.4,566.0 408.0,564.4 407.6,562.0 408.1,557.0 409.4,552.0 413.0,545.9 415.0,544.9 420.0,544.2 427.5,536.0 431.3,531.0 432.2,528.0 428.0,520.0 428.1,517.0 430.0,515.3 433.0,513.9 436.0,512.9 440.0,513.0 445.0,509.5 452.0,508.1 456.0,505.5 458.3,503.0 460.0,500.0 461.1,488.0 462.0,486.0 463.8,485.0" fill="none" stroke="#000" stroke-width="1.0"/>
<path d="M680.0,390.9 679.0,392.4 677.0,397.9 675.5,406.0 671.1,468.0 668.7,484.0 667.7,487.0 666.0,487.6 660.0,486.2 657.0,487.7 655.0,487.9 647.0,485.4 643.0,485.7 637.4,488.0 634.3,490.0 632.7,492.0 629.4,498.0 627.0,499.7 624.0,500.6 621.0,500.8 613.0,499.3 607.0,501.0 601.0,501.1 591.0,498.2 587.0,498.2 574.0,501.1 565.0,502.2 558.0,502.3 543.0,505.1 535.5,507.0 521.0,512.5 517.0,512.7 509.0,510.8 506.7,509.0 506.2,507.0 507.7,501.0 504.4,490.0 498.9,481.0 494.0,475.1 490.0,471.3 489.0,469.6 488.8,464.0 493.2,450.0 494.4,442.0 493.8,436.0 492.1,431.0 492.1,429.0 493.4,427.0 496.0,425.8 499.0,425.7 504.0,427.2 506.0,427.0 507.5,426.0 508.7,424.0 508.9,419.0 509.6,417.0 514.0,412.4 518.3,409.0 519.6,396.0 520.9,393.0 523.0,391.4 529.0,389.8 532.9,388.0 535.9,386.0 536.4,385.0 536.3,384.0 525.0,375.1 522.0,373.7 517.0,374.9 507.0,375.3 501.0,374.6 494.0,375.5 484.0,375.3 482.0,375.7 481.0,376.6 480.8,378.0 483.1,385.0 483.3,389.0 476.7,408.0 477.1,411.0 480.7,419.0 479.8,424.0 478.0,427.0 473.7,430.0 460.0,436.8 453.0,438.7 442.0,439.7 438.0,441.2 434.0,443.5 429.0,446.9 425.8,450.0 424.4,453.0 423.0,459.3 422.0,461.0 420.0,461.7 418.0,461.6 413.0,459.0 411.0,458.8 408.0,459.8 402.9,464.0 398.0,470.3 392.1,475.0 389.5,478.0 387.7,482.0 387.3,489.0 385.0,492.0 382.0,492.6 374.0,491.8 369.0,492.6 363.0,495.2 354.6,501.0 351.3,504.0 350.6,506.0 355.1,512.0 354.0,512.4 348.0,510.8 342.0,515.6 338.1,518.0 338.0,520.0 340.3,527.0 340.0,534.8 339.0,537.0 337.0,539.0 335.0,540.0 332.0,540.4 327.0,539.4 324.4,537.0 323.7,534.0 324.1,528.0 323.3,525.0 316.3,508.0 314.3,505.0 312.0,503.0 307.0,502.0 303.0,502.5 301.0,505.0 299.0,511.5 298.0,512.8 296.0,513.5 294.0,512.8 290.0,507.6 287.0,505.8 283.0,505.8 269.0,509.6 264.0,509.9 261.0,508.9 252.0,503.2 246.0,501.5 244.0,502.3 242.3,508.0 240.0,510.6 236.0,512.4 232.0,512.5 230.0,511.2 228.8,508.0 229.3,499.0 228.7,492.0 223.2,482.0 223.2,480.0 224.1,477.0 229.3,471.0 230.5,468.0 228.0,444.0 228.8,432.0 230.1,428.0 232.2,426.0 235.6,424.0 248.4,418.0 260.0,409.3 262.0,409.1 270.0,414.1 272.0,414.5 275.0,412.9 277.0,409.0 276.6,407.0 275.8,406.0 267.9,400.0 266.0,394.9 264.0,393.1 259.0,393.6 250.0,397.2 246.0,398.2 240.5,398.0 237.6,396.0 237.3,393.0 242.0,383.9 243.5,375.0 250.0,363.3 254.0,358.4 257.0,355.8 260.0,354.6 262.0,354.9 264.2,358.0 266.5,368.0 271.4,375.0 274.2,381.0 278.4,383.0 287.0,385.5 289.0,385.5 291.0,384.0 291.5,382.0 291.5,377.0 294.6,372.0 296.2,367.0 295.9,361.0 294.5,353.0 295.7,340.0 291.0,327.0 289.8,319.0 288.0,315.9 285.0,313.5 280.0,312.4 274.0,312.2 270.0,313.6 260.0,319.0 253.0,319.0 242.0,315.8 234.0,315.0 225.4,310.0 216.0,306.0 212.0,305.0 207.0,304.7 200.0,306.4 194.6,309.0 183.0,320.2 179.0,321.6 170.0,323.3 163.0,327.6 161.0,327.6 155.0,325.6 145.0,324.8 136.0,325.3 127.6,327.0 123.4,329.0 122.3,331.0 118.4,376.0 118.0,376.9 117.0,377.2 113.0,375.1 112.1,376.0 111.0,390.3 110.0,393.8 109.0,394.8 108.0,394.8 106.0,393.5 103.0,389.9 90.0,367.1 87.0,363.6 78.0,368.0 25.0,400.4 20.0,402.6M191.4,650.0 206.0,620.8 207.8,616.0 210.4,614.0 210.9,613.0 209.1,609.0 209.7,607.0 213.0,603.3 217.0,597.1 221.1,594.0 226.0,587.8 230.0,585.1 234.0,583.8 237.0,584.4 243.0,587.2 249.0,587.8 250.3,589.0 251.6,592.0 253.0,592.5 255.0,592.0 261.0,588.8 266.0,588.6 267.6,589.0 268.6,590.0 269.2,597.0 271.7,603.0 272.5,607.0 272.5,612.0 271.5,619.0 272.7,627.0 270.5,634.0 268.7,637.0 267.6,640.0 266.5,644.0 265.9,650.0M59.0,25.0 61.5,42.0 69.2,84.0 78.0,136.2 79.0,136.6 83.3,135.0 98.0,126.5 103.7,124.0 131.6,108.0 132.7,107.0 132.8,106.0 92.1,65.0 63.0,28.3 60.0,25.3 59.0,25.0M378.0,81.7 376.6,83.0 375.1,87.0 374.0,87.8 365.0,88.9 359.4,91.0 357.0,93.7 355.9,97.0 357.7,114.0 359.0,115.5 364.0,116.8 366.0,118.2 368.9,122.0 370.7,126.0 371.0,131.0 370.0,133.2 368.0,135.1 366.0,136.0 355.0,137.9 351.0,136.4 347.0,132.7 344.6,128.0 344.3,125.0 344.7,123.0 346.7,121.0 352.7,118.0 354.3,116.0 353.8,114.0 350.4,109.0 349.0,107.8 347.0,107.4 342.0,108.5 337.0,110.9 327.0,119.9 317.3,121.0 308.0,125.1 305.4,127.0 301.9,131.0 296.0,134.6 295.2,136.0 295.2,139.0 296.5,149.0 294.1,167.0 294.1,172.0 296.1,179.0 300.5,189.0 302.9,193.0 305.9,196.0 315.0,201.7 327.0,206.8 333.0,207.8 341.0,206.2 347.0,206.2 352.0,204.0 359.7,199.0 368.7,189.0 379.4,181.0 383.1,179.0 391.0,177.0 395.0,174.0 398.0,170.2 408.1,154.0 416.7,137.0 417.0,130.0 415.7,123.0 413.2,115.0 412.4,108.0 413.2,103.0 412.2,100.0 410.0,97.7 405.0,94.9 401.3,92.0 400.0,90.1 398.6,86.0 396.4,84.0 388.9,82.0 379.0,81.4M123.0,133.0 109.0,137.2 89.9,145.0 83.8,149.0 82.2,151.0 82.1,152.0 84.0,154.4 89.1,157.0 92.5,161.0 96.0,170.0 96.8,179.0 97.9,181.0 100.0,182.8 103.0,184.1 107.0,184.9 119.0,184.4 128.0,186.6 134.0,186.0 141.0,184.3 143.1,183.0 146.5,177.0 151.6,172.0 154.0,165.7 155.6,163.0 155.4,162.0 152.8,159.0 150.0,157.2 139.0,152.8 135.0,150.4 133.1,148.0 130.4,143.0 128.5,134.0 127.0,132.7 124.0,132.7M168.0,164.8 167.8,167.0 168.7,172.0 169.1,178.0 170.4,182.0 172.0,183.6 174.0,184.4 177.0,184.7 179.0,184.3 180.9,183.0 181.5,181.0 181.3,178.0 179.7,173.0 181.0,169.0 180.6,167.0 179.0,165.9 174.0,165.7 169.0,164.5M410.0,191.8 408.0,194.0 408.0,197.3 410.0,198.3 415.0,197.7 416.9,197.0 416.8,195.0 414.0,192.2 411.0,191.6M318.0,241.9 315.5,244.0 309.7,251.0 309.6,253.0 312.0,255.0 317.0,257.0 326.0,256.5 330.0,255.3 334.5,252.0 335.5,250.0 335.0,248.0 324.0,241.8 321.0,241.1 319.0,241.5M485.0,303.0 477.0,305.4 474.7,307.0 473.8,309.0 474.7,312.0 477.0,315.7 487.2,326.0 490.3,331.0 490.5,333.0 490.0,335.0 489.0,336.0 482.3,339.0 480.0,341.2 478.2,344.0 477.9,346.0 479.0,347.2 485.0,347.5 487.3,347.0 492.0,343.6 494.0,342.8 499.0,342.7 505.0,344.3 508.0,343.0 509.0,341.8 509.3,340.0 506.5,336.0 506.1,334.0 506.6,331.0 508.0,329.6 514.0,328.0 517.0,325.7 518.5,322.0 519.9,314.0 519.4,310.0 518.0,308.6 516.0,308.4 510.0,310.0 505.7,310.0 502.0,309.0 491.0,303.3 488.0,302.8 485.0,303.0M329.0,377.9 323.0,380.3 315.8,381.0 313.7,382.0 313.3,383.0 315.4,393.0 317.3,398.0 317.9,403.0 319.0,404.8 321.0,405.5 328.0,405.4 339.0,407.3 342.0,407.0 343.8,405.0 347.0,399.2 349.3,389.0 350.0,387.9 353.3,386.0 354.3,381.0 354.0,379.0 353.0,378.1 352.0,378.1 345.0,382.2 342.0,382.3 331.0,378.1 329.0,377.9M465.0,489.9 468.0,489.3 473.0,491.0 481.0,498.0 481.9,500.0 481.7,501.0 479.8,503.0 476.7,505.0 469.0,508.5 457.0,514.9 455.0,516.5 451.0,524.0 445.3,532.0 444.5,544.0 442.7,547.0 436.0,548.9 428.0,550.3 425.0,551.6 423.3,554.0 421.0,560.8 420.0,562.1 419.0,562.5 416.0,562.0 413.0,559.6 411.9,556.0 412.5,552.0 415.0,547.7 416.0,546.9 420.0,545.8 433.0,531.0 435.3,527.0 435.2,522.0 436.0,521.2 439.0,521.3 441.0,520.7 447.0,513.5 454.0,510.9 459.0,506.8 462.5,501.0 463.7,492.0 464.8,490.0M429.0,560.8 430.5,561.0 430.0,562.1 428.0,562.4 427.3,562.0 428.4,561.0M281.0,579.9 289.0,580.2 293.1,582.0 293.5,583.0 292.9,585.0 291.0,587.0 289.0,588.0 284.0,588.2 282.0,587.5 280.0,586.0 278.8,584.0 278.5,582.0 279.0,581.0 280.8,580.0M319.0,583.0 324.0,582.7 327.0,584.2 328.3,587.0 328.9,591.0 328.6,593.0 327.4,594.0 318.0,592.3 315.6,591.0 315.1,589.0 315.6,586.0 316.9,584.0 318.9,583.0" fill="none" stroke="#000" stroke-width="1.0"/>
<path d="M20.0,181.6 29.0,179.3 31.0,179.3 40.0,183.3 43.0,183.8 56.0,181.9 64.0,182.5 71.0,181.8 79.0,182.0 88.0,180.6 89.0,181.3 90.9,185.0 93.0,187.2 97.0,190.1 101.0,191.7 106.0,192.1 120.0,191.9 128.0,193.0 144.0,191.6 151.0,193.0 159.0,196.0 164.0,196.5 169.0,195.5 179.0,189.6 182.0,189.4 186.0,190.5 189.0,189.5 190.9,187.0 193.3,178.0 192.7,176.0 187.5,170.0 185.1,164.0 184.0,162.6 177.0,159.9 175.0,158.0 173.0,155.0 164.0,153.4 161.0,149.8 156.0,148.9 151.4,147.0 146.0,144.0 142.0,140.7 140.5,139.0 140.3,134.0 138.6,131.0 138.4,124.0 136.0,122.3 133.0,122.5 126.0,124.6 84.0,141.0 75.0,144.0 72.7,144.0 74.2,142.0 79.0,139.9 98.7,128.0 132.0,109.1 134.0,107.1 134.0,106.0 132.0,103.4 92.6,64.0 64.0,27.8 60.0,23.0 55.7,19.0 44.2,0.0M680.0,352.5 679.0,354.0 677.0,359.6 674.0,376.6 672.0,398.7 668.1,462.0 667.2,467.0 665.2,472.0 663.7,481.0 663.0,482.4 662.0,482.9 657.0,482.6 654.0,484.4 648.0,483.2 644.0,483.4 630.2,489.0 628.4,491.0 626.3,496.0 624.0,497.4 621.0,497.3 616.7,496.0 614.0,492.7 608.0,488.8 606.0,488.2 587.0,492.2 573.0,497.7 556.0,500.2 533.0,505.5 520.0,509.7 514.0,508.7 510.1,507.0 509.7,505.0 510.5,501.0 507.0,491.0 499.9,480.0 490.9,470.0 489.9,466.0 490.4,463.0 495.4,450.0 497.0,442.0 497.0,436.0 498.0,431.9 500.0,430.3 506.0,429.9 509.0,427.9 510.7,424.0 511.2,418.0 514.6,414.0 519.9,410.0 520.5,409.0 521.4,401.0 523.1,397.0 526.0,394.8 531.2,393.0 538.0,389.6 540.0,388.0 541.0,386.0 541.0,383.0 540.0,381.0 529.1,372.0 528.0,370.0 526.9,365.0 526.0,364.2 525.0,364.1 521.0,365.8 515.0,369.9 509.0,371.5 506.0,371.1 499.0,368.3 496.0,367.6 489.0,367.3 485.0,367.8 479.0,366.0 475.0,367.9 471.5,372.0 471.0,374.0 478.4,384.0 479.5,387.0 479.5,390.0 477.8,396.0 474.1,402.0 469.8,411.0 469.2,414.0 469.8,419.0 469.0,421.2 465.0,424.4 457.0,428.0 454.0,428.7 449.0,428.1 443.0,430.0 438.0,433.6 432.0,439.5 423.0,446.3 419.0,450.4 415.0,450.9 406.0,453.3 404.0,454.8 401.3,459.0 398.0,461.6 395.0,462.8 391.0,463.1 389.4,464.0 381.7,477.0 381.5,480.0 382.9,485.0 382.0,487.3 380.0,487.8 372.0,486.9 369.0,487.4 354.0,495.4 351.0,496.3 345.0,497.0 335.0,503.5 330.0,503.9 325.0,505.8 323.0,505.3 312.0,497.3 309.0,496.5 297.0,503.4 295.0,503.0 291.0,500.2 287.0,499.6 282.0,500.1 273.0,502.5 267.0,502.4 262.0,500.4 253.0,494.2 246.0,490.4 242.0,489.6 236.0,490.6 234.0,490.1 231.0,488.0 227.0,483.0 226.3,480.0 228.0,476.5 233.9,471.0 235.5,467.0 235.4,462.0 233.1,452.0 231.8,443.0 232.4,435.0 234.4,430.0 237.0,427.2 241.0,424.6 259.0,417.1 262.0,417.0 267.0,419.3 270.0,419.9 273.0,419.3 276.0,417.7 279.0,413.4 280.7,407.0 279.4,404.0 274.8,399.0 273.5,391.0 273.9,388.0 277.0,387.7 287.0,390.4 290.0,390.5 294.0,388.9 296.7,385.0 298.1,373.0 299.4,370.0 302.8,365.0 303.8,362.0 303.0,356.0 300.7,351.0 300.3,348.0 301.0,342.9 304.5,337.0 305.4,334.0 305.2,328.0 301.8,317.0 302.3,314.0 306.1,306.0 307.0,303.0 306.9,301.0 305.0,299.5 300.8,300.0 292.0,304.8 269.0,305.6 260.0,307.5 255.0,307.8 235.0,305.9 229.0,304.3 218.0,300.0 205.0,298.7 196.4,301.0 186.0,304.9 169.0,315.1 163.0,315.0 158.0,317.7 155.0,318.0 152.0,317.4 148.0,315.4 129.0,301.2 124.0,298.0 122.0,297.3 120.9,298.0 120.1,305.0 118.9,307.0 116.0,307.4 99.0,307.2 95.7,308.0 93.4,310.0 92.2,313.0 91.8,317.0 93.5,340.0 93.4,344.0 92.8,346.0 92.0,346.3 91.0,345.7 88.0,342.7 75.0,325.6 74.0,324.5 73.6,325.0 74.0,330.4 75.0,334.6 83.2,360.0 83.4,362.0 83.0,363.0 80.0,365.3 34.0,393.3 23.0,399.8 20.0,401.0M192.2,650.0 205.4,625.0 209.0,617.0 211.0,616.1 214.5,616.0 214.3,614.0 211.8,610.0 212.0,607.8 218.1,599.0 223.0,595.9 229.0,590.4 233.0,588.8 236.0,589.4 239.0,591.4 248.0,601.2 251.0,601.8 260.0,599.7 262.0,599.7 265.0,601.2 267.8,605.0 268.4,609.0 267.9,613.0 264.0,622.8 260.6,628.0 259.9,630.0 259.4,650.0M463.0,68.8 461.8,71.0 459.8,79.0 459.2,94.0 459.6,97.0 461.0,100.0 464.3,103.0 470.0,104.8 474.0,104.6 475.7,103.0 475.9,101.0 475.2,99.0 471.5,94.0 470.7,92.0 470.7,90.0 473.0,84.7 479.4,79.0 480.0,75.9 479.0,74.0 473.0,69.6 470.0,68.5 464.0,68.3M377.0,77.0 374.0,78.9 371.4,83.0 370.0,84.3 360.0,87.8 357.0,89.8 353.9,94.0 350.9,100.0 348.6,102.0 334.0,108.0 328.8,111.0 325.0,114.2 323.0,114.8 313.0,115.5 304.0,117.7 294.0,122.8 289.0,123.1 287.0,123.8 284.0,126.0 283.1,128.0 283.0,132.0 284.0,136.1 286.0,141.4 290.0,148.0 290.6,150.0 289.3,158.0 286.8,166.0 286.5,172.0 289.8,193.0 292.0,199.0 295.9,204.0 300.5,207.0 330.0,220.3 335.0,221.8 339.0,222.0 344.0,220.1 362.0,209.2 368.0,203.3 378.6,190.0 384.0,185.4 388.0,184.1 389.3,185.0 391.0,189.2 392.0,190.2 394.0,190.0 395.4,189.0 397.2,186.0 397.0,181.0 399.8,177.0 404.2,172.0 407.7,162.0 416.9,147.0 420.4,140.0 420.6,133.0 417.8,114.0 417.8,106.0 417.0,102.0 415.5,99.0 405.3,88.0 402.0,82.6 400.0,80.8 397.0,79.8 378.0,76.9M224.0,181.0 220.0,181.9 218.6,183.0 218.1,187.0 218.7,189.0 221.0,191.2 229.0,196.3 232.0,197.6 235.0,197.9 241.0,195.8 243.2,194.0 244.8,189.0 244.7,186.0 244.0,184.3 243.0,183.3 241.0,182.7 225.0,180.9M411.0,187.9 405.0,189.8 403.3,192.0 403.0,201.3 404.0,202.7 406.0,203.0 417.0,201.3 419.0,200.1 420.0,198.5 421.2,193.0 420.0,190.1 417.0,188.3 412.0,187.8M322.0,232.0 311.0,236.0 305.6,240.0 300.0,240.7 297.0,242.4 294.4,245.0 291.5,251.0 286.9,257.0 286.0,259.0 286.7,261.0 289.0,263.0 293.0,264.8 296.0,265.2 300.0,263.9 304.0,259.8 315.0,260.7 323.0,259.6 328.0,259.6 333.0,258.0 340.0,254.2 343.5,250.0 344.5,247.0 344.3,242.0 342.0,236.9 339.0,234.3 333.0,231.6 328.0,231.1 322.0,232.0M488.0,298.0 478.0,299.7 466.0,303.7 462.4,306.0 460.1,310.0 460.0,311.3 461.0,312.4 468.0,313.5 470.4,315.0 474.6,321.0 479.3,326.0 480.8,329.0 481.0,331.0 480.0,331.5 478.0,331.2 471.7,327.0 469.0,325.8 461.0,325.1 458.0,325.8 457.0,326.7 455.4,332.0 455.4,334.0 455.9,335.0 457.4,336.0 461.0,336.5 469.0,336.3 474.0,338.1 474.7,340.0 473.5,343.0 471.0,347.1 466.1,352.0 465.5,354.0 469.0,355.3 478.0,356.3 483.0,354.5 488.0,354.0 498.0,348.2 501.0,348.6 505.0,350.8 508.0,350.5 513.0,347.1 517.0,342.8 521.0,341.4 523.0,340.1 524.8,338.0 525.5,336.0 525.5,333.0 523.0,328.0 522.6,326.0 523.5,324.0 527.9,319.0 528.3,317.0 525.7,308.0 524.0,304.9 521.0,302.9 518.0,302.1 515.0,302.2 510.0,303.7 508.0,303.6 499.0,301.5 493.0,298.6 489.0,297.9M328.0,373.0 326.0,374.1 322.0,378.0 309.9,381.0 306.8,382.0 306.3,383.0 309.4,387.0 312.9,399.0 314.8,408.0 317.0,411.3 319.0,411.7 327.0,410.8 338.0,413.2 341.0,413.1 343.0,412.5 345.5,410.0 348.9,402.0 350.0,393.0 351.0,390.9 352.0,390.8 353.0,391.7 355.0,397.4 356.0,398.1 358.2,395.0 359.3,392.0 357.2,385.0 357.4,382.0 359.0,376.0 358.2,374.0 354.0,373.8 347.0,377.0 343.0,377.8 339.3,377.0 331.0,372.9 328.0,373.0M468.0,495.4 471.0,495.5 473.3,497.0 475.1,499.0 475.0,501.0 472.1,503.0 466.0,504.8 465.6,503.0 467.4,496.0M438.0,528.9 439.1,529.0 439.7,531.0 439.7,543.0 439.0,546.0 437.6,547.0 427.0,549.2 423.0,550.6 421.5,552.0 420.0,554.9 419.0,555.7 417.2,555.0 416.5,553.0 417.4,550.0 421.0,547.0 424.4,542.0 434.0,532.0 437.8,529.0" fill="none" stroke="#000" stroke-width="1.0"/>
<path d="M513.9,0.0 505.0,23.0 501.7,35.0 501.3,39.0 503.4,41.0 540.6,61.0 545.0,62.3 547.6,62.0 551.0,60.6 562.0,52.0 568.0,45.0 581.0,31.9 597.0,7.7 601.5,0.0M20.0,193.6 27.1,195.0 30.2,197.0 36.0,195.9 41.0,197.5 47.0,197.1 55.0,198.0 61.0,200.0 63.6,199.0 67.0,194.9 69.0,193.4 75.0,192.0 77.0,192.5 78.0,196.0 79.9,198.0 85.0,200.2 86.3,200.0 89.0,197.9 90.0,197.9 99.0,199.7 108.0,200.0 124.0,199.0 133.0,199.8 149.0,200.1 161.0,201.9 167.0,202.2 176.0,201.6 179.0,200.5 182.0,198.6 191.9,202.0 198.0,202.2 201.0,200.6 206.0,195.2 210.0,194.5 215.0,196.5 232.0,207.9 235.0,208.4 241.0,207.8 243.0,208.2 244.7,211.0 248.6,224.0 250.0,227.0 252.9,229.0 257.0,229.9 259.0,229.8 261.0,229.1 265.0,225.9 273.2,214.0 274.4,211.0 273.8,207.0 270.0,204.0 267.0,203.0 255.0,200.7 251.4,199.0 250.9,197.0 252.9,189.0 253.3,184.0 252.2,180.0 250.2,178.0 247.0,177.4 239.0,177.4 219.0,174.8 213.5,175.0 208.0,176.5 206.0,176.5 199.0,174.8 193.0,171.8 189.6,168.0 187.0,160.7 181.9,158.0 179.0,155.0 177.9,153.0 177.1,149.0 176.3,148.0 170.0,147.0 168.0,143.0 167.0,142.2 162.0,141.9 159.1,141.0 150.0,134.7 149.4,133.0 149.8,129.0 147.2,126.0 146.5,124.0 147.7,116.0 146.0,114.0 143.0,112.9 140.0,113.1 117.0,121.9 115.0,122.3 114.2,122.0 117.7,119.0 133.0,109.9 134.9,108.0 135.0,106.0 132.6,103.0 93.6,64.0 64.3,27.0 57.2,19.0 45.5,0.0M680.0,314.2 678.0,318.7 676.0,327.6 672.5,355.0 670.2,382.0 665.4,456.0 664.3,461.0 660.8,470.0 659.0,478.5 655.0,479.1 652.0,481.2 645.0,481.0 640.0,483.4 633.0,485.4 623.0,486.8 620.0,486.5 616.0,485.3 614.0,483.9 608.0,473.9 604.0,469.4 599.0,467.2 594.0,464.2 590.0,464.1 586.0,465.3 583.8,467.0 582.7,470.0 581.0,485.0 576.8,490.0 573.1,493.0 568.2,495.0 557.0,497.2 544.9,501.0 530.0,503.6 521.0,506.4 517.0,506.0 514.0,504.5 513.2,500.0 509.8,492.0 501.8,480.0 492.2,469.0 491.2,466.0 491.8,463.0 497.3,451.0 499.4,443.0 499.8,437.0 501.0,434.2 502.8,433.0 508.0,431.7 510.0,429.8 512.3,425.0 512.4,420.0 513.0,418.0 516.0,414.6 521.6,410.0 523.9,402.0 525.0,400.0 528.0,397.8 539.0,393.0 542.0,389.6 543.6,386.0 543.7,383.0 542.8,380.0 536.2,372.0 535.0,361.7 534.0,358.5 532.0,356.3 525.0,352.2 523.6,350.0 523.5,346.0 527.0,339.0 527.7,336.0 527.6,333.0 526.1,327.0 532.0,319.0 532.5,315.0 530.9,309.0 528.4,304.0 524.0,299.7 519.0,297.5 514.0,297.1 503.0,297.7 499.0,296.8 493.0,294.3 488.0,294.4 480.0,295.8 458.7,301.0 453.5,303.0 450.8,305.0 449.4,307.0 448.5,310.0 448.9,315.0 450.0,320.0 444.2,335.0 444.0,339.4 446.0,341.9 448.0,342.7 461.0,341.9 464.0,342.6 465.4,344.0 464.9,346.0 463.1,348.0 454.0,354.2 451.2,357.0 450.4,359.0 450.7,367.0 451.6,369.0 452.8,370.0 457.0,371.7 461.2,375.0 471.0,379.7 474.2,383.0 476.1,387.0 476.1,390.0 475.0,393.7 470.9,399.0 466.0,407.3 461.0,413.0 459.0,413.9 457.0,413.7 452.0,410.7 447.0,404.8 444.0,402.1 441.0,400.8 439.0,401.4 437.0,404.0 435.9,407.0 434.9,419.0 431.9,426.0 429.5,435.0 427.0,438.0 422.0,440.8 415.0,443.0 404.0,442.7 398.0,443.8 383.0,451.8 381.0,452.4 371.0,453.6 368.2,453.0 362.0,450.1 359.0,450.3 357.0,451.0 355.0,452.7 353.8,455.0 352.4,461.0 352.3,464.0 353.5,466.0 360.3,472.0 362.0,476.0 361.6,478.0 349.0,483.6 344.0,484.0 336.0,489.0 324.0,492.4 322.0,492.6 320.0,492.0 313.0,487.1 311.0,486.3 308.0,486.2 303.9,488.0 302.7,490.0 301.4,495.0 300.0,496.5 298.0,496.4 296.0,494.3 294.0,493.6 276.0,497.3 270.0,497.4 266.0,496.3 263.0,494.7 252.0,485.7 248.0,483.0 244.0,482.1 236.0,482.6 234.0,481.9 232.6,480.0 234.0,477.6 240.4,474.0 243.7,465.0 244.3,462.0 243.8,459.0 239.0,452.6 235.4,444.0 235.4,438.0 237.3,432.0 239.8,429.0 242.6,427.0 246.0,425.4 251.0,423.9 260.0,422.2 268.0,424.6 271.0,424.9 275.0,423.9 278.0,422.2 281.0,417.5 283.8,408.0 283.9,405.0 281.8,397.0 282.0,395.0 283.0,394.3 288.0,394.5 294.0,393.1 296.2,392.0 300.0,388.4 302.0,388.3 304.7,390.0 306.0,391.5 309.7,401.0 311.3,410.0 311.1,413.0 309.8,416.0 310.4,417.0 314.0,418.8 316.0,419.2 323.0,416.6 329.0,416.5 340.0,419.2 344.0,419.6 347.0,418.4 349.6,414.0 351.3,401.0 350.9,395.0 352.0,393.5 353.1,395.0 353.4,400.0 354.0,401.3 356.0,401.6 359.0,399.1 361.0,398.9 365.8,402.0 367.6,404.0 368.2,406.0 367.8,408.0 364.2,414.0 363.5,417.0 367.4,428.0 369.0,429.0 371.0,429.0 375.0,427.0 376.4,425.0 376.2,421.0 372.6,408.0 373.4,405.0 376.0,400.0 375.8,398.0 374.9,397.0 368.0,394.4 364.0,392.1 361.9,390.0 360.6,387.0 360.5,384.0 361.4,381.0 364.0,377.3 368.9,373.0 370.1,371.0 369.5,369.0 368.0,367.7 365.0,366.9 360.0,369.7 348.0,373.1 341.1,371.0 331.0,366.3 329.0,366.2 327.0,367.1 325.0,368.9 321.0,375.4 319.0,377.0 312.0,379.3 309.0,379.8 303.0,379.6 301.2,378.0 300.7,375.0 301.1,373.0 303.3,369.0 306.8,365.0 307.9,362.0 307.9,359.0 306.6,350.0 306.8,347.0 308.7,344.0 316.0,339.0 317.0,337.0 316.1,324.0 312.6,314.0 312.4,312.0 313.5,308.0 319.8,296.0 319.7,295.0 318.6,294.0 312.0,292.4 306.0,289.6 302.0,289.4 296.0,291.3 293.0,292.8 287.0,297.0 283.0,298.3 275.0,299.6 256.0,301.1 243.0,301.2 232.0,299.3 223.0,295.5 217.0,293.9 211.0,293.3 204.0,293.7 180.0,300.4 172.0,304.3 169.1,307.0 167.0,310.2 162.0,311.1 156.0,313.3 154.0,313.4 147.0,310.4 143.0,307.9 97.0,271.1 88.8,265.0 84.0,262.2 82.7,262.0 81.9,263.0 81.0,271.0 80.0,272.9 74.0,272.6 72.0,273.9 71.3,277.0 71.1,285.0 70.0,285.9 67.0,283.4 63.0,278.7 51.0,260.5 49.0,258.7 48.9,261.0 49.8,265.0 54.9,282.0 57.1,288.0 59.5,292.0 68.6,319.0 71.5,328.0 72.5,334.0 81.0,358.4 81.6,362.0 79.5,364.0 23.5,398.0 20.0,399.6M193.3,650.0 200.0,637.7 211.0,621.1 212.0,620.4 218.0,619.4 219.5,618.0 218.4,614.0 216.0,610.0 216.6,609.0 220.0,606.3 221.6,602.0 223.1,600.0 230.0,594.6 233.0,593.6 237.0,594.8 239.6,597.0 241.2,600.0 242.0,604.0 239.7,614.0 240.9,624.0 239.0,628.1 235.0,640.3 232.7,650.0M496.0,47.0 493.4,48.0 492.9,49.0 495.5,53.0 495.3,54.0 494.0,54.7 490.0,55.1 482.0,53.1 479.0,53.3 476.0,54.7 469.0,60.0 462.0,61.6 460.0,62.9 457.9,67.0 455.9,75.0 455.2,80.0 455.2,97.0 456.0,101.0 458.0,104.4 461.0,106.9 464.0,108.5 478.0,113.3 487.0,118.5 490.0,119.0 502.0,117.4 506.0,116.0 507.3,115.0 508.1,113.0 507.7,109.0 506.6,106.0 504.4,103.0 505.6,100.0 511.0,94.6 518.0,92.1 526.0,88.1 528.0,86.4 528.4,85.0 526.1,72.0 526.5,67.0 528.1,65.0 528.2,64.0 523.0,60.0 510.9,53.0 503.0,49.0 497.0,46.9M375.0,73.8 366.9,82.0 356.0,87.7 349.0,96.5 346.0,99.1 323.0,109.2 305.0,113.3 297.0,116.7 291.0,118.1 285.7,120.0 278.9,123.0 277.6,124.0 276.5,126.0 277.1,130.0 283.7,145.0 284.8,153.0 284.5,156.0 283.4,159.0 276.0,169.0 274.3,173.0 274.7,176.0 277.3,181.0 278.5,185.0 280.1,195.0 280.0,202.0 281.1,204.0 295.6,217.0 297.0,219.0 297.5,221.0 296.8,224.0 294.3,228.0 283.7,238.0 282.7,240.0 281.6,245.0 280.4,247.0 279.0,247.8 275.0,248.2 272.4,250.0 270.7,255.0 271.5,260.0 274.1,264.0 279.0,267.8 291.0,272.9 295.0,273.8 298.0,272.9 306.0,266.7 309.3,265.0 322.0,262.2 331.0,262.5 341.0,260.0 348.5,253.0 351.3,249.0 352.5,244.0 352.4,236.0 353.0,233.9 360.2,225.0 367.0,218.2 378.9,200.0 383.0,195.5 385.0,194.3 389.0,196.1 396.0,195.9 397.0,196.3 398.2,199.0 397.9,206.0 400.0,207.4 403.0,207.5 417.0,204.7 419.0,203.6 421.0,200.0 424.0,190.0 423.9,187.0 422.0,185.2 418.0,184.7 407.0,185.1 405.0,184.3 404.3,183.0 405.8,180.0 410.5,176.0 412.0,174.0 412.5,165.0 413.7,160.0 416.2,155.0 422.4,145.0 423.8,141.0 422.5,117.0 418.6,100.0 416.8,97.0 409.3,88.0 404.7,80.0 402.0,77.4 398.0,75.9 392.0,76.5 388.0,76.3 379.0,73.3 376.0,73.3M361.0,296.6 356.1,301.0 354.9,304.0 355.8,305.0 357.0,304.9 361.0,303.4 363.0,302.0 363.8,300.0 363.7,297.0 363.0,296.0 361.0,296.6M515.0,352.6 517.0,352.1 517.4,355.0 515.6,363.0 514.6,365.0 513.0,366.6 510.0,367.6 506.4,367.0 501.3,364.0 500.0,362.0 501.0,360.4 508.0,357.9 514.3,353.0M402.0,399.0 393.0,401.6 389.3,404.0 389.1,405.0 390.3,410.0 389.2,418.0 390.0,419.2 391.0,419.6 393.0,419.5 402.0,414.6 411.0,412.6 416.0,412.4 418.3,411.0 418.3,409.0 416.7,405.0 414.0,401.3 407.0,398.5 403.0,398.7M433.0,535.8 434.3,536.0 434.7,538.0 434.7,544.0 433.6,546.0 431.0,547.0 425.0,548.0 424.0,548.0 423.1,547.0 423.6,545.0 425.0,542.8 432.6,536.0" fill="none" stroke="#000" stroke-width="1.0"/>
<path d="M484.0,0.0 481.7,7.0 475.0,21.4 474.5,23.0 475.0,24.5 486.0,30.2 492.1,35.0 498.0,38.1 502.3,42.0 540.0,62.2 550.0,66.0 552.1,65.0 556.6,59.0 582.4,32.0 598.2,8.0 602.9,0.0M680.0,278.8 678.0,285.8 675.9,297.0 670.5,335.0 662.5,449.0 661.6,454.0 657.5,466.0 655.8,474.0 650.0,478.0 645.0,478.5 640.0,481.5 635.0,482.7 630.0,483.0 622.6,481.0 618.0,478.0 608.0,462.2 605.0,458.6 602.0,456.3 599.0,455.0 596.0,454.6 586.0,454.9 581.0,454.4 577.0,453.2 574.0,451.3 566.7,443.0 564.7,439.0 561.0,428.8 560.0,427.1 559.0,427.3 553.7,437.0 554.4,444.0 552.6,449.0 552.5,455.0 550.4,465.0 550.3,470.0 551.7,475.0 553.0,476.5 556.0,474.0 558.0,473.2 566.0,474.1 569.0,475.1 570.3,477.0 570.8,480.0 570.4,484.0 569.2,487.0 567.0,489.8 565.0,491.2 555.0,493.8 543.7,499.0 537.0,500.2 530.0,500.1 522.0,502.5 519.0,502.1 517.0,500.2 513.7,494.0 504.2,480.0 493.6,468.0 492.8,465.0 493.3,463.0 499.4,452.0 501.8,444.0 502.3,439.0 503.0,437.2 505.0,435.4 509.0,433.9 511.0,431.7 513.7,426.0 514.0,420.0 514.9,418.0 523.1,410.0 527.0,402.2 530.0,400.3 537.0,397.9 540.0,396.2 544.2,391.0 545.9,387.0 546.4,384.0 546.1,381.0 541.2,371.0 540.2,360.0 539.2,356.0 537.0,353.0 534.0,351.7 531.0,349.6 529.6,348.0 528.9,346.0 530.3,338.0 529.0,328.0 530.0,326.0 534.7,320.0 535.9,316.0 535.4,312.0 533.2,305.0 531.6,302.0 529.0,299.2 524.0,294.5 520.0,292.8 513.0,292.1 502.0,293.1 493.0,290.7 482.0,292.3 451.0,298.7 444.4,301.0 440.7,304.0 439.9,308.0 441.8,323.0 437.8,338.0 437.1,343.0 437.7,347.0 441.2,358.0 441.7,370.0 442.6,374.0 444.5,377.0 447.0,378.4 458.0,378.3 467.0,380.8 471.0,383.9 472.5,387.0 471.8,390.0 466.7,396.0 462.5,403.0 460.0,404.8 458.0,405.0 456.0,404.3 454.0,402.7 449.0,396.3 446.0,393.3 441.0,390.6 439.0,390.5 436.0,391.4 431.2,394.0 427.0,397.2 425.0,397.6 417.1,395.0 403.0,392.5 397.0,393.3 387.0,396.4 381.0,396.8 371.1,392.0 366.9,387.0 365.8,385.0 365.5,383.0 366.9,380.0 372.4,376.0 375.2,373.0 376.1,370.0 374.8,367.0 369.1,362.0 366.0,360.9 364.0,361.9 360.6,366.0 358.0,367.7 352.0,369.5 348.7,369.0 345.5,366.0 343.4,363.0 335.6,344.0 330.9,339.0 329.7,337.0 323.9,314.0 323.7,309.0 324.5,306.0 325.8,304.0 335.0,297.1 336.6,295.0 337.9,290.0 337.1,287.0 336.0,286.3 333.0,286.0 325.0,288.1 317.0,288.6 314.0,288.2 311.8,287.0 307.1,283.0 305.4,281.0 304.6,279.0 305.0,276.0 307.1,272.0 310.0,269.0 314.0,266.9 323.0,264.6 338.0,267.1 341.0,266.7 343.0,265.7 356.8,254.0 359.4,250.0 362.5,243.0 364.0,241.3 370.0,238.2 375.0,237.6 377.0,236.2 383.1,229.0 383.3,228.0 382.6,226.0 377.0,222.0 376.3,220.0 377.0,217.0 378.8,213.0 383.0,208.0 385.0,207.4 386.0,207.8 390.0,211.8 393.0,212.8 417.0,208.1 419.0,207.0 420.9,204.0 425.8,189.0 426.6,185.0 426.2,183.0 425.0,182.1 418.8,181.0 418.1,180.0 420.1,177.0 420.7,175.0 419.5,161.0 421.1,155.0 425.6,147.0 426.7,144.0 427.5,127.0 428.8,118.0 427.9,115.0 423.0,107.3 419.8,98.0 413.0,89.0 410.5,82.0 406.4,76.0 403.0,73.5 398.0,71.5 396.0,71.2 391.0,72.5 388.0,72.4 384.0,71.7 379.0,69.5 376.0,69.6 372.4,72.0 361.9,81.0 354.5,86.0 346.0,94.8 329.0,103.2 303.0,110.6 287.0,115.9 272.0,116.8 268.5,118.0 266.7,121.0 267.4,126.0 269.2,129.0 276.0,136.3 279.0,140.6 281.1,145.0 281.3,148.0 279.8,156.0 278.3,159.0 264.0,172.5 262.0,172.8 260.0,172.4 253.0,168.8 251.0,168.5 239.0,171.6 224.0,171.7 214.0,170.0 211.0,170.3 205.0,172.0 199.0,171.4 196.0,170.5 192.9,168.0 191.1,165.0 189.0,158.2 184.7,155.0 182.0,151.3 181.3,149.0 181.0,143.0 180.0,141.3 175.7,140.0 174.0,136.2 173.0,135.1 166.0,134.0 162.0,131.4 160.0,129.4 159.3,124.0 156.7,121.0 154.9,116.0 156.5,108.0 156.1,106.0 154.0,104.9 151.0,104.5 146.0,105.5 139.0,107.8 137.0,107.6 133.6,103.0 94.0,63.4 65.3,27.0 58.0,18.5 46.6,0.0M20.0,358.6 26.3,348.0 50.9,301.0 56.0,292.5 57.0,292.4 58.2,294.0 70.2,329.0 70.0,330.5 69.0,331.8 61.0,334.8 58.0,336.8 27.0,362.4 22.0,366.3 20.0,367.0M478.0,34.8 481.1,39.0 481.2,40.0 476.9,42.0 473.8,48.0 467.1,56.0 465.0,57.1 460.0,58.6 458.0,59.9 451.7,71.0 450.4,78.0 450.4,104.0 451.7,108.0 456.0,112.2 474.0,116.9 478.0,118.8 486.0,124.0 489.0,125.0 498.0,122.3 505.0,121.4 510.0,121.7 523.0,124.4 526.0,124.2 527.9,123.0 531.0,118.5 532.9,114.0 532.6,105.0 535.1,93.0 535.5,89.0 536.0,87.6 538.1,86.0 537.0,76.9 539.0,74.2 541.0,73.6 551.0,75.5 552.0,75.0 541.1,68.0 514.0,52.7 488.3,39.0 479.0,34.8M254.0,111.9 249.8,114.0 247.6,116.0 245.9,120.0 245.5,123.0 246.0,123.8 252.0,121.6 257.0,116.0 258.2,114.0 258.1,112.0 255.0,111.7M236.0,130.9 234.8,132.0 232.3,137.0 232.0,139.0 235.0,142.1 239.0,143.7 240.6,143.0 241.3,142.0 241.1,135.0 240.0,132.0 238.7,131.0 237.0,130.6M254.0,133.6 252.0,134.7 246.9,139.0 243.6,143.0 243.8,145.0 245.0,146.4 247.0,147.5 250.0,147.9 252.0,147.4 254.0,146.1 256.7,143.0 258.3,140.0 258.4,138.0 257.8,136.0 257.0,134.8 255.0,133.6M262.0,182.6 264.0,182.4 267.0,183.3 269.0,184.9 270.9,188.0 271.9,191.0 271.8,194.0 271.0,196.0 269.0,197.7 266.0,198.4 262.0,198.1 259.0,197.1 258.0,196.0 257.7,194.0 258.6,189.0 260.0,184.5 261.1,183.0M72.0,198.5 75.0,198.9 81.1,203.0 81.6,205.0 79.0,207.8 72.0,209.8 70.0,209.8 68.7,209.0 68.1,207.0 68.5,204.0 69.7,201.0 71.2,199.0M209.0,201.9 214.0,202.8 219.0,205.8 224.1,210.0 228.4,216.0 230.0,220.0 234.0,234.3 237.0,238.5 242.0,242.7 244.0,246.6 244.8,252.0 243.4,258.0 243.2,262.0 243.6,265.0 245.0,267.5 247.0,268.6 249.0,268.7 259.0,266.7 262.0,266.8 273.0,273.0 281.6,277.0 284.9,280.0 285.8,282.0 285.9,285.0 285.0,288.0 283.4,290.0 279.1,292.0 270.0,294.0 252.0,296.1 239.0,294.9 235.0,293.4 229.0,289.7 223.0,284.6 221.0,283.7 218.0,283.5 214.0,284.4 204.0,288.2 196.0,290.4 172.0,294.7 167.0,297.3 160.0,298.9 152.0,306.1 150.0,306.8 148.0,306.7 145.0,305.5 143.0,304.0 96.0,264.0 83.1,252.0 82.8,251.0 84.3,248.0 85.4,244.0 89.5,242.0 89.8,241.0 87.9,238.0 81.2,232.0 80.7,230.0 82.8,223.0 87.0,217.6 90.0,212.0 92.0,210.5 106.0,206.2 124.0,204.5 134.0,205.5 154.0,205.5 174.0,207.3 190.0,206.7 198.0,207.5 200.0,207.0 206.0,202.9 208.4,202.0M609.0,236.0 606.8,237.0 605.9,238.0 605.6,240.0 606.4,249.0 607.0,250.6 609.0,251.2 611.0,250.4 613.4,248.0 614.6,246.0 615.3,243.0 615.2,240.0 614.5,238.0 613.0,236.6 610.0,235.9M361.0,283.9 359.3,285.0 358.5,287.0 360.4,291.0 360.1,293.0 352.5,302.0 350.6,306.0 350.1,309.0 350.5,311.0 351.0,311.6 353.0,311.5 366.0,306.4 367.6,305.0 368.7,303.0 369.3,299.0 368.5,288.0 366.0,284.4 362.0,283.7M576.0,308.0 569.0,309.3 564.0,311.9 562.4,314.0 561.4,317.0 561.3,319.0 562.0,320.8 565.0,323.0 570.0,324.5 587.0,324.4 592.0,323.3 595.0,321.0 598.0,316.0 598.3,314.0 597.8,313.0 596.0,311.7 587.0,308.0 582.0,307.5 577.0,307.9M556.0,344.9 551.0,345.7 547.5,347.0 546.0,349.0 546.2,352.0 547.8,355.0 550.0,356.8 557.0,360.2 561.0,361.1 563.0,360.1 564.0,358.0 565.0,347.9 564.1,346.0 563.0,345.3 557.0,344.8M307.0,370.5 309.0,370.4 316.5,373.0 317.4,374.0 316.5,376.0 313.0,378.0 311.0,378.5 308.0,378.6 305.1,378.0 304.1,377.0 304.0,375.0 306.3,371.0M297.0,395.8 301.0,395.2 303.0,396.9 306.9,403.0 307.6,406.0 307.7,409.0 306.9,411.0 304.0,413.6 293.0,419.6 291.0,419.9 289.0,419.4 286.8,417.0 286.3,413.0 287.2,402.0 287.7,400.0 289.7,398.0 296.1,396.0M356.0,404.6 359.0,404.1 362.0,405.8 362.4,408.0 361.0,409.6 359.0,409.9 356.0,408.2 354.8,406.0 355.2,405.0M422.0,416.8 425.0,416.6 426.0,417.6 426.4,419.0 424.3,433.0 422.0,435.1 419.0,435.4 408.0,434.2 398.0,433.7 396.5,433.0 396.1,432.0 396.8,429.0 398.6,426.0 403.0,421.5 405.0,420.8 415.0,419.2 421.2,417.0M291.0,422.9 293.0,422.7 299.0,424.4 306.0,424.0 315.0,425.8 318.0,425.4 323.0,423.5 338.0,424.9 342.0,427.3 344.3,431.0 345.2,434.0 345.3,437.0 344.6,439.0 343.5,440.0 341.0,440.6 337.0,440.7 326.0,438.7 323.0,439.3 318.0,441.4 316.0,441.5 309.3,437.0 300.0,436.2 298.0,436.4 294.0,438.6 292.0,438.8 287.0,436.0 285.3,434.0 284.1,431.0 284.2,429.0 285.0,426.9 288.0,424.3 290.8,423.0M252.0,427.0 258.0,426.4 260.0,427.2 261.6,429.0 261.8,433.0 260.0,441.0 260.8,448.0 259.8,452.0 261.3,453.0 268.0,455.0 284.0,457.1 287.0,457.9 295.5,464.0 297.2,466.0 298.6,469.0 300.0,473.0 300.0,475.0 297.6,482.0 296.0,485.0 293.0,487.8 289.2,490.0 279.0,493.1 273.0,493.0 268.0,491.5 265.0,489.8 260.4,486.0 251.6,477.0 249.1,473.0 248.6,469.0 250.8,462.0 251.0,455.7 250.0,454.5 245.0,452.0 243.0,450.0 239.3,443.0 238.6,439.0 240.0,434.0 242.1,431.0 246.0,428.4 251.8,427.0M428.0,542.5 429.0,542.4 429.4,543.0 429.4,544.0 428.5,545.0 426.0,545.2 426.2,544.0 427.2,543.0M234.0,598.0 236.9,599.0 237.7,601.0 237.0,603.3 234.0,605.0 232.0,604.1 231.1,601.0 231.9,599.0 233.9,598.0" fill="none" stroke="#000" stroke-width="1.0"/>
<path d="M481.3,0.0 479.0,6.2 471.8,22.0 471.5,24.0 472.0,26.1 473.0,27.5 483.4,32.0 490.0,36.5 497.0,39.7 498.4,41.0 498.0,42.0 473.0,28.2 468.0,26.5 458.8,22.0 457.0,21.5 456.3,22.0 467.5,31.0 470.2,34.0 469.8,35.0 467.5,36.0 466.5,37.0 466.8,39.0 468.6,43.0 468.6,45.0 466.5,50.0 464.0,53.3 457.0,56.4 452.0,62.2 444.8,65.0 442.7,67.0 442.3,70.0 445.5,88.0 445.5,93.0 444.4,98.0 443.0,101.6 440.0,105.5 437.0,107.9 434.0,109.1 431.0,108.7 428.0,106.9 425.0,103.9 421.5,97.0 416.8,90.0 416.3,88.0 416.9,82.0 410.0,73.6 406.0,70.1 400.0,66.3 394.0,64.0 388.0,64.1 382.0,65.2 377.0,65.1 374.0,66.5 368.0,71.1 344.0,91.9 326.0,100.8 319.0,102.4 308.0,106.1 301.0,107.5 293.0,110.6 287.0,111.6 284.0,111.2 280.9,110.0 276.4,107.0 272.0,102.4 269.0,101.7 260.0,104.8 245.0,112.8 230.2,127.0 226.1,137.0 225.7,139.0 226.6,141.0 229.0,143.6 238.0,150.2 240.9,153.0 243.2,157.0 243.3,160.0 241.0,163.2 237.0,166.0 232.0,167.4 223.0,168.0 211.0,165.8 207.7,166.0 200.0,167.9 198.0,167.6 196.0,166.4 193.8,163.0 191.5,156.0 188.2,152.0 186.1,148.0 185.4,144.0 185.3,137.0 184.6,134.0 179.0,127.0 173.0,124.3 171.2,122.0 165.4,106.0 165.2,104.0 166.1,98.0 165.3,96.0 163.0,95.2 159.0,96.1 153.0,98.2 139.0,105.0 137.0,105.0 94.9,63.0 59.0,18.1 47.8,0.0M680.0,254.7 677.5,263.0 668.0,309.3 659.6,432.0 656.9,451.0 651.6,470.0 648.0,474.2 641.0,478.0 638.0,479.0 633.0,479.6 631.0,479.3 628.9,478.0 615.0,462.6 609.4,455.0 604.7,451.0 599.0,449.2 583.0,447.8 578.0,445.8 574.2,443.0 570.5,438.0 568.7,433.0 569.0,429.0 572.6,420.0 572.0,416.6 570.0,415.1 562.0,417.2 556.0,418.0 554.4,419.0 553.4,429.0 549.5,435.0 547.0,442.8 544.0,449.0 543.8,451.0 544.9,456.0 544.6,459.0 539.9,476.0 542.3,487.0 545.4,492.0 544.9,494.0 543.0,495.8 538.0,497.1 535.0,496.8 530.0,495.2 524.0,496.7 521.0,496.1 518.0,493.0 511.8,483.0 503.7,474.0 501.8,471.0 501.0,470.1 497.0,468.7 495.4,467.0 494.7,465.0 495.9,462.0 502.2,453.0 505.3,440.0 507.0,438.1 510.0,436.4 512.5,433.0 515.3,426.0 515.7,420.0 516.7,418.0 524.2,411.0 527.0,406.3 529.0,404.1 532.0,402.5 540.0,400.1 546.2,394.0 547.9,390.0 549.8,383.0 549.6,380.0 548.3,375.0 549.0,372.4 552.0,370.6 555.0,369.6 562.0,369.3 566.0,368.5 569.4,366.0 570.3,364.0 570.9,356.0 572.5,348.0 574.0,345.0 577.0,341.8 580.1,335.0 582.2,333.0 587.0,330.4 598.0,328.4 606.0,322.8 612.6,322.0 615.1,321.0 619.3,310.0 621.2,298.0 621.0,294.0 620.3,291.0 619.0,288.6 617.0,287.0 614.0,286.2 609.0,286.3 603.1,283.0 601.0,283.1 597.0,285.7 591.0,292.8 583.6,298.0 563.0,307.4 559.6,311.0 556.7,318.0 556.2,324.0 558.3,330.0 557.3,333.0 555.3,335.0 553.1,336.0 540.0,339.1 538.0,338.7 536.2,337.0 532.6,330.0 533.1,327.0 538.8,319.0 539.2,316.0 537.7,306.0 536.7,294.0 534.6,291.0 531.0,289.0 526.0,287.7 516.0,286.5 503.0,288.2 494.0,287.2 449.0,295.2 438.5,298.0 435.9,300.0 434.7,303.0 434.7,306.0 437.2,325.0 436.1,330.0 432.4,341.0 431.4,347.0 431.9,352.0 434.3,358.0 434.9,361.0 434.2,378.0 432.6,381.0 428.0,384.7 424.0,386.5 418.0,388.1 411.0,388.3 400.0,387.4 394.0,388.3 385.0,391.1 381.0,391.1 379.0,390.4 377.0,388.4 373.5,383.0 374.3,381.0 378.3,377.0 381.3,372.0 381.2,368.0 379.0,364.0 370.0,356.1 368.0,355.1 366.0,354.8 364.0,356.3 360.0,362.6 358.0,364.8 354.0,366.3 351.0,365.7 349.2,364.0 347.5,361.0 341.2,342.0 336.2,336.0 335.2,334.0 333.9,326.0 334.6,319.0 333.1,311.0 333.4,307.0 335.3,304.0 340.3,301.0 342.0,299.2 347.0,288.2 349.0,287.6 351.0,288.4 355.7,291.0 356.7,293.0 355.9,295.0 349.4,302.0 347.7,305.0 346.2,314.0 346.8,316.0 348.0,317.0 356.0,317.2 363.0,315.3 368.3,311.0 372.5,304.0 373.2,300.0 373.0,288.0 371.0,280.2 369.7,277.0 368.0,274.5 361.0,271.0 358.6,269.0 358.1,267.0 359.1,265.0 364.0,260.2 367.0,254.7 369.4,252.0 375.9,248.0 386.0,244.1 392.0,240.3 393.2,238.0 393.7,233.0 393.1,230.0 390.7,225.0 390.6,223.0 391.9,220.0 395.0,216.2 398.0,214.7 404.0,214.2 417.0,211.5 419.0,210.3 421.0,207.4 429.2,183.0 429.4,181.0 426.7,164.0 426.6,158.0 427.3,154.0 430.5,146.0 433.4,130.0 435.0,127.1 438.0,125.2 442.0,124.2 452.0,123.4 458.0,123.7 464.0,122.6 470.0,122.6 475.3,124.0 484.0,129.2 488.0,130.8 491.0,130.6 499.0,126.9 505.0,126.4 510.0,127.5 517.0,130.4 527.0,137.1 530.0,137.3 535.0,134.4 537.0,132.0 540.1,119.0 539.2,110.0 546.8,97.0 546.9,95.0 545.4,86.0 548.7,81.0 551.0,80.3 554.0,80.6 573.4,87.0 576.2,87.0 567.1,81.0 527.5,58.0 529.0,57.9 533.7,60.0 541.0,64.3 557.0,69.8 558.0,69.0 560.5,59.0 562.4,55.0 569.0,47.0 583.5,32.0 599.2,8.0 603.8,0.0M285.0,9.9 284.9,11.0 291.0,15.6 293.1,18.0 300.0,23.1 302.0,23.9 312.0,21.2 327.5,13.0 328.9,12.0 328.6,11.0 318.0,10.5 313.0,9.7 286.0,9.7M351.0,13.7 347.0,16.6 342.6,22.0 334.0,37.0 332.7,41.0 334.0,40.7 340.0,36.6 349.0,32.6 351.0,32.4 356.0,33.3 361.0,32.3 364.0,30.9 366.4,28.0 367.4,24.0 366.5,20.0 364.1,17.0 361.0,15.1 356.0,13.4 352.0,13.3M456.0,21.0 456.0,21.0M506.0,45.9 505.9,46.0M508.0,46.7 510.7,48.0 510.0,48.4 507.3,47.0M517.0,51.9 518.0,52.3 516.7,52.0M519.0,52.6 522.5,54.0 525.0,56.2 523.4,56.0 518.1,53.0M526.0,57.0 525.9,57.0M267.0,137.6 270.0,137.4 273.0,139.0 276.8,143.0 278.2,146.0 278.0,149.0 275.6,156.0 272.0,160.1 267.0,163.0 262.7,164.0 261.0,163.5 259.4,162.0 257.5,158.0 257.3,154.0 258.4,150.0 266.5,138.0M208.0,208.7 211.0,208.2 214.0,208.6 218.0,210.8 220.0,213.0 227.0,229.0 229.3,244.0 235.0,253.0 235.2,255.0 233.7,266.0 235.0,275.0 233.7,278.0 231.0,279.5 228.0,279.8 222.0,277.6 219.0,277.5 205.0,282.4 192.0,285.5 183.0,286.7 169.0,290.4 165.0,290.6 157.0,289.7 153.1,290.0 151.5,291.0 150.0,293.2 146.8,300.0 146.0,300.9 145.0,300.8 142.0,298.0 109.8,262.0 107.7,259.0 107.6,257.0 108.5,256.0 112.2,254.0 114.0,252.1 117.0,245.4 120.0,240.9 120.9,238.0 120.8,232.0 116.2,215.0 116.2,213.0 117.0,212.0 120.0,211.0 125.0,210.4 152.0,209.8 161.0,210.3 178.0,212.7 190.0,212.1 198.0,212.8 201.0,212.2 207.2,209.0M608.0,231.7 605.0,233.0 595.9,239.0 592.6,242.0 591.7,244.0 592.4,246.0 595.5,250.0 599.3,259.0 603.0,261.0 607.0,260.6 612.0,258.4 617.0,254.8 619.8,251.0 620.6,247.0 620.2,239.0 619.0,234.8 617.0,233.1 614.0,231.6 612.0,231.2 609.0,231.4M319.0,268.0 323.0,267.2 327.0,267.9 331.0,270.0 332.4,272.0 332.4,274.0 331.5,276.0 328.0,281.8 326.0,283.2 320.0,283.4 316.0,282.8 312.0,280.2 310.2,278.0 310.5,275.0 312.2,272.0 315.0,269.6 318.9,268.0M255.0,274.9 257.0,274.7 260.0,275.4 268.2,279.0 271.9,282.0 271.9,283.0 270.0,284.5 257.0,288.8 253.0,289.3 245.0,288.3 243.0,287.6 242.1,286.0 242.8,283.0 245.1,280.0 249.9,277.0 254.6,275.0M309.0,374.7 311.0,374.8 312.0,375.4 312.4,376.0 311.1,377.0 308.8,377.0 307.9,376.0 308.5,375.0M456.0,383.8 463.0,384.3 465.6,385.0 466.7,386.0 466.9,387.0 465.7,389.0 461.0,394.6 459.0,396.0 458.0,395.9 456.0,394.4 451.5,388.0 452.0,385.9 455.3,384.0M294.0,399.9 297.0,399.4 299.0,399.7 301.0,400.9 303.0,403.0 303.7,405.0 303.3,407.0 300.0,410.0 294.0,410.7 292.0,409.7 291.0,407.0 291.1,403.0 292.0,401.2 293.7,400.0M250.0,430.9 254.0,430.5 256.0,430.8 257.1,432.0 257.5,434.0 256.7,440.0 256.9,444.0 256.3,446.0 254.0,447.9 250.0,449.0 248.0,448.8 246.3,447.0 243.0,440.4 242.4,438.0 243.2,435.0 244.7,433.0 247.0,431.5 249.2,431.0M514.0,450.9 509.4,453.0 506.9,456.0 505.2,464.0 505.4,466.0 515.0,473.9 520.2,477.0 524.0,478.4 525.7,478.0 526.6,476.0 527.2,466.0 526.7,457.0 525.0,453.2 523.1,452.0 520.0,451.2 514.0,450.9M263.0,459.9 270.0,459.8 282.0,461.3 287.0,463.9 291.0,468.2 292.8,472.0 293.4,475.0 293.0,479.0 292.0,481.7 290.3,484.0 287.6,486.0 284.0,487.6 281.0,488.3 275.0,488.2 268.0,485.7 263.6,482.0 257.3,474.0 255.5,470.0 255.9,466.0 258.2,462.0 260.0,460.7 262.6,460.0" fill="none" stroke="#000" stroke-width="1.0"/>
<path d="M264.8,0.0 266.0,2.3 276.0,9.9 279.0,12.8 293.2,23.0 295.1,25.0 295.3,26.0 292.4,28.0 281.0,33.3 251.0,49.4 232.1,61.0 229.6,63.0 228.5,65.0 231.0,66.1 238.0,66.7 255.0,63.8 263.0,63.8 293.0,73.9 300.0,75.2 303.0,76.8 306.0,76.1 310.0,73.7 325.2,60.0 341.0,48.3 350.0,44.6 359.0,43.0 363.0,39.0 370.0,35.0 373.0,30.5 375.5,28.0 376.5,25.0 376.5,18.0 375.0,9.0 375.0,0.0M478.1,0.0 469.3,20.0 468.7,23.0 468.0,23.4 459.0,18.4 450.0,15.3 437.0,9.0 435.0,8.5 434.6,9.0 450.1,21.0 454.4,25.0 454.9,26.0 454.9,29.0 454.0,33.0 454.2,35.0 459.1,41.0 460.5,45.0 460.0,47.2 455.0,51.2 451.0,56.0 448.0,56.7 439.0,54.9 435.0,57.1 432.8,60.0 431.0,66.0 431.2,71.0 432.5,74.0 435.2,77.0 436.7,80.0 438.8,87.0 439.4,91.0 438.6,95.0 432.7,101.0 430.0,101.4 427.0,99.9 421.9,93.0 421.2,90.0 423.3,83.0 423.3,81.0 417.4,72.0 398.0,55.8 395.0,53.8 392.0,53.1 379.0,58.4 374.0,59.2 371.0,60.5 359.9,71.0 355.0,77.0 346.0,85.1 341.0,88.5 335.0,88.9 330.9,94.0 327.3,96.0 324.0,97.1 317.0,98.1 311.6,101.0 308.0,101.9 305.0,101.5 302.0,99.3 300.0,98.7 299.0,99.4 295.0,105.4 293.0,106.4 290.0,106.6 287.9,106.0 285.8,104.0 282.8,97.0 281.0,94.5 277.0,93.1 270.0,93.4 267.0,94.5 254.0,102.3 241.0,111.4 231.0,120.0 227.0,122.5 222.0,124.3 206.0,125.9 204.0,125.5 202.4,124.0 201.9,119.0 200.0,114.0 199.9,111.0 201.3,101.0 200.9,95.0 200.1,92.0 197.0,88.3 188.0,83.2 187.0,82.0 192.0,75.7 195.0,73.7 196.0,72.0 194.5,61.0 194.4,45.0 196.2,32.0 196.4,26.0 197.2,22.0 197.4,16.0 199.3,0.0M680.0,229.7 678.0,234.5 667.4,269.0 666.0,275.3 664.3,293.0 655.4,425.0 653.0,439.7 651.0,448.1 648.0,456.7 646.6,459.0 645.0,460.2 639.0,459.2 635.0,459.2 631.0,460.6 626.0,463.5 624.0,463.5 619.4,460.0 614.0,450.6 611.0,447.2 609.0,445.9 604.0,444.3 587.0,443.0 583.0,441.8 580.0,440.1 578.0,437.0 578.2,434.0 580.0,430.3 584.5,425.0 584.8,422.0 583.5,418.0 580.4,413.0 576.6,409.0 574.0,408.0 552.7,416.0 551.7,418.0 551.6,424.0 550.6,428.0 543.4,439.0 540.0,442.4 538.0,443.3 533.0,444.2 527.0,447.4 524.0,448.3 515.0,447.5 510.0,448.0 508.1,447.0 507.8,446.0 508.5,442.0 512.6,437.0 514.1,434.0 517.0,426.0 517.2,421.0 518.0,418.9 523.0,414.8 529.0,407.7 531.0,406.1 534.0,404.7 541.3,403.0 546.0,400.0 550.5,393.0 556.0,377.7 558.0,376.4 562.0,375.5 572.0,374.8 575.9,373.0 578.0,370.9 580.2,366.0 580.8,361.0 580.4,352.0 582.6,342.0 583.7,339.0 586.0,335.7 589.0,333.5 592.0,332.6 600.0,332.6 605.0,331.5 608.0,330.1 612.0,330.5 617.0,329.6 622.2,330.0 632.0,315.3 634.0,313.9 637.0,315.1 638.0,314.6 640.5,311.0 644.5,300.0 648.6,284.0 650.8,273.0 651.0,266.0 650.1,264.0 649.0,263.3 643.0,262.9 637.8,255.0 628.0,247.0 626.6,244.0 623.5,232.0 621.0,229.2 617.3,227.0 615.0,226.4 612.0,226.6 604.0,229.1 600.0,232.1 584.0,241.6 579.1,246.0 578.4,248.0 579.7,251.0 596.2,269.0 597.3,272.0 596.7,276.0 594.9,279.0 588.7,286.0 578.0,293.3 572.0,296.5 559.3,305.0 553.6,314.0 550.8,324.0 549.4,326.0 548.0,326.9 545.0,326.2 541.4,324.0 541.6,322.0 543.3,318.0 543.0,309.6 544.0,308.1 548.0,305.7 550.1,303.0 550.9,300.0 551.0,294.0 552.0,292.1 555.0,289.8 562.0,286.4 563.8,285.0 565.1,283.0 565.9,279.0 565.8,276.0 564.1,272.0 562.0,270.0 559.0,270.2 546.0,275.1 524.0,280.6 521.0,280.9 514.0,279.8 507.0,280.0 500.6,283.0 495.0,283.6 482.0,286.4 437.0,293.0 434.0,294.3 431.0,297.2 429.6,301.0 430.6,311.0 432.8,324.0 432.2,330.0 423.5,352.0 422.0,353.3 416.0,355.7 412.2,358.0 409.0,362.0 408.3,366.0 410.1,372.0 410.3,376.0 409.3,379.0 407.0,380.9 404.0,381.3 397.0,381.1 394.1,380.0 391.0,377.8 389.8,375.0 389.8,372.0 390.5,370.0 393.3,366.0 393.1,364.0 390.8,361.0 384.5,357.0 382.7,354.0 380.6,347.0 378.8,345.0 376.0,343.5 372.0,342.6 368.0,342.4 365.0,343.0 362.0,344.5 360.8,347.0 360.0,353.4 359.0,356.3 356.0,360.8 354.0,361.2 352.0,359.1 350.0,355.5 345.4,340.0 341.1,332.0 340.5,329.0 340.7,327.0 343.0,324.4 345.0,323.9 355.0,324.0 362.0,322.6 367.0,319.5 373.4,313.0 377.6,304.0 378.0,302.0 376.5,295.0 376.2,287.0 374.8,275.0 375.0,270.8 377.0,268.9 386.0,268.0 387.9,266.0 387.1,262.0 382.7,258.0 382.8,255.0 384.6,251.0 391.0,247.0 393.0,244.8 395.2,241.0 396.1,237.0 396.4,232.0 393.8,224.0 394.1,222.0 395.8,219.0 397.0,217.8 399.0,216.9 407.0,216.4 417.0,214.6 419.6,213.0 421.6,210.0 423.6,205.0 426.0,195.8 429.0,188.7 431.0,185.9 434.0,184.3 435.2,181.0 435.6,177.0 434.0,167.0 433.5,159.0 434.5,154.0 437.0,150.7 441.0,149.3 452.0,150.1 456.0,151.3 457.2,153.0 457.4,155.0 456.3,161.0 454.5,166.0 454.6,168.0 456.6,171.0 459.0,172.8 462.0,173.8 465.0,173.6 467.0,172.8 469.0,170.9 472.8,162.0 476.0,157.2 483.8,150.0 489.9,141.0 497.0,135.4 506.0,134.3 510.0,135.0 512.3,137.0 513.5,142.0 515.0,143.1 519.0,144.5 528.0,145.6 531.0,145.1 532.7,144.0 540.0,135.9 542.7,128.0 545.0,123.6 546.0,122.6 549.8,121.0 550.5,120.0 550.2,114.0 554.0,98.0 554.0,93.8 554.9,92.0 559.0,87.6 562.0,87.0 566.8,88.0 596.7,99.0 600.0,100.1 602.2,100.0 593.2,94.0 559.8,75.0 557.8,73.0 559.8,70.0 562.1,60.0 563.8,55.0 570.0,47.4 584.0,32.7 599.5,9.0 604.7,0.0M208.0,140.9 213.0,140.1 216.0,140.8 222.0,146.5 234.2,154.0 235.5,156.0 235.4,159.0 234.0,161.0 231.0,162.6 221.0,163.8 216.2,163.0 211.8,161.0 206.0,155.2 200.8,152.0 199.6,150.0 200.5,148.0 204.0,143.0 207.5,141.0M268.0,144.9 269.0,144.6 271.0,145.3 273.0,148.0 272.0,152.5 270.0,155.3 266.0,156.8 264.5,156.0 263.7,154.0 264.2,150.0 267.9,145.0M146.0,215.0 159.0,215.5 178.0,220.4 194.0,221.5 200.0,220.6 210.0,217.3 213.0,217.6 215.0,219.5 219.0,224.7 222.3,231.0 222.9,236.0 221.1,247.0 225.6,258.0 226.0,262.0 224.9,267.0 223.0,269.7 212.0,273.9 207.0,275.0 203.0,275.1 200.0,274.5 193.0,270.2 185.0,267.5 182.0,265.3 179.3,261.0 178.8,254.0 177.7,249.0 173.3,238.0 170.5,235.0 166.0,231.7 163.0,230.3 160.0,230.1 158.0,231.1 154.8,234.0 152.6,237.0 152.0,239.0 154.0,246.0 157.0,252.0 157.2,255.0 156.5,257.0 154.0,259.5 142.4,264.0 138.1,267.0 136.8,269.0 136.4,271.0 137.9,279.0 137.0,280.2 134.0,277.7 129.1,272.0 126.0,268.0 124.6,265.0 126.1,262.0 125.3,258.0 125.5,256.0 129.4,243.0 130.3,238.0 130.0,234.0 127.4,225.0 127.1,222.0 128.0,219.6 132.0,217.3 145.7,215.0M320.0,270.9 324.0,270.4 326.5,272.0 326.0,274.9 324.0,277.1 320.0,277.3 317.0,275.6 316.5,274.0 317.0,273.0 319.6,271.0M622.0,355.6 619.0,357.6 617.0,360.4 614.4,367.0 613.5,372.0 614.0,374.5 615.5,376.0 619.0,377.5 622.0,377.5 624.6,376.0 630.8,371.0 632.9,368.0 633.5,366.0 632.4,361.0 629.5,357.0 627.0,355.4 623.0,355.4M248.0,435.8 252.0,435.5 253.0,436.0 253.5,437.0 253.4,442.0 252.0,443.7 250.0,443.7 248.6,442.0 247.0,438.0 247.8,436.0M267.0,464.7 272.0,464.2 278.5,465.0 282.0,466.2 285.0,468.4 287.4,472.0 288.4,476.0 287.1,480.0 284.0,482.5 281.0,483.0 274.0,481.7 271.0,480.5 268.0,478.1 264.8,474.0 263.2,470.0 263.8,467.0 266.2,465.0" fill="none" stroke="#000" stroke-width="1.0"/>
<path d="M464.1,0.0 453.0,12.3 451.0,12.9 446.7,11.0 427.4,0.0M680.0,194.3 677.0,196.2 675.0,193.1 674.0,193.2 670.0,200.4 664.0,214.6 662.0,216.6 659.0,217.6 653.0,218.1 646.0,217.0 643.0,217.1 638.0,219.0 632.0,222.6 629.0,223.4 620.0,221.5 615.0,221.7 603.0,224.6 597.0,227.7 592.0,228.8 588.0,228.4 579.0,225.6 568.0,226.1 561.0,225.7 556.5,225.0 549.0,222.7 547.0,222.8 543.9,224.0 539.7,227.0 538.4,229.0 538.6,231.0 540.2,234.0 543.3,237.0 552.0,241.5 557.1,245.0 561.1,249.0 563.5,253.0 563.3,256.0 560.9,260.0 558.0,263.0 554.0,265.3 549.0,266.3 544.0,265.4 542.0,265.5 526.2,273.0 522.0,274.3 517.0,273.8 510.0,270.9 507.0,270.7 505.0,272.0 501.0,276.9 499.0,278.3 494.1,280.0 486.0,281.6 474.0,282.1 461.0,280.1 456.0,280.2 431.0,288.8 425.7,294.0 423.8,299.0 424.5,305.0 427.9,320.0 428.4,325.0 428.0,329.0 425.0,336.9 422.0,342.4 418.0,346.7 414.0,349.2 399.0,353.7 395.0,353.6 392.0,351.0 389.5,345.0 387.5,342.0 383.0,337.9 375.7,333.0 373.0,330.0 372.6,328.0 373.4,325.0 377.0,320.6 380.8,309.0 385.4,303.0 385.3,301.0 381.0,296.2 379.8,293.0 379.1,285.0 380.4,276.0 381.0,274.8 383.0,273.4 389.0,272.0 392.0,270.8 394.2,269.0 395.0,267.1 394.9,265.0 392.6,258.0 392.5,254.0 396.8,242.0 398.8,233.0 398.8,231.0 396.4,224.0 396.8,222.0 398.2,220.0 401.0,218.9 417.0,217.4 420.0,216.3 424.3,211.0 427.0,201.8 429.0,198.9 433.0,196.7 437.0,195.7 442.0,188.9 444.0,187.2 446.0,186.8 449.0,187.7 451.0,187.3 469.0,179.0 472.3,176.0 477.0,167.2 480.0,164.2 483.0,163.2 486.0,163.2 494.3,167.0 503.0,168.2 506.0,167.0 508.9,164.0 509.7,161.0 509.2,159.0 504.7,152.0 504.4,151.0 505.0,149.8 507.0,149.2 510.0,149.2 534.0,151.6 537.0,151.4 539.0,150.6 540.6,148.0 545.3,129.0 547.0,127.0 553.0,126.5 556.4,124.0 558.7,119.0 559.1,111.0 560.6,106.0 562.0,104.2 565.2,102.0 567.6,99.0 571.8,96.0 575.0,95.6 581.1,97.0 628.5,115.0 634.7,117.0 636.4,117.0 634.3,115.0 626.3,110.0 581.4,85.0 575.1,80.0 574.8,79.0 578.0,66.6 581.8,39.0 588.0,28.3 601.5,8.0 605.9,0.0M422.0,6.8 424.0,7.1 427.8,9.0 437.9,16.0 440.2,20.0 441.4,27.0 440.2,30.0 435.4,36.0 432.0,43.1 430.0,45.9 424.0,52.5 419.0,55.1 416.0,55.4 414.0,54.8 412.0,53.3 410.4,51.0 409.7,48.0 409.6,38.0 410.8,32.0 417.6,16.0 418.5,10.0 419.7,8.0 421.2,7.0M377.0,38.5 379.0,38.2 381.2,39.0 383.0,40.8 383.5,43.0 382.1,47.0 378.0,51.6 376.0,51.9 374.0,50.9 372.1,49.0 371.0,46.0 371.5,43.0 376.0,39.0M606.0,148.9 600.0,150.4 595.0,154.0 592.0,156.8 589.2,161.0 587.6,167.0 587.5,169.0 588.9,171.0 591.0,172.7 596.0,175.0 604.0,176.1 615.0,175.5 617.0,174.8 620.0,172.3 625.8,169.0 627.0,167.0 627.3,164.0 624.9,159.0 624.0,154.9 622.5,153.0 612.0,148.7 607.0,148.8M592.0,336.7 594.0,336.0 596.0,336.2 602.3,339.0 604.1,341.0 606.5,349.0 612.4,353.0 612.8,355.0 612.0,359.0 609.0,366.3 607.0,369.0 606.0,369.4 605.0,368.8 598.0,360.3 596.0,359.2 590.0,358.1 587.0,355.5 585.2,353.0 585.0,351.0 586.0,345.8 591.5,337.0M544.0,405.8 549.0,405.7 551.1,407.0 551.6,408.0 549.8,414.0 549.5,423.0 548.3,427.0 542.0,435.7 539.0,438.8 531.6,441.0 526.0,444.2 523.0,445.2 516.8,444.0 515.0,443.0 514.0,441.1 518.5,427.0 518.9,422.0 519.7,420.0 524.0,416.8 530.0,410.5 533.0,408.2 536.0,407.0 543.0,406.0" fill="none" stroke="#000" stroke-width="1.0"/>
<path d="M566.0,125.9 569.0,126.1 574.0,128.2 582.0,130.2 585.0,131.6 591.4,138.0 593.5,142.0 593.3,145.0 591.2,151.0 584.0,161.3 581.0,163.7 574.0,166.1 561.0,163.7 555.0,161.0 552.1,157.0 549.2,145.0 547.9,135.0 548.5,132.0 550.0,131.2 554.0,131.2 557.0,130.6 565.6,126.0M637.0,151.6 641.0,151.2 644.0,152.9 647.2,157.0 648.4,161.0 647.8,168.0 646.0,171.7 642.7,175.0 641.6,177.0 640.9,185.0 639.8,189.0 639.0,190.0 637.0,190.7 634.0,190.7 629.0,189.1 625.7,186.0 624.5,182.0 624.8,179.0 625.5,177.0 629.0,173.0 631.1,168.0 631.8,165.0 631.5,160.0 632.1,157.0 634.0,154.0 636.4,152.0M520.0,156.7 527.0,156.5 532.0,157.3 535.5,159.0 538.7,162.0 544.0,171.2 552.3,183.0 552.8,185.0 552.8,191.0 554.3,195.0 556.7,198.0 561.0,201.8 564.0,202.1 576.0,197.9 580.0,197.4 585.0,198.1 590.0,201.9 592.0,202.6 598.0,201.9 604.0,202.2 612.0,201.5 616.7,203.0 621.8,206.0 623.3,208.0 622.7,211.0 620.9,213.0 617.4,215.0 607.0,218.0 600.0,218.1 593.0,215.1 591.0,214.9 580.0,219.2 571.0,220.0 565.0,219.6 560.0,217.1 548.0,212.8 543.0,212.7 539.6,217.0 530.5,223.0 523.0,229.6 520.8,233.0 517.4,246.0 517.0,252.0 518.0,255.0 520.0,257.7 522.0,258.6 525.7,259.0 526.9,260.0 526.8,262.0 525.1,265.0 522.7,267.0 519.0,267.7 509.0,264.6 506.0,264.6 504.0,266.3 499.0,272.5 496.0,274.3 482.0,274.6 478.0,274.0 474.5,271.0 470.1,264.0 467.2,261.0 463.0,258.4 458.0,256.8 451.0,255.8 445.0,255.9 438.0,257.7 433.0,260.0 431.0,261.5 430.3,263.0 433.3,269.0 433.4,272.0 431.9,276.0 429.3,280.0 427.0,281.9 425.0,282.7 413.0,284.0 408.7,287.0 405.7,291.0 406.2,293.0 412.2,297.0 414.9,300.0 421.0,316.0 422.1,321.0 421.6,326.0 420.0,329.2 417.0,331.4 414.0,331.7 407.0,329.7 403.0,329.4 399.0,329.8 393.0,331.8 390.0,331.8 386.0,328.9 384.0,326.2 383.2,324.0 383.4,320.0 385.1,314.0 386.3,312.0 390.0,309.1 391.7,307.0 393.7,303.0 394.2,300.0 393.0,297.4 387.0,294.8 384.0,292.4 382.5,288.0 383.0,283.4 384.0,280.0 385.3,278.0 394.0,273.5 399.4,269.0 399.8,267.0 398.8,261.0 402.1,254.0 401.9,250.0 400.0,245.2 399.7,242.0 400.0,238.0 401.9,232.0 401.4,230.0 399.3,226.0 399.1,224.0 399.6,223.0 401.0,222.0 404.0,221.4 423.0,219.7 430.0,221.3 436.0,219.5 439.0,220.8 442.0,221.1 448.0,220.6 452.6,219.0 457.2,216.0 458.9,214.0 459.4,212.0 459.4,203.0 460.7,198.0 464.0,192.0 470.0,185.0 477.0,179.3 482.0,177.6 485.0,174.0 487.0,173.2 498.0,172.5 505.0,174.0 508.0,173.4 511.0,170.7 515.3,165.0 517.5,161.0 518.1,158.0 519.1,157.0M536.0,409.9 541.0,409.4 543.0,409.7 545.0,410.8 546.7,414.0 547.5,420.0 547.0,424.0 545.6,427.0 540.0,434.3 536.0,437.4 530.1,439.0 525.0,441.7 523.0,442.1 519.5,441.0 518.5,440.0 517.9,438.0 518.4,434.0 522.0,421.0 535.8,410.0" fill="none" stroke="#000" stroke-width="1.0"/>
<path d="M565.0,135.8 569.0,135.7 577.0,137.8 580.2,140.0 583.2,144.0 584.6,147.0 584.4,150.0 581.0,155.8 578.0,158.0 576.0,158.3 565.0,157.1 562.4,156.0 561.0,154.6 559.0,148.3 558.9,142.0 560.6,138.0 564.2,136.0M525.0,165.6 528.0,165.6 531.0,167.7 533.2,171.0 534.5,175.0 534.0,180.1 529.4,189.0 528.6,192.0 529.3,197.0 533.4,209.0 533.8,212.0 533.4,214.0 530.7,217.0 519.0,223.0 514.9,227.0 513.9,230.0 514.8,239.0 513.2,249.0 512.8,255.0 511.0,256.6 506.0,256.8 504.0,257.8 496.0,266.1 494.0,266.9 490.0,267.1 487.0,266.8 485.0,265.9 483.0,264.0 480.1,258.0 477.0,254.0 473.0,250.4 469.0,248.4 446.0,244.5 431.0,246.0 420.0,246.0 409.0,243.1 407.0,241.5 405.3,238.0 405.0,236.0 405.8,232.0 403.5,227.0 403.6,226.0 406.0,225.0 413.0,224.0 421.0,224.6 424.0,225.5 430.0,229.2 439.0,231.0 448.0,230.3 455.0,227.9 467.0,221.4 469.0,220.0 470.5,218.0 471.0,216.0 470.6,207.0 473.0,201.3 474.6,193.0 476.0,190.6 478.0,189.6 480.0,189.8 483.0,191.1 487.0,193.9 489.0,194.4 491.0,192.3 495.0,183.4 498.0,179.8 501.0,178.3 509.0,180.0 513.0,178.8 517.0,175.6 522.0,168.3 524.4,166.0M578.0,203.0 580.0,202.9 582.0,203.9 583.1,206.0 583.2,208.0 582.5,210.0 581.0,211.9 577.0,214.5 574.0,214.9 571.0,214.4 569.5,213.0 569.4,211.0 570.0,209.0 572.3,206.0 575.0,204.0 577.8,203.0M409.0,260.6 413.0,260.7 418.9,264.0 422.9,268.0 423.2,269.0 422.8,271.0 420.9,274.0 419.0,275.7 417.0,276.2 410.3,276.0 404.0,279.4 400.0,282.5 398.1,287.0 396.0,289.3 393.0,290.0 389.0,289.2 387.7,287.0 388.0,285.0 390.4,281.0 393.0,279.3 397.0,278.1 403.6,271.0 405.3,268.0 405.6,264.0 408.0,261.0M538.0,412.7 541.0,412.7 543.1,414.0 544.9,418.0 545.0,422.0 543.3,426.0 540.0,430.6 536.0,434.3 533.0,435.9 525.0,438.4 523.0,438.4 521.4,437.0 521.3,434.0 523.8,425.0 525.0,422.5 537.0,413.0" fill="none" stroke="#000" stroke-width="1.0"/>
<path d="M502.0,185.5 504.0,185.3 506.1,186.0 509.6,188.0 511.3,190.0 512.2,194.0 511.6,196.0 510.0,198.0 508.0,198.9 505.0,199.0 502.0,197.9 500.1,196.0 499.0,193.0 499.0,190.0 499.6,188.0 501.2,186.0M538.0,418.8 540.0,419.0 541.0,420.1 541.4,422.0 540.8,424.0 537.4,429.0 532.0,433.2 528.0,434.0 526.0,433.2 525.9,431.0 527.0,427.0 528.1,425.0 530.4,423.0 537.3,419.0" fill="none" stroke="#000" stroke-width="1.0"/>
</g></g>
<g clip-path="url(#co)">
<rect x="0" y="0" width="962" height="738" fill="#a83a33"/>
<path d="M716.0,570.0 785.0,570.0 785.0,700.0 715.0,700.0 715.0,570.0Z" fill="#c0392f" fill-rule="evenodd"/>
<path d="M716.0,570.0 785.0,570.0 785.0,700.0 715.0,700.0 715.0,570.0Z" fill="#d24f4b" fill-rule="evenodd"/>
<path d="M729.0,570.0 785.0,570.0 785.0,635.2 778.0,633.0 776.0,632.9 774.0,634.0 773.1,637.0 774.0,640.9 776.0,642.6 785.0,643.8 785.0,661.2 779.0,659.0 775.0,658.6 773.0,659.2 770.0,661.1 768.3,664.0 768.8,666.0 770.0,667.8 772.0,669.3 774.0,670.0 779.0,669.6 785.0,666.6 785.0,694.9 780.0,694.6 778.6,691.0 777.0,689.4 772.0,687.3 769.0,687.1 766.2,689.0 765.3,692.0 768.0,700.0 715.0,700.0 715.0,625.9 732.0,626.2 739.0,627.4 741.0,627.3 742.0,626.5 745.0,620.6 749.7,615.0 750.2,613.0 749.4,610.0 747.4,606.0 738.5,596.0 735.3,591.0 733.8,587.0 733.0,582.0 728.4,570.0ZM757.8,644.0 756.4,645.0 756.4,648.0 758.6,651.0 761.0,652.0 762.0,651.7 763.0,650.3 763.0,647.8 761.0,645.0 758.0,644.0Z" fill="#de6a6a" fill-rule="evenodd"/>
<path d="M732.0,570.0 785.0,570.0 785.0,608.7 778.0,609.8 772.0,609.1 767.0,611.5 763.0,612.3 759.0,611.7 756.0,609.9 753.9,607.0 750.0,599.0 740.4,589.0 739.5,587.0 739.1,583.0 736.0,580.1 735.0,578.4 731.8,570.0ZM750.0,624.6 752.0,624.1 754.0,625.0 761.8,632.0 762.7,633.0 763.2,635.0 762.1,637.0 760.0,637.4 757.0,636.9 754.0,636.1 752.5,635.0 750.3,632.0 748.9,629.0 748.7,627.0 749.6,625.0ZM746.0,641.8 748.0,642.1 749.0,642.9 753.9,653.0 757.0,656.6 761.0,660.0 763.5,669.0 763.0,671.8 760.8,677.0 761.2,685.0 760.3,689.0 758.0,691.8 752.0,695.3 749.7,698.0 748.9,700.0 715.0,700.0 715.0,652.7 720.0,652.7 731.8,648.0 737.0,646.9 742.8,643.0 745.3,642.0Z" fill="#e68a8b" fill-rule="evenodd"/>
<path d="M738.0,570.0 785.0,570.0 785.0,601.4 779.0,603.4 772.0,603.4 767.0,608.1 763.0,609.2 759.0,608.2 756.9,606.0 755.3,600.0 753.4,596.0 752.8,590.0 752.1,589.0 748.0,588.5 745.0,585.3 744.6,583.0 747.1,577.0 747.0,575.5 743.0,575.9 741.0,575.4 738.9,573.0 737.8,570.0ZM747.0,663.8 751.0,663.4 752.7,664.0 753.6,665.0 753.5,668.0 751.9,671.0 746.7,677.0 742.0,683.6 737.0,687.3 734.5,691.0 729.0,694.7 722.8,698.0 720.6,700.0 715.0,700.0 715.0,689.4 717.2,687.0 715.0,687.1 715.0,675.2 720.0,673.0 722.0,672.9 723.5,674.0 725.0,676.6 726.0,676.9 736.5,668.0 746.4,664.0ZM721.2,683.0 720.3,684.0 721.0,684.3 722.3,683.0 722.0,682.4ZM719.7,685.0 720.1,685.0 720.0,684.5Z" fill="#eda7a8" fill-rule="evenodd"/>
<path d="M778.0,593.8 780.0,593.5 781.0,594.4 781.0,596.0 780.0,597.2 778.0,597.9 776.6,597.0 776.6,595.0 777.6,594.0ZM762.0,596.8 765.0,597.3 767.6,600.0 767.8,602.0 767.2,604.0 766.0,605.5 764.0,606.6 761.0,606.4 758.9,604.0 759.2,599.0 760.0,597.7 761.1,597.0Z" fill="#f4c8c9" fill-rule="evenodd"/>
<path d="M762.0,600.9 764.0,600.6 764.8,602.0 764.6,603.0 763.0,604.0 762.0,603.6 761.5,602.0 761.9,601.0Z" fill="#f8e5e5" fill-rule="evenodd"/>
<g mask="url(#lm)">
<path d="M715.0,625.9 732.0,626.2 739.0,627.4 741.0,627.3 742.0,626.5 745.0,620.6 750.1,614.0 749.8,611.0 747.4,606.0 738.5,596.0 735.3,591.0 733.8,587.0 733.0,582.0 728.4,570.0M785.0,635.2 778.0,633.0 776.0,632.9 774.0,634.0 773.1,637.0 774.0,640.9 776.0,642.6 785.0,643.8M785.0,661.2 779.0,659.0 775.0,658.6 773.0,659.2 770.0,661.1 768.3,664.0 768.8,666.0 770.0,667.8 772.0,669.3 774.0,670.0 779.0,669.6 785.0,666.6M785.0,694.9 780.0,694.6 778.6,691.0 777.0,689.4 772.0,687.3 769.0,687.1 766.2,689.0 765.3,692.0 768.0,700.0M758.0,644.0 756.4,645.0 756.4,648.0 758.6,651.0 761.0,652.0 762.6,651.0 763.1,648.0 761.0,645.0 758.4,644.0" fill="none" stroke="#000" stroke-width="1.0"/>
<path d="M785.0,608.7 778.0,609.8 772.0,609.1 767.0,611.5 763.0,612.3 759.0,611.7 757.0,610.7 754.5,608.0 750.0,599.0 740.4,589.0 739.5,587.0 739.1,583.0 736.0,580.1 735.0,578.4 731.8,570.0M715.0,652.7 720.0,652.7 731.8,648.0 737.0,646.9 745.0,642.1 747.0,641.8 749.1,643.0 753.9,653.0 757.0,656.6 761.0,660.0 763.5,669.0 763.0,671.8 760.8,677.0 761.2,685.0 760.3,689.0 758.0,691.8 752.0,695.3 749.7,698.0 748.9,700.0M750.0,624.6 752.0,624.1 754.0,625.0 761.8,632.0 762.7,633.0 763.2,635.0 762.1,637.0 760.0,637.4 757.0,636.9 754.0,636.1 752.5,635.0 750.3,632.0 748.9,629.0 748.7,627.0 749.6,625.0" fill="none" stroke="#000" stroke-width="1.0"/>
<path d="M785.0,601.4 779.0,603.4 772.0,603.4 767.1,608.0 765.0,609.0 762.0,609.2 759.0,608.2 756.4,605.0 755.6,601.0 753.2,595.0 752.8,590.0 752.0,589.0 748.0,588.5 744.9,585.0 744.8,582.0 747.3,576.0 746.0,575.3 743.0,575.9 741.0,575.4 738.9,573.0 737.8,570.0M715.0,675.2 720.0,673.0 722.0,672.9 723.5,674.0 725.0,676.6 726.0,676.9 735.0,669.0 740.6,666.0 750.0,663.3 752.7,664.0 753.8,666.0 753.5,668.0 752.0,670.9 746.7,677.0 742.0,683.6 737.3,687.0 734.0,691.4 722.8,698.0 720.6,700.0M715.0,689.4 717.2,687.0 715.0,687.1M722.0,682.4 720.3,684.0 721.0,684.3 722.3,683.0M720.0,684.5 720.0,684.5" fill="none" stroke="#000" stroke-width="1.0"/>
<path d="M778.0,593.8 780.0,593.5 781.0,594.4 781.0,596.0 780.0,597.2 778.0,597.9 776.6,597.0 776.6,595.0 777.6,594.0M762.0,596.8 765.0,597.3 767.6,600.0 767.8,602.0 767.2,604.0 766.0,605.5 764.0,606.6 761.0,606.4 758.9,604.0 759.2,599.0 760.0,597.7 761.1,597.0" fill="none" stroke="#000" stroke-width="1.0"/>
<path d="M762.0,600.9 764.0,600.6 764.8,602.0 764.6,603.0 763.0,604.0 762.0,603.6 761.5,602.0 761.9,601.0" fill="none" stroke="#000" stroke-width="1.0"/>
</g></g>
<path d="M45.7,174.4 L48.6,176.2 L49.8,173.0 L50.1,169.1 L53.6,171.7 L55.2,170.3 L56.8,169.1 L58.7,168.9 L60.6,169.0 L62.3,168.3 L63.5,165.5 L66.0,167.6 L67.9,167.8 L69.9,167.4 L71.5,169.0 L74.9,172.3 L75.2,167.9 L76.9,166.9 L78.5,165.4 L80.3,164.3 L82.3,163.5 L85.0,164.9 L86.5,166.3 L87.6,167.8 L87.5,169.8 L87.7,171.7 L89.5,170.8 L90.4,169.0 L92.1,168.2 L94.3,169.3 L95.8,167.6 L97.7,167.8 L99.5,168.6 L101.3,169.0 L104.0,168.3 L103.9,166.0 L103.7,163.6 L105.3,162.2 L106.5,161.1 L108.4,161.0 L109.4,159.5 L110.6,162.4 L113.1,160.0 L114.8,160.8 L116.5,160.1 L118.7,161.2 L120.2,159.5 L121.7,157.9 L123.7,158.2 L125.6,158.1 L127.4,159.2 L129.2,158.9 L131.0,158.1 L131.8,160.0 L132.1,162.1 L133.8,163.5 L137.8,162.8 L134.5,167.0 L136.5,167.6 L138.7,168.5 L140.6,169.6 L140.0,172.5 L140.2,174.3 L140.3,176.1 L142.3,177.3 L143.7,178.6 L142.9,180.8 L143.5,182.4 L145.6,182.3 L147.6,184.2 L149.7,182.4 L151.6,182.2 L152.4,180.6 L154.4,180.5 L154.6,178.2 L156.0,177.4 L157.4,175.8 L159.7,177.2 L161.4,176.7 L162.9,175.2 L164.7,175.0 L166.5,175.9 L166.5,178.1 L170.4,177.6 L168.0,181.4 L169.7,182.4 L171.4,181.6 L170.7,178.4 L173.5,178.7 L174.7,177.4 L176.2,175.6 L178.8,177.1 L179.7,173.7 L182.2,175.0 L184.6,175.4 L186.0,177.4 L187.5,178.6 L189.1,179.5 L191.8,176.9 L193.1,179.0 L194.7,180.0 L196.4,180.1 L197.9,179.0 L199.9,180.9 L201.1,178.0 L203.0,179.3 L204.6,178.7 L206.6,178.0 L207.8,180.8 L209.9,179.8 L209.0,178.1 L207.9,176.6 L207.4,174.8 L205.3,173.5 L208.2,171.1 L206.9,169.6 L206.5,168.0 L206.5,166.2 L205.0,164.8 L204.9,163.0 L203.5,161.6 L203.0,160.0 L202.6,158.3 L204.2,156.1 L202.5,154.8 L200.7,153.5 L201.1,151.6 L200.9,149.9 L201.0,148.1 L200.9,146.3 L198.8,145.1 L197.9,143.6 L199.1,141.5 L198.7,139.8 L199.2,137.7 L198.2,136.2 L197.1,134.8 L195.9,133.3 L195.9,131.4 L195.0,129.9 L194.3,128.4 L194.8,126.5 L192.8,125.4 L193.2,123.6 L192.5,122.1 L192.7,120.4 L191.9,118.9 L191.2,117.4 L193.0,114.7 L191.4,113.2 L190.7,111.3 L188.7,109.9 L186.3,108.6 L187.5,106.5 L186.9,104.8 L187.6,102.8 L184.4,101.7 L186.2,99.4 L186.7,101.3 L188.1,102.2 L190.0,102.4 L192.3,101.8 L194.1,102.7 L195.9,103.5 L197.5,104.9 L199.4,104.6 L201.4,104.9 L203.4,106.0 L205.0,103.7 L206.7,103.9 L208.2,105.2 L210.0,104.9 L212.4,102.9 L214.5,103.1 L216.6,103.9 L218.7,102.9 L218.6,104.7 L218.6,106.6 L220.3,108.1 L220.0,110.0 L220.2,111.6 L220.7,113.3 L219.6,115.0 L220.2,116.7 L220.8,118.3 L221.0,119.9 L220.7,121.6 L221.5,123.2 L221.2,124.9 L222.8,125.8 L223.7,127.4 L225.5,127.4 L227.4,128.2 L228.9,126.5 L230.6,126.1 L232.4,126.1 L234.1,126.0 L235.7,126.3 L237.0,127.8 L238.5,128.4 L240.2,128.5 L241.7,129.1 L243.3,129.5 L244.9,129.9 L246.5,130.4 L248.4,129.9 L250.0,130.9 L251.6,131.6 L253.3,131.6 L254.9,132.4 L256.7,132.4 L258.5,132.5 L260.2,133.1 L261.9,134.0 L263.8,133.6 L265.5,134.0 L267.3,134.4 L269.3,134.3 L271.1,133.7 L273.2,133.8 L274.8,132.4 L275.7,130.4 L278.1,130.8 L279.2,129.2 L280.8,128.5 L282.3,127.4 L283.8,126.8 L284.8,125.4 L284.9,123.6 L284.3,122.0 L283.4,120.6 L283.6,118.7 L282.3,117.4 L282.8,115.5 L283.5,113.6 L284.6,111.9 L284.8,109.9 L285.8,108.4 L288.1,108.2 L288.9,106.5 L289.8,104.9 L292.0,105.1 L293.1,103.2 L294.7,102.2 L296.5,101.6 L298.3,101.1 L299.8,99.9 L301.3,99.1 L303.0,99.2 L304.4,98.5 L306.3,98.9 L307.4,97.2 L309.3,97.7 L310.5,96.3 L312.2,96.2 L313.6,95.2 L315.2,94.9 L316.7,94.1 L318.5,94.4 L320.2,94.4 L321.6,93.4 L323.2,93.2 L324.7,92.4 L326.8,92.4 L328.1,90.9 L329.7,90.0 L331.3,88.9 L332.6,87.4 L334.7,87.4 L336.1,86.1 L336.0,83.8 L338.2,83.0 L338.9,81.3 L340.0,79.8 L341.8,79.2 L342.8,77.7 L344.0,76.3 L345.8,75.7 L347.0,74.3 L348.5,73.4 L350.0,72.4 L350.6,70.5 L351.2,68.6 L351.8,66.7 L352.5,64.9 L352.0,63.2 L352.4,61.6 L351.3,59.9 L352.4,58.2 L351.8,56.6 L353.1,54.9 L353.2,53.2 L351.4,51.6 L352.5,49.9 L352.8,48.1 L352.8,46.3 L352.4,44.5 L353.5,42.8 L353.1,40.9 L352.6,39.1 L353.7,37.4 L353.6,35.8 L353.6,34.2 L353.8,32.5 L353.0,30.9 L354.0,29.3 L354.1,27.7 L353.1,26.1 L353.3,24.4 L353.7,22.8 L353.7,21.2 L354.7,19.7 L356.8,19.4 L357.4,17.5 L359.1,16.8 L360.5,15.3 L362.2,14.6 L364.1,14.1 L366.3,14.5 L367.4,12.5 L369.2,12.0 L371.0,11.9 L372.8,11.7 L374.5,11.0 L376.6,11.9 L378.1,10.1 L379.9,10.0 L381.7,10.0 L383.3,9.3 L385.0,9.1 L386.4,7.7 L388.5,8.9 L389.9,7.5 L391.8,6.8 L393.7,6.3 L395.4,5.1 L397.4,5.0 L398.4,6.4 L398.4,8.2 L398.8,9.9 L399.9,11.2 L399.7,12.9 L399.6,14.5 L400.0,16.1 L400.6,17.7 L400.3,19.3 L400.6,20.9 L401.1,22.5 L402.4,24.1 L403.3,26.0 L404.9,27.4 L405.6,29.1 L407.3,30.0 L408.7,31.0 L409.8,32.4 L411.6,31.8 L413.5,31.5 L414.5,29.5 L416.1,28.7 L417.8,28.4 L419.6,28.1 L421.4,28.6 L422.9,26.7 L424.8,27.4 L425.9,28.8 L426.8,30.4 L428.9,30.8 L429.8,32.4 L429.3,34.4 L430.1,36.2 L431.0,38.0 L431.0,39.9 L431.5,41.8 L433.1,43.4 L433.2,45.4 L433.5,47.4 L435.6,48.4 L437.7,46.9 L439.8,47.4 L441.4,49.0 L443.6,48.6 L445.3,49.8 L447.3,49.9 L448.3,51.4 L450.3,52.2 L450.6,54.2 L451.2,56.0 L452.3,57.4 L454.4,57.4 L456.2,57.9 L457.8,59.5 L459.7,59.9 L461.4,59.5 L463.0,59.0 L464.7,59.5 L466.4,60.4 L468.0,59.6 L469.7,59.9 L470.6,61.5 L471.6,63.0 L473.4,63.7 L474.7,64.9 L475.1,66.6 L475.0,68.3 L474.1,69.9 L473.4,71.5 L473.6,73.2 L473.5,74.9 L473.8,76.7 L475.0,78.1 L475.2,79.9 L476.2,81.4 L476.8,83.1 L477.2,84.8 L479.1,84.1 L480.9,83.9 L482.8,84.5 L484.7,84.8 L486.4,83.6 L488.3,83.0 L490.4,83.3 L492.2,82.3 L493.7,81.3 L496.1,81.6 L497.0,79.7 L498.0,78.0 L499.7,77.3 L500.9,75.9 L501.5,74.1 L502.2,72.4 L503.8,72.0 L505.5,73.0 L507.1,72.4 L507.4,74.2 L508.4,76.1 L506.2,77.7 L506.8,79.5 L505.4,81.2 L506.4,83.1 L505.9,84.8 L507.0,86.4 L506.1,88.6 L508.0,90.0 L508.0,92.0 L508.6,93.9 L508.6,95.9 L510.0,97.5 L511.6,98.4 L513.4,99.1 L515.0,100.1 L516.5,101.2 L518.5,101.3 L520.0,102.5 L521.3,103.8 L522.8,104.7 L523.7,106.5 L526.0,106.3 L527.4,107.4 L529.3,107.8 L530.5,109.5 L532.4,110.0 L533.6,111.4 L534.3,113.0 L535.3,114.5 L535.9,116.3 L537.4,117.4 L538.8,116.4 L540.5,116.1 L541.6,114.2 L543.7,114.9 L545.7,114.0 L548.0,114.9 L549.9,113.7 L551.9,114.0 L553.8,114.6 L555.7,114.9 L557.4,116.2 L559.0,116.9 L560.7,117.1 L562.6,116.8 L564.0,118.2 L565.7,118.4 L567.4,118.7 L569.4,118.5 L571.0,117.1 L573.3,117.7 L574.9,116.2 L576.5,116.8 L578.2,117.0 L579.9,117.2 L581.5,117.7 L583.0,118.7 L584.8,118.7 L586.2,119.8 L586.9,121.6 L588.3,122.7 L589.8,123.7 L590.0,125.5 L591.1,126.8 L592.3,128.0 L594.0,129.0 L593.8,131.0 L594.8,132.4 L595.7,134.2 L597.2,135.6 L598.3,137.2 L599.8,138.6 L601.4,137.5 L603.0,136.7 L604.8,136.1 L606.5,135.6 L608.1,136.8 L609.8,136.1 L611.0,137.4 L612.5,138.4 L614.1,139.3 L614.8,141.1 L616.7,140.7 L618.7,141.3 L620.5,140.5 L622.3,139.9 L624.0,138.9 L626.3,139.4 L628.1,138.8 L629.7,137.4 L631.1,138.5 L632.7,139.1 L634.2,139.9 L636.0,139.9 L637.0,141.3 L638.2,142.7 L639.7,143.6 L641.4,143.5 L642.9,145.0 L644.7,144.6 L646.2,145.9 L648.2,144.0 L649.7,145.4 L651.3,145.9 L653.0,146.2 L654.7,145.6 L656.3,146.1 L658.0,146.4 L659.7,146.1 L661.3,147.0 L663.1,147.1 L664.7,147.9 L666.2,149.2 L667.8,149.9 L669.7,149.9 L668.8,151.5 L668.0,153.2 L667.2,154.9 L666.1,156.3 L664.7,157.5 L664.7,159.7 L663.8,161.2 L662.2,162.3 L661.1,163.8 L660.7,165.6 L659.5,167.0 L658.2,168.3 L657.2,169.8 L656.3,171.4 L656.5,173.3 L654.9,174.6 L655.6,176.8 L653.8,178.0 L653.4,179.8 L653.8,181.7 L653.2,183.3 L651.8,184.7 L652.0,186.5 L651.7,188.2 L650.9,189.8 L650.7,191.5 L649.9,193.1 L649.7,194.8 L649.3,196.5 L648.3,198.0 L648.5,199.8 L648.5,201.5 L647.9,203.2 L647.5,204.8 L646.2,206.2 L645.9,207.9 L646.0,209.7 L645.1,211.3 L645.6,213.0 L645.4,214.7 L644.7,216.3 L645.1,218.1 L644.7,219.7 L644.0,221.3 L643.9,223.0 L644.5,224.7 L643.9,226.4 L643.8,228.0 L643.5,229.7 L642.8,231.5 L642.5,233.2 L644.2,234.7 L644.3,236.4 L645.7,237.9 L644.7,239.7 L644.8,241.4 L645.1,243.1 L645.9,244.8 L645.1,246.6 L646.6,248.2 L646.0,250.0 L645.3,251.5 L644.4,252.9 L644.3,254.8 L642.5,255.7 L642.2,257.4 L640.4,257.9 L639.6,260.0 L638.1,261.0 L636.0,261.1 L634.7,262.4 L632.8,262.4 L631.0,263.1 L629.1,262.6 L627.2,262.4 L625.5,261.6 L623.9,260.8 L622.3,259.9 L620.4,260.3 L618.9,261.4 L617.3,262.4 L615.8,264.0 L615.3,265.9 L615.1,267.9 L614.8,269.9 L616.9,270.5 L618.9,270.6 L621.0,269.9 L619.5,271.3 L619.1,273.6 L617.3,274.9 L615.7,275.8 L614.8,277.4 L612.9,278.0 L612.3,279.9 L610.8,280.9 L609.8,282.4 L608.8,284.0 L607.3,285.3 L607.2,287.4 L606.6,289.1 L605.5,290.7 L604.8,292.4 L603.4,293.6 L601.8,294.3 L600.3,295.4 L598.7,296.3 L597.3,297.4 L595.4,298.3 L595.5,300.5 L594.3,301.8 L593.4,303.4 L592.3,304.8 L591.5,306.4 L592.1,308.3 L591.4,309.9 L590.7,311.5 L589.9,313.1 L589.8,314.8 L588.6,316.1 L587.5,317.5 L586.4,318.9 L584.6,319.6 L583.0,320.5 L582.3,322.3 L581.4,323.7 L580.7,325.3 L579.9,326.7 L579.8,328.5 L578.6,329.8 L578.1,331.7 L577.5,333.6 L576.6,335.4 L576.1,337.3 L575.9,339.0 L576.4,340.7 L574.9,342.2 L574.4,343.9 L575.2,345.7 L574.9,347.3 L574.3,349.0 L574.0,350.8 L573.4,352.5 L574.3,354.5 L572.2,356.0 L573.0,358.0 L572.4,359.7 L574.3,359.3 L575.4,357.8 L576.7,356.6 L578.3,355.7 L579.8,354.8 L581.7,354.4 L582.9,352.7 L584.8,352.3 L584.9,350.4 L585.2,348.5 L584.8,346.5 L586.1,344.8 L588.2,344.8 L589.8,343.5 L591.8,343.2 L593.5,342.2 L595.6,342.2 L597.3,341.0 L599.1,340.2 L601.0,340.4 L603.1,341.0 L604.8,339.8 L606.5,340.6 L608.4,339.1 L610.3,338.7 L611.8,340.2 L613.5,341.0 L613.2,342.8 L614.3,344.5 L614.4,346.3 L614.2,348.1 L614.8,349.8 L615.4,351.4 L614.9,353.1 L614.8,354.8 L615.1,356.4 L615.2,358.1 L615.9,359.7 L615.5,361.4 L616.1,363.0 L616.0,364.7 L617.4,365.7 L618.9,366.7 L620.8,365.3 L622.3,366.0 L624.1,367.3 L624.0,369.4 L624.3,371.3 L624.7,373.2 L626.0,374.7 L624.7,375.9 L624.9,377.9 L624.2,379.4 L622.4,380.4 L622.3,382.2 L621.8,384.0 L619.8,384.9 L619.4,386.8 L617.9,388.0 L617.3,389.7 L617.8,391.5 L618.6,393.2 L619.4,394.9 L621.1,396.1 L621.3,398.1 L622.3,399.7 L623.5,401.0 L624.6,402.3 L625.5,403.9 L627.2,404.7 L628.8,405.6 L630.4,406.5 L631.9,407.6 L633.3,408.8 L634.7,410.0 L633.5,411.5 L633.4,413.5 L631.6,414.7 L631.2,416.6 L630.6,418.4 L629.7,420.0 L629.0,421.8 L627.1,422.4 L625.7,423.5 L624.7,425.0 L623.7,426.8 L621.3,426.5 L619.7,427.2 L618.6,428.8 L617.2,430.0 L615.5,431.0 L613.3,431.4 L612.1,433.1 L611.0,434.9 L611.9,436.5 L611.8,438.2 L612.2,439.9 L613.5,441.1 L614.8,442.3 L616.9,442.7 L617.2,444.9 L617.7,446.8 L619.2,448.1 L619.7,449.9 L621.5,450.6 L623.5,451.1 L625.2,452.2 L627.2,452.4 L628.3,453.8 L629.6,455.2 L630.0,457.1 L630.6,458.8 L632.2,459.9 L631.5,461.6 L629.9,462.9 L629.7,464.9 L628.6,466.3 L627.9,468.1 L626.0,468.9 L626.1,471.1 L624.7,472.4 L624.7,474.4 L626.0,476.1 L626.0,478.2 L626.7,480.0 L627.7,481.5 L627.8,483.2 L627.1,485.0 L627.9,486.5 L628.3,488.1 L629.3,489.8 L630.5,491.3 L631.0,493.1 L632.9,494.3 L633.2,496.3 L635.0,496.4 L636.5,497.5 L638.2,497.8 L639.8,498.5 L641.3,499.5 L642.9,499.9 L644.6,500.2 L646.2,500.6 L647.8,501.1 L649.5,501.8 L651.1,501.3 L652.8,501.2 L654.3,500.3 L655.9,500.3 L657.5,500.0 L659.2,499.5 L660.8,500.3 L662.4,499.7 L663.8,498.4 L665.6,498.8 L667.3,498.7 L667.4,500.7 L667.5,502.7 L668.9,504.4 L668.0,505.9 L668.6,507.8 L667.4,509.2 L667.3,510.9 L666.6,512.8 L664.8,513.9 L664.1,515.8 L663.5,517.4 L662.4,518.9 L660.9,520.2 L661.6,522.3 L660.8,523.9 L659.8,525.4 L660.8,527.2 L659.5,528.3 L658.5,529.7 L656.6,530.3 L655.9,532.0 L653.8,532.3 L652.9,534.5 L651.1,535.3 L649.8,536.5 L649.2,538.3 L647.5,539.1 L646.2,540.2 L644.6,541.1 L643.8,542.6 L642.7,544.0 L641.3,545.0 L639.9,546.3 L638.0,545.9 L636.4,546.7 L634.9,547.6 L633.7,548.9 L632.6,550.2 L631.5,551.5 L630.3,553.2 L627.8,552.9 L626.7,554.8 L625.1,555.9 L623.5,557.0 L621.8,558.0 L620.6,559.5 L621.2,561.8 L619.4,563.0 L618.5,564.6 L617.8,566.2 L616.9,567.8 L617.2,569.5 L617.3,571.3 L618.5,572.7 L616.7,574.1 L615.3,575.9 L613.9,577.3 L612.1,576.9 L610.4,577.1 L608.8,577.6 L607.2,577.5 L605.5,578.3 L603.9,578.5 L602.3,577.6 L600.6,577.7 L599.0,578.2 L597.4,578.8 L595.8,579.2 L595.5,581.4 L592.8,581.9 L592.5,584.1 L591.6,586.3 L589.3,585.7 L587.6,585.4 L586.4,583.5 L584.4,584.1 L582.7,583.6 L581.2,582.8 L579.5,582.4 L578.1,583.6 L576.0,582.8 L574.6,584.1 L572.5,582.9 L571.4,580.8 L569.8,579.6 L568.2,578.6 L566.5,577.6 L564.7,577.7 L563.4,576.3 L561.4,577.1 L560.0,575.9 L558.1,575.5 L556.5,574.4 L554.7,573.6 L553.1,573.5 L551.6,572.7 L550.1,572.2 L548.4,572.4 L547.3,570.9 L546.3,569.5 L545.4,567.9 L544.7,566.2 L543.5,565.1 L543.0,563.4 L541.6,562.5 L540.9,561.0 L539.7,559.9 L538.0,559.1 L536.2,558.6 L534.7,557.4 L533.2,556.1 L531.1,556.2 L529.7,554.9 L530.3,556.5 L530.2,558.4 L532.1,559.4 L532.2,561.2 L530.5,561.6 L529.1,562.8 L527.2,562.4 L525.8,561.4 L524.2,560.5 L523.5,558.7 L523.3,560.4 L522.9,562.1 L522.2,563.7 L520.3,563.9 L518.3,563.4 L516.6,564.4 L514.7,564.9 L512.8,564.5 L511.0,564.9 L509.1,565.0 L507.2,564.9 L506.0,563.4 L504.7,562.0 L504.8,559.9 L502.9,559.6 L501.2,558.4 L499.2,558.7 L497.3,558.7 L495.4,559.0 L493.6,557.8 L491.7,558.9 L489.8,558.7 L488.0,558.6 L486.3,558.5 L484.8,557.4 L483.1,555.8 L482.3,553.7 L480.4,553.2 L478.6,552.4 L476.5,552.4 L475.5,554.4 L474.2,555.7 L472.3,556.2 L470.9,557.2 L469.4,557.8 L468.2,559.3 L466.3,559.1 L464.8,559.9 L463.2,560.5 L461.9,561.6 L460.4,562.3 L459.5,564.1 L458.2,565.2 L455.9,564.7 L454.9,566.2 L453.2,566.6 L452.5,568.7 L450.6,568.8 L449.2,569.7 L447.6,570.4 L446.3,571.4 L444.9,572.4 L443.6,573.6 L441.8,574.3 L440.4,575.3 L438.9,576.4 L437.4,577.4 L436.9,579.4 L436.1,581.1 L434.0,581.5 L432.4,582.4 L432.5,584.3 L430.8,585.3 L429.8,586.7 L429.3,588.3 L428.7,589.9 L428.6,591.6 L428.1,593.2 L427.2,594.7 L427.9,596.6 L426.7,598.1 L426.9,599.8 L426.5,601.5 L426.8,603.1 L426.1,604.8 L427.3,606.5 L426.4,608.1 L427.4,609.8 L427.3,611.5 L427.5,613.1 L426.9,614.8 L426.7,616.6 L427.6,618.4 L427.1,620.2 L427.8,621.9 L426.7,623.8 L426.3,625.6 L427.4,627.3 L429.0,628.2 L430.3,629.8 L432.4,629.8 L432.5,631.5 L432.0,633.4 L433.6,634.8 L432.0,634.3 L430.1,634.8 L428.7,633.5 L428.0,631.7 L426.1,631.1 L424.9,629.8 L423.5,631.1 L421.7,631.8 L419.9,632.3 L418.6,633.9 L416.6,634.0 L414.9,634.8 L413.4,635.8 L411.4,634.8 L409.9,636.0 L408.0,637.0 L407.2,639.3 L405.0,639.8 L403.6,641.2 L401.8,641.2 L400.0,641.5 L398.0,642.1 L396.5,640.7 L395.0,639.9 L393.6,639.1 L391.9,638.6 L390.7,637.4 L388.5,636.8 L386.5,635.7 L384.9,635.2 L383.3,634.4 L381.5,634.9 L379.5,635.0 L378.2,636.5 L376.6,637.4 L374.7,638.1 L373.5,639.9 L371.6,640.7 L369.0,639.0 L368.8,636.9 L368.2,634.9 L370.7,634.0 L369.0,631.6 L367.2,632.9 L364.9,633.3 L363.4,632.2 L361.4,632.5 L360.0,631.2 L357.8,631.1 L355.8,630.0 L355.8,628.3 L356.1,626.7 L355.8,625.0 L356.6,622.4 L354.7,622.6 L353.2,621.6 L351.6,620.8 L350.0,619.9 L348.3,619.0 L346.6,618.3 L345.1,619.1 L343.3,619.1 L342.0,620.5 L340.8,622.0 L339.8,620.3 L339.8,618.1 L338.3,616.6 L336.9,614.7 L335.0,613.3 L333.2,613.8 L331.5,614.0 L330.0,612.5 L328.5,611.9 L327.1,610.8 L325.4,610.8 L323.9,609.9 L322.2,609.8 L320.2,609.4 L318.2,609.3 L316.7,607.5 L314.7,607.3 L312.8,606.6 L311.1,605.7 L308.8,606.1 L307.2,604.8 L305.4,604.1 L303.3,603.9 L301.7,602.5 L299.7,602.3 L299.7,604.2 L299.4,606.1 L299.1,608.0 L298.5,609.8 L297.8,611.5 L298.5,613.1 L298.5,614.8 L296.8,615.3 L295.0,615.6 L293.3,615.7 L291.4,614.4 L289.7,615.3 L288.1,616.3 L286.4,615.8 L284.8,614.9 L283.1,614.7 L281.4,615.4 L279.8,615.3 L278.4,613.9 L276.7,612.9 L274.8,612.3 L272.8,612.1 L271.0,612.9 L269.0,612.3 L267.3,613.5 L265.6,613.4 L264.0,612.6 L262.3,613.5 L259.9,613.8 L257.6,613.0 L256.4,611.6 L254.3,611.6 L252.7,610.7 L251.8,608.8 L250.2,608.0 L248.2,607.8 L246.6,606.6 L244.5,606.7 L242.9,605.6 L241.4,604.1 L239.3,604.4 L237.2,604.4 L235.6,603.2 L234.3,604.9 L233.2,606.8 L232.4,604.7 L230.7,603.2 L229.2,602.3 L228.5,600.5 L227.9,598.7 L225.9,598.3 L225.0,596.7 L223.5,595.8 L222.0,594.8 L221.0,593.4 L219.0,592.7 L216.8,593.4 L214.9,592.2 L212.5,593.4 L210.8,591.7 L208.8,591.0 L207.1,590.9 L206.1,588.8 L204.3,589.0 L202.7,588.5 L200.6,588.6 L198.5,588.3 L196.6,587.3 L195.6,585.9 L193.9,585.2 L193.0,583.7 L191.4,584.4 L189.7,584.5 L188.0,584.9 L186.9,583.0 L185.6,581.2 L186.9,579.6 L188.1,578.0 L189.3,576.3 L190.4,574.9 L191.0,573.3 L190.5,571.5 L188.5,571.3 L188.2,568.4 L186.0,568.6 L184.4,567.8 L182.4,568.0 L181.3,569.7 L179.5,570.2 L178.3,567.8 L176.3,567.2 L174.3,566.8 L172.2,566.6 L171.5,564.9 L171.1,563.1 L169.8,561.7 L171.3,560.8 L172.2,559.3 L174.1,558.4 L176.3,558.4 L178.3,558.0 L179.5,556.6 L180.4,555.0 L180.7,553.1 L181.6,551.5 L182.5,549.9 L182.9,548.2 L182.8,546.4 L183.1,544.7 L185.0,543.5 L184.4,541.5 L185.0,539.9 L185.4,538.1 L185.3,536.3 L186.8,534.7 L187.4,532.9 L186.6,531.0 L187.4,529.2 L187.4,527.4 L187.4,525.6 L189.1,524.1 L189.0,522.2 L188.4,520.2 L189.9,518.7 L189.8,516.8 L189.9,515.0 L190.6,513.4 L191.0,511.7 L190.8,509.9 L191.3,508.3 L192.4,506.8 L192.4,505.0 L192.4,503.2 L194.4,502.0 L193.7,500.0 L194.4,498.4 L195.0,496.8 L195.7,495.3 L197.1,494.1 L198.0,492.6 L198.4,490.9 L199.5,489.5 L199.1,487.4 L200.4,486.1 L201.1,484.6 L202.1,483.2 L203.1,481.8 L203.6,480.1 L202.7,478.2 L205.8,476.9 L203.8,474.8 L204.7,473.2 L205.2,471.5 L204.9,469.7 L205.5,468.1 L205.3,466.4 L203.7,464.6 L204.9,463.0 L206.0,461.4 L205.2,459.7 L205.3,458.0 L204.7,456.3 L206.1,454.7 L206.9,453.1 L206.7,451.4 L206.1,449.7 L206.6,448.0 L206.8,446.4 L206.4,444.6 L207.0,443.0 L207.4,441.4 L207.4,439.7 L207.9,438.1 L208.4,436.4 L207.8,434.7 L207.7,433.1 L208.3,431.4 L207.9,429.7 L207.7,428.1 L209.1,426.5 L208.6,424.8 L208.5,423.1 L209.0,421.5 L209.6,419.8 L208.3,418.1 L209.8,416.5 L209.8,414.8 L209.5,413.1 L210.1,411.5 L209.9,409.8 L209.6,408.1 L208.8,406.3 L210.6,405.0 L211.1,403.5 L213.0,404.0 L213.6,406.2 L215.3,406.8 L217.1,407.4 L218.3,408.8 L219.8,409.8 L219.9,411.9 L221.0,413.3 L222.5,414.5 L223.5,416.0 L224.8,417.3 L226.0,418.6 L226.9,420.2 L227.6,421.8 L229.0,423.1 L229.8,424.7 L231.0,426.0 L229.8,424.3 L229.8,422.3 L228.0,421.3 L226.7,420.0 L226.5,418.0 L226.7,415.7 L224.8,414.8 L224.6,412.8 L222.1,412.2 L220.8,411.0 L221.3,408.4 L219.8,407.3 L218.5,406.0 L216.2,406.2 L215.8,403.6 L214.0,403.2 L212.4,402.3 L212.2,400.4 L210.5,399.6 L209.8,398.1 L208.4,397.1 L206.6,396.5 L206.1,394.8 L207.4,392.3 L207.9,390.4 L208.1,388.4 L209.9,386.9 L209.9,384.8 L210.0,382.8 L210.5,380.9 L212.4,379.8 L214.4,379.3 L215.9,377.8 L216.1,375.6 L214.6,374.1 L216.3,372.7 L215.9,370.5 L217.1,368.8 L216.5,366.8 L214.5,365.6 L214.6,363.2 L212.6,363.1 L211.0,362.0 L210.0,360.3 L209.8,358.3 L211.0,356.4 L212.2,354.6 L211.6,352.0 L214.0,351.0 L212.2,348.5 L210.6,348.1 L209.0,347.5 L207.3,347.3 L205.3,347.2 L204.1,345.6 L202.4,344.9 L200.3,344.6 L198.8,346.1 L197.0,344.9 L195.1,343.7 L194.5,341.9 L193.3,340.7 L191.5,340.0 L190.0,339.0 L188.3,338.2 L186.6,337.6 L184.8,336.5 L183.7,334.6 L181.7,333.9 L179.9,331.5 L179.0,329.5 L178.3,327.5 L178.0,325.4 L177.4,323.7 L175.9,322.5 L175.5,320.7 L174.4,319.3 L173.6,317.3 L172.0,316.0 L170.7,314.4 L169.1,313.1 L167.8,311.5 L165.9,310.7 L165.6,308.8 L164.6,307.1 L164.5,305.0 L165.9,303.4 L166.5,301.2 L168.3,299.8 L170.0,298.8 L170.6,297.0 L170.6,294.8 L172.6,294.0 L171.6,292.1 L172.0,290.0 L169.9,288.3 L168.3,287.7 L166.2,288.4 L165.0,286.7 L163.7,285.3 L161.8,285.0 L161.9,283.4 L162.5,281.8 L161.8,280.2 L162.8,278.0 L165.4,279.3 L166.7,277.7 L168.6,280.1 L169.8,276.3 L171.8,278.8 L173.2,276.9 L174.0,274.5 L171.9,273.5 L170.1,274.2 L168.3,275.3 L166.7,275.6 L165.2,277.2 L163.6,277.0 L161.8,276.1 L160.0,275.4 L158.3,275.3 L156.9,276.9 L155.8,274.8 L154.0,274.6 L152.0,275.3 L151.4,273.3 L149.0,273.5 L148.0,272.0 L146.7,270.2 L148.7,268.8 L149.3,267.2 L148.8,265.5 L150.5,264.0 L152.0,262.3 L150.1,260.6 L152.0,259.0 L150.2,259.1 L148.2,259.7 L147.2,257.4 L145.5,257.4 L144.1,259.2 L142.3,258.2 L140.7,258.2 L139.1,257.4 L137.5,257.4 L135.8,257.4 L138.7,257.8 L139.8,255.0 L138.0,253.2 L139.0,250.9 L138.2,254.1 L135.3,250.8 L134.1,252.5 L133.3,250.0 L130.9,250.9 L129.9,248.6 L127.8,249.4 L126.0,249.3 L124.2,249.8 L123.2,251.3 L122.0,252.5 L123.2,254.5 L121.8,255.9 L120.1,257.2 L120.3,259.0 L119.2,257.5 L121.9,255.1 L117.2,254.6 L118.7,252.5 L118.4,250.8 L120.7,249.5 L119.5,247.6 L118.0,246.3 L117.9,244.4 L115.5,244.5 L113.7,243.6 L113.0,241.1 L110.9,240.8 L110.8,237.3 L108.1,237.9 L106.8,236.3 L105.3,235.1 L103.3,234.6 L101.3,234.1 L100.0,232.5 L98.1,231.4 L96.3,232.4 L94.5,232.6 L92.4,233.0 L90.9,231.8 L89.5,230.3 L87.7,229.9 L86.6,227.8 L84.3,228.6 L82.9,227.2 L81.0,227.2 L80.3,223.9 L76.9,226.3 L75.5,224.5 L73.0,224.3 L72.8,221.8 L70.8,222.4 L70.5,224.1 L70.1,225.8 L69.1,227.2 L67.7,228.3 L67.3,230.2 L66.0,231.3 L64.0,230.6 L62.0,231.3 L61.2,229.6 L62.1,227.4 L60.6,225.8 L59.1,224.0 L59.6,222.2 L60.6,220.4 L59.4,218.9 L57.5,218.1 L56.6,216.4 L55.3,215.0 L53.3,215.3 L51.5,215.4 L50.1,213.9 L48.4,213.7 L46.1,213.2 L44.4,211.6 L45.7,209.2 L47.6,209.3 L49.5,209.3 L51.3,209.3 L53.3,209.6 L55.0,209.0 L57.0,209.7 L58.4,208.7 L60.5,209.8 L61.9,208.6 L63.0,206.5 L62.3,204.8 L62.0,203.0 L60.0,201.0 L58.2,201.8 L56.7,204.1 L54.7,203.3 L53.0,204.0 L55.2,203.6 L55.3,201.6 L56.0,200.0 L55.6,197.8 L53.7,197.2 L52.0,196.5 L53.7,197.4 L55.2,195.9 L56.8,196.8 L58.4,195.7 L60.0,196.0 L61.5,197.1 L63.5,194.3 L64.7,197.1 L66.2,198.5 L68.0,197.0 L70.2,197.3 L72.0,196.0 L70.8,195.0 L70.0,193.4 L67.6,193.8 L67.0,192.0 L65.0,192.8 L63.3,191.9 L61.5,191.4 L59.8,189.7 L57.7,191.8 L56.0,190.5 L54.4,189.1 L52.6,192.3 L51.0,191.2 L49.3,190.2 L47.7,188.5 L46.0,190.0 L44.8,188.6 L42.3,187.5 L44.4,185.0 L45.0,183.3 L44.4,181.7 L44.4,180.0 L43.5,177.8 L44.0,176.0 Z M193.0,352.0 L200.0,353.5 L206.0,356.0 L205.0,359.5 L199.0,357.5 L193.0,355.0 Z M199.0,367.0 L204.0,368.0 L208.0,372.0 L208.5,379.0 L206.0,381.0 L202.0,376.0 L199.0,371.0 Z M112.0,265.0 L117.0,265.5 L122.0,269.0 L121.0,272.5 L116.0,271.5 L112.0,268.0 Z M157.5,293.5 L160.0,294.0 L161.5,299.0 L159.0,299.5 Z M152.5,315.5 L156.0,316.0 L157.0,318.0 L154.0,318.5 Z M27.0,178.0 L32.0,177.5 L33.5,180.0 L29.0,181.5 Z M592.5,587.0 L595.0,585.5 L597.5,586.5 L595.0,588.5 Z M604.0,585.5 L607.0,584.0 L610.5,584.5 L608.0,586.5 Z M599.0,584.8 L601.5,584.0 L602.5,585.5 L600.0,586.2 Z" fill="none" stroke="#000" stroke-width="1.3" stroke-linejoin="round"/>
<path d="M762.6,576.4 L764.9,575.6 L767.3,576.0 L769.1,577.7 L769.2,580.2 L769.6,582.1 L769.4,584.0 L769.2,586.0 L770.2,587.8 L770.3,589.7 L771.0,591.5 L771.4,593.4 L771.1,595.3 L771.2,597.0 L771.2,598.7 L772.7,599.9 L774.2,601.1 L774.0,602.9 L775.3,604.6 L774.2,607.1 L775.9,608.6 L775.9,610.5 L777.5,612.3 L776.5,614.3 L777.4,616.1 L776.8,618.1 L777.5,619.6 L777.8,621.2 L778.2,622.8 L777.7,624.5 L778.4,626.0 L778.7,627.6 L779.1,629.5 L778.4,631.4 L778.1,633.3 L779.9,635.2 L778.7,637.1 L778.4,639.0 L778.4,641.1 L777.4,642.8 L776.8,644.7 L777.3,646.8 L776.0,648.5 L775.7,650.3 L775.5,652.3 L774.9,654.1 L775.3,655.8 L774.5,657.3 L774.7,659.0 L774.6,660.6 L773.2,662.0 L773.0,663.6 L773.4,665.3 L771.6,666.6 L771.6,668.3 L773.1,670.2 L771.2,671.5 L771.1,673.1 L771.7,675.1 L770.7,676.9 L770.5,678.8 L771.8,680.8 L770.2,682.6 L770.2,684.2 L770.1,685.9 L769.1,687.4 L770.5,689.2 L769.0,690.7 L770.1,692.4 L769.2,694.0 L768.3,695.9 L766.3,695.5 L764.3,695.2 L762.6,694.0 L761.7,692.2 L760.0,691.8 L759.3,689.7 L756.9,690.2 L755.7,688.9 L754.4,687.8 L753.0,686.9 L751.2,686.4 L749.2,686.2 L747.4,685.2 L745.5,684.5 L744.9,682.6 L742.8,682.2 L741.7,680.7 L742.5,678.8 L743.0,676.9 L743.6,675.0 L745.7,674.4 L747.4,673.1 L745.4,672.7 L743.6,671.9 L741.7,671.2 L739.9,669.7 L737.9,668.4 L737.0,666.8 L735.5,665.5 L735.1,663.6 L734.1,661.3 L732.2,659.8 L730.4,658.3 L730.3,656.0 L731.1,653.6 L733.2,652.2 L733.9,649.8 L736.0,648.4 L737.6,646.9 L737.9,644.7 L735.9,644.0 L734.1,642.8 L731.9,642.5 L730.3,640.9 L728.5,640.2 L728.0,638.2 L726.6,637.1 L725.0,635.5 L724.7,633.3 L726.0,631.1 L728.4,630.4 L727.3,628.7 L725.6,627.6 L723.9,626.6 L723.7,624.7 L725.0,622.7 L726.6,621.0 L727.2,619.4 L727.5,617.7 L728.4,616.2 L729.0,614.6 L730.5,613.4 L730.3,611.5 L731.3,610.0 L732.2,608.3 L734.1,607.7 L735.4,605.6 L737.8,605.6 L739.8,604.8 L741.6,603.6 L743.7,603.1 L745.5,602.0 L747.2,600.3 L749.3,599.1 L751.1,597.9 L753.1,597.2 L755.1,597.2 L756.9,598.2 L758.8,597.8 L760.7,598.2 L761.4,596.6 L761.7,594.9 L762.6,593.4 L762.4,591.5 L763.4,589.5 L762.2,587.7 L761.6,585.9 L760.5,584.2 L762.8,582.5 L761.8,580.9 L761.6,579.2 Z" fill="none" stroke="#000" stroke-width="1.3" stroke-linejoin="round"/>
<g class="lb"><text x="59.9" y="177.7" transform="rotate(-45 59.9 174.0)">90</text><text x="97.3" y="182.7">90</text><text x="129.8" y="172.5" transform="rotate(60 129.8 168.8)">90</text><text x="114.3" y="203.7">110</text><text x="239.6" y="190.0">100</text><text x="255.0" y="196.7" transform="rotate(70 255.0 193.0)">110</text><text x="220.0" y="201.7" transform="rotate(20 220.0 198.0)">110</text><text x="228.2" y="214.3" transform="rotate(60 228.2 210.6)">120</text><text x="225.4" y="226.6" transform="rotate(60 225.4 222.9)">130</text><text x="170.5" y="236.7" transform="rotate(-30 170.5 233.0)">140</text><text x="178.6" y="249.7" transform="rotate(-90 178.6 246.0)">140</text><text x="221.3" y="249.7" transform="rotate(90 221.3 246.0)">140</text><text x="239.6" y="160.3" transform="rotate(60 239.6 156.6)">140</text><text x="283.5" y="176.5" transform="rotate(-90 283.5 172.8)">110</text><text x="289.2" y="170.4" transform="rotate(-90 289.2 166.7)">100</text><text x="299.8" y="130.6" transform="rotate(-45 299.8 126.9)">90</text><text x="335.2" y="129.7" transform="rotate(20 335.2 126.0)">80</text><text x="314.8" y="166.4" transform="rotate(50 314.8 162.7)">70</text><text x="339.2" y="160.3" transform="rotate(-60 339.2 156.6)">70</text><text x="320.9" y="255.7" transform="rotate(30 320.9 252.0)">90</text><text x="339.2" y="276.2" transform="rotate(-40 339.2 272.5)">130</text><text x="304.7" y="296.5" transform="rotate(-30 304.7 292.8)">100</text><text x="380.7" y="26.1" transform="rotate(-60 380.7 22.4)">130</text><text x="436.8" y="91.1" transform="rotate(80 436.8 87.4)">140</text><text x="460.0" y="110.2">130</text><text x="364.4" y="129.7" transform="rotate(-80 364.4 126.0)">90</text><text x="360.3" y="148.1" transform="rotate(-20 360.3 144.4)">70</text><text x="388.0" y="158.2" transform="rotate(-60 388.0 154.5)">60</text><text x="401.0" y="150.1" transform="rotate(-60 401.0 146.4)">70</text><text x="390.8" y="178.6">80</text><text x="446.5" y="172.5" transform="rotate(-50 446.5 168.8)">140</text><text x="384.7" y="223.3" transform="rotate(-40 384.7 219.6)">120</text><text x="439.6" y="237.2">200</text><text x="502.7" y="243.7" transform="rotate(-60 502.7 240.0)">200</text><text x="586.0" y="148.1" transform="rotate(-50 586.0 144.4)">180</text><text x="390.8" y="286.3" transform="rotate(-60 390.8 282.6)">180</text><text x="362.4" y="294.5" transform="rotate(-60 362.4 290.8)">120</text><text x="602.3" y="276.2" transform="rotate(-40 602.3 272.5)">140</text><text x="561.6" y="296.5" transform="rotate(-60 561.6 292.8)">140</text><text x="412.2" y="308.9" transform="rotate(-60 412.2 305.2)">160</text><text x="351.3" y="339.4" transform="rotate(70 351.3 335.7)">140</text><text x="321.8" y="351.2" transform="rotate(-55 321.8 347.5)">110</text><text x="217.5" y="362.1">60</text><text x="233.8" y="378.3" transform="rotate(-30 233.8 374.6)">90</text><text x="265.6" y="395.3" transform="rotate(90 265.6 391.6)">90</text><text x="217.5" y="395.3" transform="rotate(-40 217.5 391.6)">70</text><text x="386.8" y="385.1" transform="rotate(60 386.8 381.4)">130</text><text x="325.9" y="393.6">90</text><text x="353.0" y="401.3">80</text><text x="366.5" y="419.0" transform="rotate(30 366.5 415.3)">110</text><text x="410.5" y="417.3">110</text><text x="417.3" y="429.1" transform="rotate(60 417.3 425.4)">120</text><text x="226.0" y="437.6" transform="rotate(-30 226.0 433.9)">60</text><text x="232.8" y="442.7">90</text><text x="324.2" y="435.2">120</text><text x="310.6" y="447.7">120</text><text x="275.1" y="478.2">140</text><text x="244.6" y="483.3" transform="rotate(40 244.6 479.6)">150</text><text x="275.1" y="530.7">70</text><text x="290.3" y="537.4">60</text><text x="523.3" y="317.8" transform="rotate(80 523.3 314.1)">100</text><text x="483.4" y="322.7" transform="rotate(-60 483.4 319.0)">90</text><text x="512.6" y="334.1" transform="rotate(-70 512.6 330.4)">90</text><text x="467.1" y="342.2" transform="rotate(80 467.1 338.5)">100</text><text x="537.0" y="347.1" transform="rotate(40 537.0 343.4)">120</text><text x="611.7" y="353.6" transform="rotate(-80 611.7 349.9)">140</text><text x="467.1" y="387.7" transform="rotate(-70 467.1 384.0)">120</text><text x="546.7" y="382.8" transform="rotate(-60 546.7 379.1)">110</text><text x="527.2" y="397.4" transform="rotate(-40 527.2 393.7)">80</text><text x="512.6" y="403.9" transform="rotate(-50 512.6 400.2)">70</text><text x="528.9" y="405.6" transform="rotate(-30 528.9 401.9)">100</text><text x="486.6" y="403.9" transform="rotate(-60 486.6 400.2)">80</text><text x="472.0" y="413.7" transform="rotate(-60 472.0 410.0)">90</text><text x="572.7" y="402.3" transform="rotate(-60 572.7 398.6)">140</text><text x="628.0" y="413.7" transform="rotate(-80 628.0 410.0)">140</text><text x="567.9" y="434.8" transform="rotate(-70 567.9 431.1)">120</text><text x="501.2" y="464.7">130</text><text x="444.4" y="461.8">70</text><text x="452.5" y="473.8">60</text><text x="470.4" y="475.4" transform="rotate(-30 470.4 471.7)">50</text><text x="450.9" y="497.5" transform="rotate(60 450.9 493.8)">50</text><text x="517.5" y="496.6" transform="rotate(-60 517.5 492.9)">130</text><text x="546.7" y="498.2" transform="rotate(-30 546.7 494.5)">130</text><text x="416.1" y="544.7" transform="rotate(-30 416.1 541.0)">40</text><text x="438.1" y="539.2">90</text><text x="449.6" y="557.5" transform="rotate(-45 449.6 553.8)">50</text><text x="390.5" y="605.1" transform="rotate(60 390.5 601.4)">40</text><text x="390.5" y="617.9" transform="rotate(60 390.5 614.2)">30</text><text x="330.1" y="588.6" transform="rotate(70 330.1 584.9)">80</text><text x="207.6" y="579.4">60</text><text x="569.8" y="523.9" transform="rotate(-60 569.8 520.2)">50</text><text x="594.5" y="529.2" transform="rotate(-45 594.5 525.5)">60</text><text x="532.6" y="552.2">40</text><text x="601.6" y="568.1">40</text><text x="555.6" y="573.4">70</text><text x="484.9" y="536.3">40</text><text x="540.0" y="425.7" transform="rotate(-60 540.0 422.0)">180</text><text x="545.0" y="435.7" transform="rotate(-60 545.0 432.0)">200</text><text x="744.0" y="614.7">40</text><text x="754.0" y="666.7">50</text></g>
<rect x="850.5" y="679.08" width="23.0" height="30.72" fill="#c0392f"/>
<rect x="850.5" y="648.66" width="23.0" height="30.72" fill="#d24f4b"/>
<rect x="850.5" y="618.24" width="23.0" height="30.72" fill="#de6a6a"/>
<rect x="850.5" y="587.82" width="23.0" height="30.72" fill="#e68a8b"/>
<rect x="850.5" y="557.39" width="23.0" height="30.72" fill="#eda7a8"/>
<rect x="850.5" y="526.97" width="23.0" height="30.72" fill="#f4c8c9"/>
<rect x="850.5" y="496.55" width="23.0" height="30.72" fill="#f8e5e5"/>
<rect x="850.5" y="466.13" width="23.0" height="30.72" fill="#ece9ec"/>
<rect x="850.5" y="435.71" width="23.0" height="30.72" fill="#e8eef5"/>
<rect x="850.5" y="405.29" width="23.0" height="30.72" fill="#def1fd"/>
<rect x="850.5" y="374.87" width="23.0" height="30.72" fill="#c5e7fb"/>
<rect x="850.5" y="344.45" width="23.0" height="30.72" fill="#acdcfa"/>
<rect x="850.5" y="314.03" width="23.0" height="30.72" fill="#9ad5fd"/>
<rect x="850.5" y="283.61" width="23.0" height="30.72" fill="#7fc0ff"/>
<rect x="850.5" y="253.18" width="23.0" height="30.72" fill="#65aeff"/>
<rect x="850.5" y="222.76" width="23.0" height="30.72" fill="#4c9bff"/>
<rect x="850.5" y="192.34" width="23.0" height="30.72" fill="#3a8cff"/>
<rect x="850.5" y="161.92" width="23.0" height="30.72" fill="#1270ff"/>
<rect x="850.5" y="131.50" width="23.0" height="30.72" fill="#0061ff"/>
<line x1="850.5" x2="873.5" y1="679.08" y2="679.08" stroke="#333" stroke-width="1"/>
<line x1="850.5" x2="873.5" y1="648.66" y2="648.66" stroke="#333" stroke-width="1"/>
<line x1="850.5" x2="873.5" y1="618.24" y2="618.24" stroke="#333" stroke-width="1"/>
<line x1="850.5" x2="873.5" y1="587.82" y2="587.82" stroke="#333" stroke-width="1"/>
<line x1="850.5" x2="873.5" y1="557.39" y2="557.39" stroke="#333" stroke-width="1"/>
<line x1="850.5" x2="873.5" y1="526.97" y2="526.97" stroke="#333" stroke-width="1"/>
<line x1="850.5" x2="873.5" y1="496.55" y2="496.55" stroke="#333" stroke-width="1"/>
<line x1="850.5" x2="873.5" y1="466.13" y2="466.13" stroke="#333" stroke-width="1"/>
<line x1="850.5" x2="873.5" y1="435.71" y2="435.71" stroke="#333" stroke-width="1"/>
<line x1="850.5" x2="873.5" y1="405.29" y2="405.29" stroke="#333" stroke-width="1"/>
<line x1="850.5" x2="873.5" y1="374.87" y2="374.87" stroke="#333" stroke-width="1"/>
<line x1="850.5" x2="873.5" y1="344.45" y2="344.45" stroke="#333" stroke-width="1"/>
<line x1="850.5" x2="873.5" y1="314.03" y2="314.03" stroke="#333" stroke-width="1"/>
<line x1="850.5" x2="873.5" y1="283.61" y2="283.61" stroke="#333" stroke-width="1"/>
<line x1="850.5" x2="873.5" y1="253.18" y2="253.18" stroke="#333" stroke-width="1"/>
<line x1="850.5" x2="873.5" y1="222.76" y2="222.76" stroke="#333" stroke-width="1"/>
<line x1="850.5" x2="873.5" y1="192.34" y2="192.34" stroke="#333" stroke-width="1"/>
<line x1="850.5" x2="873.5" y1="161.92" y2="161.92" stroke="#333" stroke-width="1"/>
<path d="M849.5,131.5 L862.0,119.5 L874.5,131.5 Z" fill="#2060c0" stroke="#000" stroke-width="3" stroke-linejoin="miter"/>
<path d="M849.5,709.5 L862.0,721.5 L874.5,709.5 Z" fill="#a83a33" stroke="#000" stroke-width="3" stroke-linejoin="miter"/>
<rect x="850.5" y="131.5" width="23.0" height="578.0" fill="none" stroke="#000" stroke-width="3"/>
<line x1="875.0" x2="886" y1="709.50" y2="709.50" stroke="#000" stroke-width="1.6"/>
<text x="914.5" y="713.50" text-anchor="end" class="cl">20</text>
<line x1="875.0" x2="886" y1="679.08" y2="679.08" stroke="#000" stroke-width="1.6"/>
<text x="914.5" y="683.08" text-anchor="end" class="cl">30</text>
<line x1="875.0" x2="886" y1="648.66" y2="648.66" stroke="#000" stroke-width="1.6"/>
<text x="914.5" y="652.66" text-anchor="end" class="cl">40</text>
<line x1="875.0" x2="886" y1="618.24" y2="618.24" stroke="#000" stroke-width="1.6"/>
<text x="914.5" y="622.24" text-anchor="end" class="cl">50</text>
<line x1="875.0" x2="886" y1="587.82" y2="587.82" stroke="#000" stroke-width="1.6"/>
<text x="914.5" y="591.82" text-anchor="end" class="cl">60</text>
<line x1="875.0" x2="886" y1="557.39" y2="557.39" stroke="#000" stroke-width="1.6"/>
<text x="914.5" y="561.39" text-anchor="end" class="cl">70</text>
<line x1="875.0" x2="886" y1="526.97" y2="526.97" stroke="#000" stroke-width="1.6"/>
<text x="914.5" y="530.97" text-anchor="end" class="cl">80</text>
<line x1="875.0" x2="886" y1="496.55" y2="496.55" stroke="#000" stroke-width="1.6"/>
<text x="914.5" y="500.55" text-anchor="end" class="cl">90</text>
<line x1="875.0" x2="886" y1="466.13" y2="466.13" stroke="#000" stroke-width="1.6"/>
<text x="914.5" y="470.13" text-anchor="end" class="cl">100</text>
<line x1="875.0" x2="886" y1="435.71" y2="435.71" stroke="#000" stroke-width="1.6"/>
<text x="914.5" y="439.71" text-anchor="end" class="cl">110</text>
<line x1="875.0" x2="886" y1="405.29" y2="405.29" stroke="#000" stroke-width="1.6"/>
<text x="914.5" y="409.29" text-anchor="end" class="cl">120</text>
<line x1="875.0" x2="886" y1="374.87" y2="374.87" stroke="#000" stroke-width="1.6"/>
<text x="914.5" y="378.87" text-anchor="end" class="cl">130</text>
<line x1="875.0" x2="886" y1="344.45" y2="344.45" stroke="#000" stroke-width="1.6"/>
<text x="914.5" y="348.45" text-anchor="end" class="cl">140</text>
<line x1="875.0" x2="886" y1="314.03" y2="314.03" stroke="#000" stroke-width="1.6"/>
<text x="914.5" y="318.03" text-anchor="end" class="cl">160</text>
<line x1="875.0" x2="886" y1="283.61" y2="283.61" stroke="#000" stroke-width="1.6"/>
<text x="914.5" y="287.61" text-anchor="end" class="cl">180</text>
<line x1="875.0" x2="886" y1="253.18" y2="253.18" stroke="#000" stroke-width="1.6"/>
<text x="914.5" y="257.18" text-anchor="end" class="cl">200</text>
<line x1="875.0" x2="886" y1="222.76" y2="222.76" stroke="#000" stroke-width="1.6"/>
<text x="914.5" y="226.76" text-anchor="end" class="cl">250</text>
<line x1="875.0" x2="886" y1="192.34" y2="192.34" stroke="#000" stroke-width="1.6"/>
<text x="914.5" y="196.34" text-anchor="end" class="cl">300</text>
<line x1="875.0" x2="886" y1="161.92" y2="161.92" stroke="#000" stroke-width="1.6"/>
<text x="914.5" y="165.92" text-anchor="end" class="cl">400</text>
<line x1="875.0" x2="886" y1="131.50" y2="131.50" stroke="#000" stroke-width="1.6"/>
<text x="914.5" y="135.50" text-anchor="end" class="cl">500</text>
<text x="862.5" y="107.5" text-anchor="middle" class="cl">%</text>
</svg></body></html>
